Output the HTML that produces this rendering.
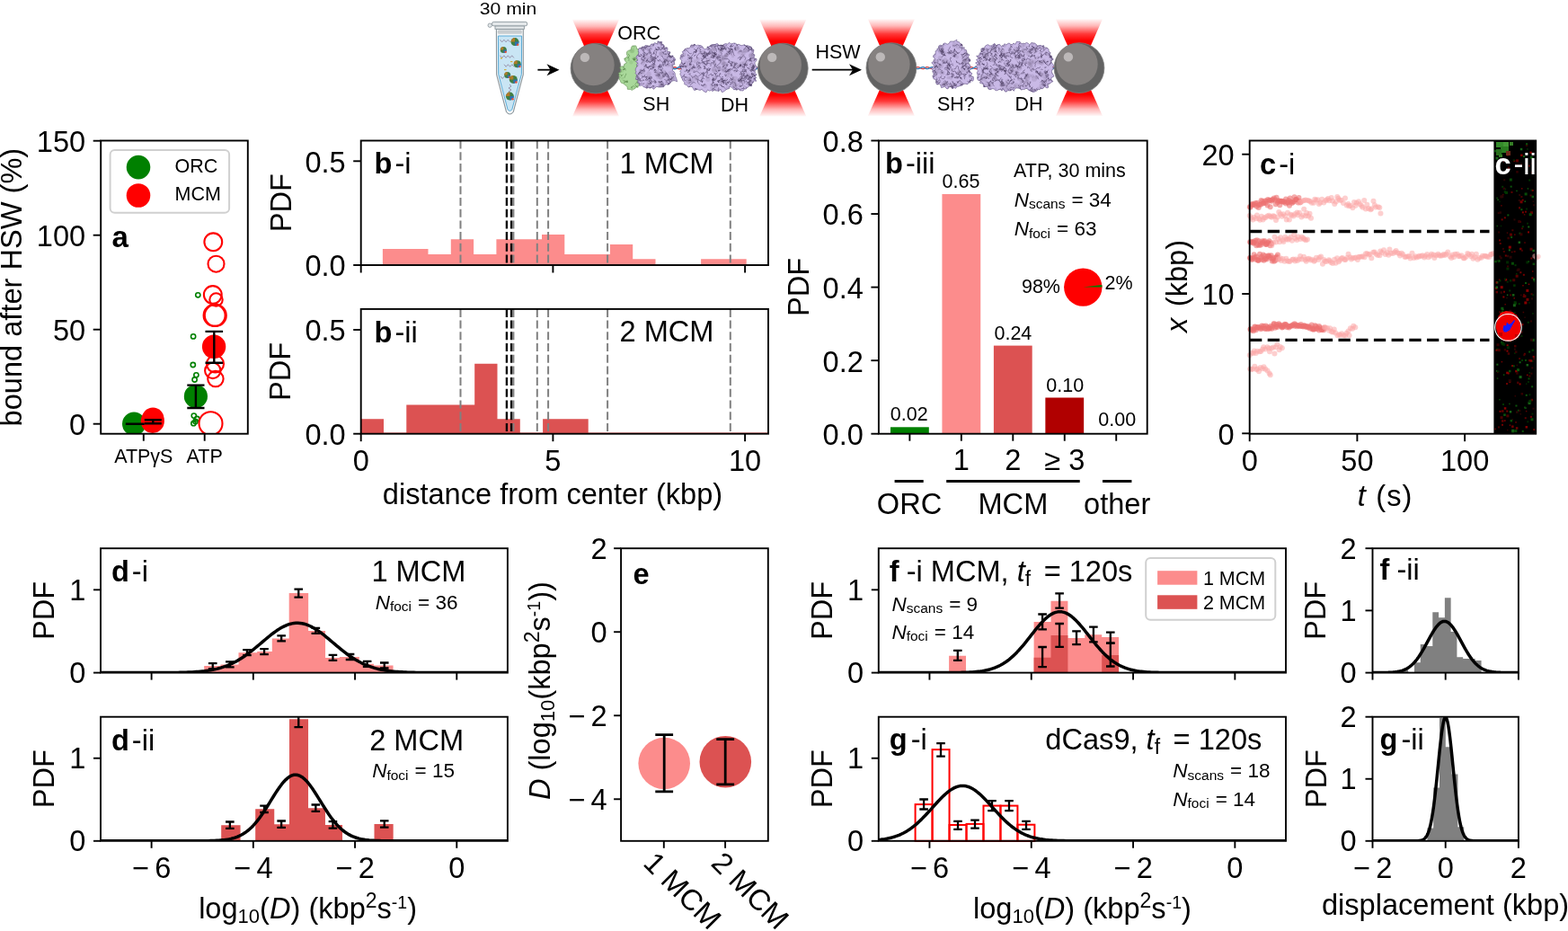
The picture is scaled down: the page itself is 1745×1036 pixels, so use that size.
<!DOCTYPE html>
<html><head><meta charset="utf-8"><style>
html,body{margin:0;padding:0;background:#fff;width:1745px;height:1036px;overflow:hidden}
svg{display:block;font-family:"Liberation Sans", Arial, Helvetica, sans-serif}
</style></head><body>
<svg width="1745" height="1036" viewBox="0 0 1745 1036">
<line x1="103.7" y1="471.7" x2="112.2" y2="471.7" stroke="#000" stroke-width="1.9" />
<text x="95.2" y="484.07" font-size="32.6" text-anchor="end" >0</text>
<line x1="103.7" y1="366.7" x2="112.2" y2="366.7" stroke="#000" stroke-width="1.9" />
<text x="95.2" y="379.07" font-size="32.6" text-anchor="end" >50</text>
<line x1="103.7" y1="261.7" x2="112.2" y2="261.7" stroke="#000" stroke-width="1.9" />
<text x="95.2" y="274.07" font-size="32.6" text-anchor="end" >100</text>
<line x1="103.7" y1="156.7" x2="112.2" y2="156.7" stroke="#000" stroke-width="1.9" />
<text x="95.2" y="169.07" font-size="32.6" text-anchor="end" >150</text>
<line x1="159.8" y1="482.7" x2="159.8" y2="490.7" stroke="#000" stroke-width="1.9" />
<text x="159.8" y="514.7" font-size="21.5" text-anchor="middle" >ATPγS</text>
<line x1="227.7" y1="482.7" x2="227.7" y2="490.7" stroke="#000" stroke-width="1.9" />
<text x="227.7" y="514.7" font-size="21.5" text-anchor="middle" >ATP</text>
<text x="24.2" y="319.6" font-size="32.6" text-anchor="middle" transform="rotate(-90 24.2 319.6)" >bound after HSW (%)</text>
<rect x="122.6" y="167.1" width="132.5" height="69.6" rx="5" fill="#fff" stroke="#d0d0d0" stroke-width="2"/>
<circle cx="154" cy="186.1" r="13.3" fill="#008000"/>
<circle cx="154" cy="217.5" r="13.3" fill="#ff0000"/>
<text x="194.6" y="192.1" font-size="21.5" >ORC</text>
<text x="194.6" y="223.3" font-size="21.5" >MCM</text>
<text x="124.5" y="275.4" font-size="33" font-weight="bold" >a</text>
<clipPath id="ca"><rect x="112.2" y="156.5" width="163.6" height="326.2"/></clipPath>
<g clip-path="url(#ca)">
<circle cx="149.1" cy="471.7" r="13.1" fill="#008000"/>
<circle cx="169.8" cy="468.8" r="13.1" fill="#ff0000"/>
<circle cx="170.2" cy="465.6" r="12.2" fill="#ff0000"/>
<line x1="139.8" y1="471.7" x2="160.7" y2="471.7" stroke="#000" stroke-width="2.4" />
<line x1="170.3" y1="467.2" x2="170.3" y2="471.2" stroke="#000" stroke-width="2.4" />
<line x1="160.8" y1="467.2" x2="179.8" y2="467.2" stroke="#000" stroke-width="2.4" />
<line x1="160.8" y1="471.2" x2="179.8" y2="471.2" stroke="#000" stroke-width="2.4" />
<circle cx="220.3" cy="328.3" r="2.6" fill="none" stroke="#008000" stroke-width="1.6"/>
<circle cx="215.1" cy="374.4" r="2.6" fill="none" stroke="#008000" stroke-width="1.6"/>
<circle cx="214.8" cy="406" r="2.6" fill="none" stroke="#008000" stroke-width="1.6"/>
<circle cx="218.4" cy="417.3" r="2.6" fill="none" stroke="#008000" stroke-width="1.6"/>
<circle cx="216.6" cy="422.5" r="2.6" fill="none" stroke="#008000" stroke-width="1.6"/>
<circle cx="215.8" cy="462.6" r="2.6" fill="none" stroke="#008000" stroke-width="1.6"/>
<circle cx="219.3" cy="466" r="2.6" fill="none" stroke="#008000" stroke-width="1.6"/>
<circle cx="215.4" cy="471.2" r="2.6" fill="none" stroke="#008000" stroke-width="1.6"/>
<circle cx="217.5" cy="469.0" r="2.6" fill="none" stroke="#008000" stroke-width="1.6"/>
<circle cx="237.3" cy="269.3" r="9.9" fill="none" stroke="#ff0000" stroke-width="2.1"/>
<circle cx="240.5" cy="293.7" r="9.0" fill="none" stroke="#ff0000" stroke-width="2.1"/>
<circle cx="236.8" cy="328" r="9.9" fill="none" stroke="#ff0000" stroke-width="2.1"/>
<circle cx="240.5" cy="333.5" r="7.2" fill="none" stroke="#ff0000" stroke-width="2.1"/>
<circle cx="238.6" cy="350.9" r="12.0" fill="none" stroke="#ff0000" stroke-width="2.1"/>
<circle cx="239.8" cy="350.9" r="12.0" fill="none" stroke="#ff0000" stroke-width="2.1"/>
<circle cx="239.5" cy="405" r="9.5" fill="none" stroke="#ff0000" stroke-width="2.1"/>
<circle cx="236.8" cy="412.4" r="8.7" fill="none" stroke="#ff0000" stroke-width="2.1"/>
<circle cx="239.9" cy="421.6" r="8.7" fill="none" stroke="#ff0000" stroke-width="2.1"/>
<circle cx="234.5" cy="471.2" r="13.0" fill="none" stroke="#ff0000" stroke-width="2.1"/>
<circle cx="217.9" cy="441" r="13.1" fill="#008000"/>
<line x1="217.9" y1="428.6" x2="217.9" y2="454" stroke="#000" stroke-width="2.4" />
<line x1="208.3" y1="428.6" x2="227.5" y2="428.6" stroke="#000" stroke-width="2.4" />
<line x1="208.3" y1="454" x2="227.5" y2="454" stroke="#000" stroke-width="2.4" />
<circle cx="238.1" cy="385.8" r="13.2" fill="#ff0000"/>
<line x1="238.3" y1="368.9" x2="238.3" y2="403.8" stroke="#000" stroke-width="2.4" />
<line x1="228.5" y1="368.9" x2="248.1" y2="368.9" stroke="#000" stroke-width="2.4" />
<line x1="228.5" y1="403.8" x2="248.1" y2="403.8" stroke="#000" stroke-width="2.4" />
</g>
<rect x="112.2" y="156.5" width="163.6" height="326.2" fill="none" stroke="#000" stroke-width="1.9"/>
<path d="M425.9,295 L425.9,276.9 L451.2,276.9 L451.2,276.9 L476.5,276.9 L476.5,282.9 L501.8,282.9 L501.8,266.3 L527.1,266.3 L527.1,282.9 L552.4,282.9 L552.4,266.3 L577.7,266.3 L577.7,266.3 L603,266.3 L603,261 L628.3,261 L628.3,282.9 L653.6,282.9 L653.6,282.9 L678.9,282.9 L678.9,272 L704.2,272 L704.2,288.2 L729.5,288.2 L729.5,295 Z M780.1,295 L780.1,288.2 L805.4,288.2 L805.4,288.2 L830.7,288.2 L830.7,295 Z " fill="#fc8c8c" />
<line x1="512.5" y1="156.5" x2="512.5" y2="295" stroke="#808080" stroke-width="2" stroke-dasharray="9 3.7"/>
<line x1="597.8" y1="156.5" x2="597.8" y2="295" stroke="#808080" stroke-width="2" stroke-dasharray="9 3.7"/>
<line x1="610.1" y1="156.5" x2="610.1" y2="295" stroke="#808080" stroke-width="2" stroke-dasharray="9 3.7"/>
<line x1="676.1" y1="156.5" x2="676.1" y2="295" stroke="#808080" stroke-width="2" stroke-dasharray="9 3.7"/>
<line x1="812.8" y1="156.5" x2="812.8" y2="295" stroke="#808080" stroke-width="2" stroke-dasharray="9 3.7"/>
<line x1="571.4" y1="156.5" x2="571.4" y2="295" stroke="#808080" stroke-width="2" stroke-dasharray="9 3.7"/>
<line x1="563.9" y1="156.5" x2="563.9" y2="295" stroke="#000" stroke-width="2.3" stroke-dasharray="9 3.7"/>
<line x1="569.1" y1="156.5" x2="569.1" y2="295" stroke="#000" stroke-width="2.3" stroke-dasharray="9 3.7"/>
<rect x="401.7" y="156.5" width="453.3" height="138.5" fill="none" stroke="#000" stroke-width="1.9"/>
<line x1="393.2" y1="295" x2="401.7" y2="295" stroke="#000" stroke-width="1.9" />
<text x="384.7" y="307.37" font-size="32.6" text-anchor="end" >0.0</text>
<line x1="393.2" y1="179.3" x2="401.7" y2="179.3" stroke="#000" stroke-width="1.9" />
<text x="384.7" y="191.67" font-size="32.6" text-anchor="end" >0.5</text>
<line x1="401.7" y1="295" x2="401.7" y2="303.5" stroke="#000" stroke-width="1.9" />
<line x1="615.4" y1="295" x2="615.4" y2="303.5" stroke="#000" stroke-width="1.9" />
<line x1="829.1" y1="295" x2="829.1" y2="303.5" stroke="#000" stroke-width="1.9" />
<text x="416.5" y="193.3" font-size="32.6"><tspan font-weight="bold">b</tspan><tspan dx="3">-i</tspan></text>
<text x="689.5" y="192.8" font-size="32.6" >1 MCM</text>
<text x="323.5" y="225.75" font-size="32.6" text-anchor="middle" transform="rotate(-90 323.5 225.75)" >PDF</text>
<line x1="401.7" y1="481.6" x2="855" y2="481.6" stroke="#dc5252" stroke-width="1" stroke-opacity="0.6"/>
<path d="M401.7,482.7 L401.7,466.2 L427,466.2 L427,482.7 Z M452.3,482.7 L452.3,450.6 L477.6,450.6 L477.6,450.6 L502.9,450.6 L502.9,450.6 L528.2,450.6 L528.2,404.8 L553.5,404.8 L553.5,466.2 L578.8,466.2 L578.8,482.7 Z M604.1,482.7 L604.1,466.2 L629.4,466.2 L629.4,466.2 L654.7,466.2 L654.7,482.7 Z " fill="#dc5252" />
<line x1="512.5" y1="343.9" x2="512.5" y2="482.7" stroke="#808080" stroke-width="2" stroke-dasharray="9 3.7"/>
<line x1="597.8" y1="343.9" x2="597.8" y2="482.7" stroke="#808080" stroke-width="2" stroke-dasharray="9 3.7"/>
<line x1="610.1" y1="343.9" x2="610.1" y2="482.7" stroke="#808080" stroke-width="2" stroke-dasharray="9 3.7"/>
<line x1="676.1" y1="343.9" x2="676.1" y2="482.7" stroke="#808080" stroke-width="2" stroke-dasharray="9 3.7"/>
<line x1="812.8" y1="343.9" x2="812.8" y2="482.7" stroke="#808080" stroke-width="2" stroke-dasharray="9 3.7"/>
<line x1="571.4" y1="343.9" x2="571.4" y2="482.7" stroke="#808080" stroke-width="2" stroke-dasharray="9 3.7"/>
<line x1="563.9" y1="343.9" x2="563.9" y2="482.7" stroke="#000" stroke-width="2.3" stroke-dasharray="9 3.7"/>
<line x1="569.1" y1="343.9" x2="569.1" y2="482.7" stroke="#000" stroke-width="2.3" stroke-dasharray="9 3.7"/>
<rect x="401.7" y="343.9" width="453.3" height="138.8" fill="none" stroke="#000" stroke-width="1.9"/>
<line x1="393.2" y1="482.7" x2="401.7" y2="482.7" stroke="#000" stroke-width="1.9" />
<text x="384.7" y="495.07" font-size="32.6" text-anchor="end" >0.0</text>
<line x1="393.2" y1="367" x2="401.7" y2="367" stroke="#000" stroke-width="1.9" />
<text x="384.7" y="379.37" font-size="32.6" text-anchor="end" >0.5</text>
<line x1="401.7" y1="482.7" x2="401.7" y2="491.2" stroke="#000" stroke-width="1.9" />
<text x="401.7" y="523.54" font-size="32.6" text-anchor="middle" >0</text>
<line x1="615.4" y1="482.7" x2="615.4" y2="491.2" stroke="#000" stroke-width="1.9" />
<text x="615.4" y="523.54" font-size="32.6" text-anchor="middle" >5</text>
<line x1="829.1" y1="482.7" x2="829.1" y2="491.2" stroke="#000" stroke-width="1.9" />
<text x="829.1" y="523.54" font-size="32.6" text-anchor="middle" >10</text>
<text x="416.5" y="380.7" font-size="32.6"><tspan font-weight="bold">b</tspan><tspan dx="3">-ii</tspan></text>
<text x="689.5" y="380.2" font-size="32.6" >2 MCM</text>
<text x="323.5" y="413.3" font-size="32.6" text-anchor="middle" transform="rotate(-90 323.5 413.3)" >PDF</text>
<text x="615" y="560.5" font-size="32.6" text-anchor="middle" >distance from center (kbp)</text>
<rect x="990.98" y="475.3" width="42.8" height="7.4" fill="#008000" />
<rect x="1048.44" y="216" width="42.8" height="266.7" fill="#fc8c8c" />
<rect x="1105.9" y="384.6" width="42.8" height="98.1" fill="#dc5252" />
<rect x="1163.36" y="442.5" width="42.8" height="40.2" fill="#b00000" />
<rect x="977.9" y="156.5" width="298.8" height="326.2" fill="none" stroke="#000" stroke-width="1.9"/>
<line x1="969.4" y1="482.7" x2="977.9" y2="482.7" stroke="#000" stroke-width="1.9" />
<text x="960.9" y="495.07" font-size="32.6" text-anchor="end" >0.0</text>
<line x1="969.4" y1="401.15" x2="977.9" y2="401.15" stroke="#000" stroke-width="1.9" />
<text x="960.9" y="413.52" font-size="32.6" text-anchor="end" >0.2</text>
<line x1="969.4" y1="319.6" x2="977.9" y2="319.6" stroke="#000" stroke-width="1.9" />
<text x="960.9" y="331.97" font-size="32.6" text-anchor="end" >0.4</text>
<line x1="969.4" y1="238.05" x2="977.9" y2="238.05" stroke="#000" stroke-width="1.9" />
<text x="960.9" y="250.42" font-size="32.6" text-anchor="end" >0.6</text>
<line x1="969.4" y1="156.5" x2="977.9" y2="156.5" stroke="#000" stroke-width="1.9" />
<text x="960.9" y="168.87" font-size="32.6" text-anchor="end" >0.8</text>
<line x1="1012.38" y1="482.7" x2="1012.38" y2="490.7" stroke="#000" stroke-width="1.9" />
<line x1="1069.84" y1="482.7" x2="1069.84" y2="490.7" stroke="#000" stroke-width="1.9" />
<text x="1069.84" y="523.4" font-size="32.6" text-anchor="middle" >1</text>
<line x1="1127.3" y1="482.7" x2="1127.3" y2="490.7" stroke="#000" stroke-width="1.9" />
<text x="1127.3" y="523.4" font-size="32.6" text-anchor="middle" >2</text>
<line x1="1184.76" y1="482.7" x2="1184.76" y2="490.7" stroke="#000" stroke-width="1.9" />
<text x="1184.76" y="523.4" font-size="32.6" text-anchor="middle" >≥ 3</text>
<line x1="1242.22" y1="482.7" x2="1242.22" y2="490.7" stroke="#000" stroke-width="1.9" />
<text x="1011.8" y="467.5" font-size="21.5" text-anchor="middle" >0.02</text>
<text x="1069.5" y="209.2" font-size="21.5" text-anchor="middle" >0.65</text>
<text x="1127.4" y="377.6" font-size="21.5" text-anchor="middle" >0.24</text>
<text x="1185.2" y="435.6" font-size="21.5" text-anchor="middle" >0.10</text>
<text x="1243.2" y="474.1" font-size="21.5" text-anchor="middle" >0.00</text>
<line x1="995.6" y1="535.6" x2="1027.7" y2="535.6" stroke="#000" stroke-width="3" />
<line x1="1053.2" y1="535.6" x2="1201.7" y2="535.6" stroke="#000" stroke-width="3" />
<line x1="1227" y1="535.6" x2="1259.4" y2="535.6" stroke="#000" stroke-width="3" />
<text x="1012" y="572.1" font-size="32.6" text-anchor="middle" >ORC</text>
<text x="1127.4" y="572.1" font-size="32.6" text-anchor="middle" >MCM</text>
<text x="1243.2" y="572.1" font-size="32.6" text-anchor="middle" >other</text>
<text x="985" y="192.7" font-size="32.6"><tspan font-weight="bold">b</tspan><tspan dx="3">-iii</tspan></text>
<text x="900" y="319.5" font-size="32.6" text-anchor="middle" transform="rotate(-90 900 319.5)" >PDF</text>
<text x="1128.1" y="197.2" font-size="21.5" >ATP, 30 mins</text>
<text x="1128.7" y="229.9" font-size="22.5"><tspan font-style="italic">N</tspan><tspan font-size="15.5" dy="2.5">scans</tspan><tspan dx="7" dy="-2.5">= 34</tspan></text>
<text x="1128.7" y="262" font-size="22.5"><tspan font-style="italic">N</tspan><tspan font-size="15.5" dy="2.5">foci</tspan><tspan dx="7" dy="-2.5">= 63</tspan></text>
<circle cx="1205.3" cy="319.6" r="21.2" fill="#ff0000"/>
<path d="M1205.3,319.6 L1226.5,319.6 A21.2,21.2 0 0 0 1226.33,316.94 Z" fill="#008000"/>
<text x="1180" y="326" font-size="21.5" text-anchor="end" >98%</text>
<text x="1229.6" y="321.8" font-size="21.5" >2%</text>
<g fill="#ec7272" fill-opacity="0.6"><circle cx="1390.82" cy="230.25" r="3.0"/><circle cx="1391.5" cy="230.84" r="3.0"/><circle cx="1392.88" cy="227.43" r="3.0"/><circle cx="1393.78" cy="228.37" r="3.0"/><circle cx="1394.23" cy="226.81" r="3.0"/><circle cx="1395.21" cy="227.79" r="3.0"/><circle cx="1396.46" cy="227.81" r="3.0"/><circle cx="1397.18" cy="226.04" r="3.0"/><circle cx="1398.51" cy="229.77" r="3.0"/><circle cx="1399.2" cy="225.77" r="3.0"/><circle cx="1400.71" cy="230.92" r="3.0"/><circle cx="1400.94" cy="227.71" r="3.0"/><circle cx="1401.72" cy="227.68" r="3.0"/><circle cx="1403.32" cy="227.38" r="3.0"/><circle cx="1403.6" cy="223.02" r="3.0"/><circle cx="1404.72" cy="224.09" r="3.0"/><circle cx="1405.82" cy="226.28" r="3.0"/><circle cx="1406.4" cy="225.67" r="3.0"/><circle cx="1407.8" cy="223.39" r="3.0"/><circle cx="1408.62" cy="225.89" r="3.0"/><circle cx="1409.41" cy="223.58" r="3.0"/><circle cx="1410.58" cy="228.56" r="3.0"/><circle cx="1411.05" cy="221.99" r="3.0"/><circle cx="1412.61" cy="223.05" r="3.0"/><circle cx="1413.38" cy="222.63" r="3.0"/><circle cx="1413.69" cy="230.23" r="3.0"/><circle cx="1414.92" cy="223.86" r="3.0"/><circle cx="1415.9" cy="222.51" r="3.0"/><circle cx="1416.37" cy="221.93" r="3.0"/><circle cx="1417.82" cy="220.47" r="3.0"/><circle cx="1419.03" cy="222.52" r="3.0"/><circle cx="1419.67" cy="227.19" r="3.0"/><circle cx="1420.57" cy="219.72" r="3.0"/><circle cx="1421.84" cy="225.18" r="3.0"/><circle cx="1422.29" cy="223.59" r="3.0"/><circle cx="1423.43" cy="223.33" r="3.0"/><circle cx="1424.29" cy="228.33" r="3.0"/><circle cx="1424.84" cy="223.9" r="3.0"/><circle cx="1425.86" cy="223.87" r="3.0"/><circle cx="1426.85" cy="223.71" r="3.0"/><circle cx="1427.47" cy="224.75" r="3.0"/><circle cx="1428.98" cy="224.72" r="3.0"/><circle cx="1429.26" cy="224.25" r="3.0"/><circle cx="1430.91" cy="226.53" r="3.0"/><circle cx="1431.04" cy="221.51" r="3.0"/><circle cx="1432.75" cy="225.2" r="3.0"/><circle cx="1433.6" cy="225.53" r="3.0"/><circle cx="1434.12" cy="222.94" r="3.0"/><circle cx="1434.97" cy="228.69" r="3.0"/><circle cx="1435.68" cy="220.54" r="3.0"/><circle cx="1436.62" cy="224.61" r="3.0"/><circle cx="1437.84" cy="226.11" r="3.0"/><circle cx="1438.86" cy="224.45" r="3.0"/><circle cx="1439.6" cy="224.7" r="3.0"/><circle cx="1440.47" cy="219.32" r="3.0"/><circle cx="1441.7" cy="222.24" r="3.0"/><circle cx="1442.44" cy="222.02" r="3.0"/><circle cx="1442.9" cy="222.27" r="3.0"/><circle cx="1444.66" cy="225.5" r="3.0"/><circle cx="1445.47" cy="220.05" r="3.0"/><circle cx="1445.98" cy="223.81" r="3.0"/><circle cx="1447.13" cy="225.34" r="3.0"/></g>
<g fill="#fca8a8" fill-opacity="0.55"><circle cx="1446.56" cy="225.44" r="3.0"/><circle cx="1448.26" cy="224.35" r="3.0"/><circle cx="1450.04" cy="223.45" r="3.0"/><circle cx="1451.45" cy="223.12" r="3.0"/><circle cx="1453" cy="222.46" r="3.0"/><circle cx="1455.37" cy="222.9" r="3.0"/><circle cx="1456.77" cy="223.57" r="3.0"/><circle cx="1458.15" cy="223.95" r="3.0"/><circle cx="1459.82" cy="225.77" r="3.0"/><circle cx="1462.1" cy="225.71" r="3.0"/><circle cx="1463.23" cy="221.64" r="3.0"/><circle cx="1464.52" cy="222.73" r="3.0"/><circle cx="1466.41" cy="222.25" r="3.0"/><circle cx="1467.88" cy="226.98" r="3.0"/><circle cx="1469.39" cy="225.38" r="3.0"/><circle cx="1471.17" cy="221.86" r="3.0"/><circle cx="1473.22" cy="225.52" r="3.0"/><circle cx="1475.3" cy="223.24" r="3.0"/><circle cx="1476.84" cy="222.19" r="3.0"/><circle cx="1478" cy="221.12" r="3.0"/><circle cx="1479.45" cy="223.22" r="3.0"/><circle cx="1481.71" cy="220.04" r="3.0"/><circle cx="1482.92" cy="223.58" r="3.0"/><circle cx="1485.22" cy="227.03" r="3.0"/><circle cx="1486.74" cy="224.38" r="3.0"/><circle cx="1488.28" cy="218.95" r="3.0"/><circle cx="1489.42" cy="220.81" r="3.0"/><circle cx="1490.88" cy="222.74" r="3.0"/><circle cx="1492.53" cy="222.67" r="3.0"/><circle cx="1494.94" cy="226" r="3.0"/><circle cx="1496.96" cy="220.39" r="3.0"/><circle cx="1498.74" cy="228.51" r="3.0"/><circle cx="1500.46" cy="226.93" r="3.0"/><circle cx="1501.39" cy="229.3" r="3.0"/><circle cx="1503.03" cy="229.08" r="3.0"/><circle cx="1505.4" cy="231.34" r="3.0"/><circle cx="1507.01" cy="225.01" r="3.0"/><circle cx="1508.63" cy="228.85" r="3.0"/><circle cx="1509.58" cy="225.81" r="3.0"/><circle cx="1511.95" cy="224.31" r="3.0"/><circle cx="1513.58" cy="227.24" r="3.0"/><circle cx="1515.29" cy="228.95" r="3.0"/><circle cx="1516.5" cy="230.76" r="3.0"/><circle cx="1518.23" cy="223.09" r="3.0"/><circle cx="1519.9" cy="232.49" r="3.0"/><circle cx="1521.34" cy="227.87" r="3.0"/><circle cx="1522.96" cy="232.07" r="3.0"/><circle cx="1525.31" cy="233.31" r="3.0"/><circle cx="1526.31" cy="232.31" r="3.0"/><circle cx="1528.49" cy="223.7" r="3.0"/><circle cx="1529.85" cy="228.34" r="3.0"/><circle cx="1531.14" cy="230.38" r="3.0"/><circle cx="1533.72" cy="230.34" r="3.0"/><circle cx="1535.31" cy="230.98" r="3.0"/><circle cx="1536.43" cy="237.48" r="3.0"/></g>
<g fill="#fca8a8" fill-opacity="0.55"><circle cx="1390.71" cy="239.9" r="3.0"/><circle cx="1392.36" cy="242.44" r="3.0"/><circle cx="1394.31" cy="244.44" r="3.0"/><circle cx="1395.59" cy="241.64" r="3.0"/><circle cx="1397.85" cy="243.19" r="3.0"/><circle cx="1398.91" cy="239.56" r="3.0"/><circle cx="1401.07" cy="243.19" r="3.0"/><circle cx="1402.2" cy="244.66" r="3.0"/><circle cx="1403.92" cy="240.86" r="3.0"/><circle cx="1405.52" cy="244.56" r="3.0"/><circle cx="1406.79" cy="242.29" r="3.0"/><circle cx="1408.23" cy="242.33" r="3.0"/><circle cx="1410.31" cy="240.45" r="3.0"/><circle cx="1412.17" cy="239.78" r="3.0"/><circle cx="1413.57" cy="240.89" r="3.0"/><circle cx="1415.22" cy="241.73" r="3.0"/><circle cx="1416.84" cy="240.34" r="3.0"/><circle cx="1418.14" cy="240.63" r="3.0"/><circle cx="1420.01" cy="245.1" r="3.0"/><circle cx="1421.71" cy="241.44" r="3.0"/><circle cx="1423.23" cy="235.97" r="3.0"/><circle cx="1425.05" cy="238.21" r="3.0"/><circle cx="1426.78" cy="240.79" r="3.0"/><circle cx="1428.18" cy="238.24" r="3.0"/><circle cx="1430.32" cy="240.18" r="3.0"/><circle cx="1431.72" cy="244.57" r="3.0"/><circle cx="1432.93" cy="236.72" r="3.0"/><circle cx="1434.87" cy="244.61" r="3.0"/><circle cx="1436.1" cy="238.87" r="3.0"/><circle cx="1437.73" cy="239.49" r="3.0"/><circle cx="1439.49" cy="240.57" r="3.0"/><circle cx="1440.97" cy="238.22" r="3.0"/><circle cx="1443.44" cy="236.57" r="3.0"/><circle cx="1444.34" cy="239.3" r="3.0"/><circle cx="1445.98" cy="236.63" r="3.0"/><circle cx="1448.36" cy="241.44" r="3.0"/><circle cx="1450.08" cy="239.45" r="3.0"/><circle cx="1451.17" cy="232.75" r="3.0"/><circle cx="1453.25" cy="240.17" r="3.0"/><circle cx="1454.22" cy="237.02" r="3.0"/><circle cx="1456.05" cy="240.61" r="3.0"/><circle cx="1457.55" cy="237.84" r="3.0"/><circle cx="1459.02" cy="242.65" r="3.0"/></g>
<g fill="#ec7272" fill-opacity="0.6"><circle cx="1391.05" cy="269.19" r="3.0"/><circle cx="1391.74" cy="269.76" r="3.0"/><circle cx="1392.94" cy="268.76" r="3.0"/><circle cx="1394.21" cy="269.54" r="3.0"/><circle cx="1394.92" cy="270.67" r="3.0"/><circle cx="1395.3" cy="269.41" r="3.0"/><circle cx="1395.98" cy="269.93" r="3.0"/><circle cx="1396.98" cy="267.8" r="3.0"/><circle cx="1398.18" cy="273.21" r="3.0"/><circle cx="1398.93" cy="267.35" r="3.0"/><circle cx="1399.72" cy="272.21" r="3.0"/><circle cx="1401.18" cy="268.15" r="3.0"/><circle cx="1401.48" cy="272.88" r="3.0"/><circle cx="1402.72" cy="270.84" r="3.0"/><circle cx="1403.28" cy="272.62" r="3.0"/><circle cx="1404.91" cy="268.37" r="3.0"/><circle cx="1405.1" cy="270.13" r="3.0"/><circle cx="1406.79" cy="268.93" r="3.0"/><circle cx="1407.29" cy="268.05" r="3.0"/><circle cx="1408.67" cy="272.07" r="3.0"/><circle cx="1408.92" cy="271.54" r="3.0"/><circle cx="1409.79" cy="271.64" r="3.0"/><circle cx="1410.57" cy="269.99" r="3.0"/><circle cx="1411.57" cy="270.23" r="3.0"/><circle cx="1412.59" cy="268.28" r="3.0"/><circle cx="1413.48" cy="273.25" r="3.0"/><circle cx="1414.59" cy="270.53" r="3.0"/><circle cx="1415.02" cy="271.51" r="3.0"/></g>
<g fill="#fca8a8" fill-opacity="0.55"><circle cx="1415.25" cy="273.32" r="3.0"/><circle cx="1417.18" cy="269.65" r="3.0"/><circle cx="1418.46" cy="263.68" r="3.0"/><circle cx="1420.01" cy="269.53" r="3.0"/><circle cx="1422.35" cy="265.93" r="3.0"/><circle cx="1424" cy="269.18" r="3.0"/><circle cx="1425.19" cy="264.25" r="3.0"/><circle cx="1427.42" cy="267.31" r="3.0"/><circle cx="1428.41" cy="268.93" r="3.0"/><circle cx="1430.34" cy="263.71" r="3.0"/><circle cx="1431.74" cy="266.09" r="3.0"/><circle cx="1433.1" cy="266.86" r="3.0"/><circle cx="1434.67" cy="265.82" r="3.0"/><circle cx="1436.4" cy="263.85" r="3.0"/><circle cx="1437.95" cy="267.83" r="3.0"/><circle cx="1440.17" cy="261.09" r="3.0"/><circle cx="1441.45" cy="265.18" r="3.0"/><circle cx="1443.29" cy="267.08" r="3.0"/><circle cx="1444.66" cy="263.56" r="3.0"/><circle cx="1447.13" cy="265.93" r="3.0"/><circle cx="1448.81" cy="263.77" r="3.0"/><circle cx="1450.47" cy="265" r="3.0"/><circle cx="1451.48" cy="266.27" r="3.0"/><circle cx="1453.21" cy="267.25" r="3.0"/><circle cx="1454.97" cy="266.46" r="3.0"/></g>
<g fill="#ec7272" fill-opacity="0.6"><circle cx="1391" cy="286.97" r="3.0"/><circle cx="1391.41" cy="286.91" r="3.0"/><circle cx="1392.72" cy="287.99" r="3.0"/><circle cx="1393.27" cy="288.94" r="3.0"/><circle cx="1394.37" cy="287.28" r="3.0"/><circle cx="1395.63" cy="283.23" r="3.0"/><circle cx="1396.61" cy="286.3" r="3.0"/><circle cx="1397.58" cy="288.66" r="3.0"/><circle cx="1398.09" cy="285.43" r="3.0"/><circle cx="1399.66" cy="289.18" r="3.0"/><circle cx="1400.23" cy="289.98" r="3.0"/><circle cx="1400.54" cy="289.48" r="3.0"/><circle cx="1402.03" cy="282.83" r="3.0"/><circle cx="1403.05" cy="287.48" r="3.0"/><circle cx="1403.74" cy="285.84" r="3.0"/><circle cx="1404.63" cy="289.11" r="3.0"/><circle cx="1405.86" cy="283.42" r="3.0"/><circle cx="1406.53" cy="289.72" r="3.0"/><circle cx="1407.55" cy="284.83" r="3.0"/><circle cx="1407.99" cy="288.21" r="3.0"/><circle cx="1409.03" cy="287.24" r="3.0"/><circle cx="1409.68" cy="288.51" r="3.0"/><circle cx="1411.12" cy="284.48" r="3.0"/><circle cx="1412.02" cy="285.87" r="3.0"/><circle cx="1412.31" cy="284.58" r="3.0"/><circle cx="1414.01" cy="286.97" r="3.0"/><circle cx="1414.66" cy="284.28" r="3.0"/><circle cx="1415.69" cy="290.44" r="3.0"/><circle cx="1416.19" cy="288.52" r="3.0"/><circle cx="1416.92" cy="286.64" r="3.0"/><circle cx="1417.96" cy="290.7" r="3.0"/><circle cx="1419.41" cy="289.65" r="3.0"/><circle cx="1419.96" cy="286.59" r="3.0"/><circle cx="1420.96" cy="285.41" r="3.0"/><circle cx="1422.01" cy="283.41" r="3.0"/><circle cx="1422.94" cy="288.15" r="3.0"/></g>
<g fill="#fca8a8" fill-opacity="0.55"><circle cx="1422.75" cy="288.42" r="3.0"/><circle cx="1424.87" cy="287.37" r="3.0"/><circle cx="1425.77" cy="290.09" r="3.0"/><circle cx="1427.45" cy="287.92" r="3.0"/><circle cx="1429.71" cy="290.65" r="3.0"/><circle cx="1431.32" cy="287.85" r="3.0"/><circle cx="1432.74" cy="290.28" r="3.0"/><circle cx="1434.37" cy="290.97" r="3.0"/><circle cx="1435.73" cy="290.84" r="3.0"/><circle cx="1438.14" cy="288.89" r="3.0"/><circle cx="1439.24" cy="288.57" r="3.0"/><circle cx="1441.23" cy="290.47" r="3.0"/><circle cx="1442.31" cy="288.47" r="3.0"/><circle cx="1443.88" cy="289.93" r="3.0"/><circle cx="1445.88" cy="288.59" r="3.0"/><circle cx="1447.07" cy="285.12" r="3.0"/><circle cx="1448.69" cy="288.5" r="3.0"/><circle cx="1451.01" cy="285.83" r="3.0"/><circle cx="1452.52" cy="289.05" r="3.0"/><circle cx="1453.67" cy="290.78" r="3.0"/><circle cx="1455.1" cy="288.26" r="3.0"/><circle cx="1456.7" cy="287.69" r="3.0"/><circle cx="1458.63" cy="289.6" r="3.0"/><circle cx="1460.1" cy="288.8" r="3.0"/><circle cx="1462.43" cy="290.8" r="3.0"/><circle cx="1463.22" cy="289.73" r="3.0"/><circle cx="1464.96" cy="286.72" r="3.0"/><circle cx="1467.4" cy="289.06" r="3.0"/><circle cx="1468.39" cy="286.57" r="3.0"/><circle cx="1470.1" cy="285.4" r="3.0"/><circle cx="1471.95" cy="293.71" r="3.0"/><circle cx="1473.35" cy="288.97" r="3.0"/><circle cx="1474.66" cy="290.75" r="3.0"/><circle cx="1476.34" cy="290.93" r="3.0"/><circle cx="1478.81" cy="289.2" r="3.0"/><circle cx="1479.75" cy="290.21" r="3.0"/><circle cx="1481.29" cy="292.05" r="3.0"/><circle cx="1483.07" cy="293.09" r="3.0"/><circle cx="1485.11" cy="288.73" r="3.0"/><circle cx="1486.53" cy="292.63" r="3.0"/><circle cx="1488.05" cy="287.15" r="3.0"/><circle cx="1489.82" cy="291.34" r="3.0"/><circle cx="1491.15" cy="289.4" r="3.0"/><circle cx="1493.05" cy="287.54" r="3.0"/><circle cx="1493.95" cy="287.06" r="3.0"/><circle cx="1496.43" cy="289.1" r="3.0"/><circle cx="1497.44" cy="288.88" r="3.0"/><circle cx="1499" cy="287.03" r="3.0"/><circle cx="1500.56" cy="282.71" r="3.0"/><circle cx="1502.56" cy="286.17" r="3.0"/><circle cx="1503.89" cy="288.5" r="3.0"/><circle cx="1505.27" cy="286.88" r="3.0"/><circle cx="1507.61" cy="286.98" r="3.0"/><circle cx="1508.8" cy="286.44" r="3.0"/><circle cx="1510.9" cy="288.96" r="3.0"/><circle cx="1511.95" cy="285.95" r="3.0"/><circle cx="1513.19" cy="285.83" r="3.0"/><circle cx="1515.04" cy="285.76" r="3.0"/><circle cx="1516.56" cy="285.15" r="3.0"/><circle cx="1518.47" cy="286.28" r="3.0"/><circle cx="1519.91" cy="282.27" r="3.0"/><circle cx="1521.58" cy="282.27" r="3.0"/><circle cx="1523.17" cy="283.38" r="3.0"/><circle cx="1524.56" cy="282.7" r="3.0"/><circle cx="1526.29" cy="287.35" r="3.0"/><circle cx="1528.34" cy="280.84" r="3.0"/><circle cx="1529.72" cy="280.51" r="3.0"/><circle cx="1531.44" cy="282.65" r="3.0"/><circle cx="1533.28" cy="284.06" r="3.0"/><circle cx="1535.45" cy="284.14" r="3.0"/><circle cx="1536.19" cy="279.41" r="3.0"/><circle cx="1537.87" cy="281" r="3.0"/><circle cx="1539.97" cy="278.37" r="3.0"/><circle cx="1541.75" cy="283.07" r="3.0"/><circle cx="1543.76" cy="281.28" r="3.0"/><circle cx="1545.33" cy="283.72" r="3.0"/><circle cx="1546.42" cy="277.51" r="3.0"/><circle cx="1547.94" cy="281.79" r="3.0"/><circle cx="1550.18" cy="282.1" r="3.0"/><circle cx="1552.11" cy="280.49" r="3.0"/><circle cx="1553.6" cy="279.03" r="3.0"/><circle cx="1554.96" cy="281.27" r="3.0"/><circle cx="1556.95" cy="281.96" r="3.0"/><circle cx="1558.07" cy="284.52" r="3.0"/><circle cx="1559.8" cy="281.79" r="3.0"/><circle cx="1561.29" cy="283.27" r="3.0"/><circle cx="1563.53" cy="285.98" r="3.0"/><circle cx="1564.61" cy="285.86" r="3.0"/><circle cx="1566.75" cy="285.33" r="3.0"/><circle cx="1568.22" cy="285.26" r="3.0"/><circle cx="1569.51" cy="287.44" r="3.0"/><circle cx="1571.47" cy="281.78" r="3.0"/><circle cx="1573.48" cy="287.09" r="3.0"/><circle cx="1575.38" cy="285.34" r="3.0"/><circle cx="1576.41" cy="286.51" r="3.0"/><circle cx="1578.79" cy="285.78" r="3.0"/><circle cx="1579.52" cy="284.68" r="3.0"/><circle cx="1581.66" cy="285.07" r="3.0"/><circle cx="1583.09" cy="284.18" r="3.0"/><circle cx="1585.17" cy="286.52" r="3.0"/><circle cx="1586.2" cy="284.81" r="3.0"/><circle cx="1588.17" cy="283.04" r="3.0"/><circle cx="1589.7" cy="286.16" r="3.0"/><circle cx="1591.96" cy="284.7" r="3.0"/><circle cx="1593.04" cy="282.77" r="3.0"/><circle cx="1595.47" cy="283.38" r="3.0"/><circle cx="1596.4" cy="287.08" r="3.0"/><circle cx="1598.05" cy="284.25" r="3.0"/><circle cx="1600.45" cy="282.67" r="3.0"/><circle cx="1601.66" cy="284.27" r="3.0"/><circle cx="1603.25" cy="284.72" r="3.0"/><circle cx="1605.17" cy="284.35" r="3.0"/><circle cx="1606.56" cy="283.05" r="3.0"/><circle cx="1608.05" cy="284.04" r="3.0"/><circle cx="1609.55" cy="282.86" r="3.0"/><circle cx="1611.23" cy="280.44" r="3.0"/><circle cx="1613.72" cy="285.36" r="3.0"/><circle cx="1615.23" cy="287.06" r="3.0"/><circle cx="1616.5" cy="283.42" r="3.0"/><circle cx="1618.02" cy="286.03" r="3.0"/><circle cx="1619.53" cy="282.68" r="3.0"/><circle cx="1621.83" cy="282.71" r="3.0"/><circle cx="1623.17" cy="285.02" r="3.0"/><circle cx="1624.67" cy="285.37" r="3.0"/><circle cx="1626.52" cy="284.21" r="3.0"/><circle cx="1628.79" cy="287.25" r="3.0"/><circle cx="1629.71" cy="287.33" r="3.0"/><circle cx="1631.52" cy="285.84" r="3.0"/><circle cx="1633.27" cy="281.99" r="3.0"/><circle cx="1634.55" cy="283.26" r="3.0"/><circle cx="1637.09" cy="285.16" r="3.0"/><circle cx="1638.03" cy="282.78" r="3.0"/><circle cx="1639.53" cy="287.71" r="3.0"/><circle cx="1641.58" cy="286.3" r="3.0"/><circle cx="1642.87" cy="282.85" r="3.0"/><circle cx="1644.53" cy="288.82" r="3.0"/><circle cx="1646.46" cy="286.93" r="3.0"/><circle cx="1648.65" cy="286.77" r="3.0"/><circle cx="1649.87" cy="284.78" r="3.0"/><circle cx="1652.26" cy="284.77" r="3.0"/><circle cx="1653.72" cy="284.91" r="3.0"/><circle cx="1655.02" cy="285.78" r="3.0"/><circle cx="1657.16" cy="285.99" r="3.0"/><circle cx="1659.02" cy="283.35" r="3.0"/><circle cx="1659.82" cy="283.09" r="3.0"/><circle cx="1661.73" cy="282.04" r="3.0"/></g>
<g fill="#ec7272" fill-opacity="0.6"><circle cx="1391.45" cy="366.58" r="3.0"/><circle cx="1391.79" cy="365.91" r="3.0"/><circle cx="1392.81" cy="367.43" r="3.0"/><circle cx="1394.15" cy="366.87" r="3.0"/><circle cx="1394.86" cy="368.15" r="3.0"/><circle cx="1395.85" cy="365.9" r="3.0"/><circle cx="1396.27" cy="363.5" r="3.0"/><circle cx="1397.16" cy="363.76" r="3.0"/><circle cx="1397.83" cy="367.37" r="3.0"/><circle cx="1398.85" cy="365.32" r="3.0"/><circle cx="1399.63" cy="364.09" r="3.0"/><circle cx="1400.5" cy="363.88" r="3.0"/><circle cx="1402.36" cy="364.63" r="3.0"/><circle cx="1403.16" cy="366.16" r="3.0"/><circle cx="1403.27" cy="364.82" r="3.0"/><circle cx="1404.19" cy="362.47" r="3.0"/><circle cx="1405.45" cy="364.77" r="3.0"/><circle cx="1406.14" cy="362.86" r="3.0"/><circle cx="1407.49" cy="365.64" r="3.0"/><circle cx="1408.47" cy="365.78" r="3.0"/><circle cx="1408.75" cy="362.62" r="3.0"/><circle cx="1410.37" cy="363.83" r="3.0"/><circle cx="1410.81" cy="366.15" r="3.0"/><circle cx="1412.08" cy="364.56" r="3.0"/><circle cx="1412.5" cy="365.2" r="3.0"/><circle cx="1413.31" cy="365.52" r="3.0"/><circle cx="1414.39" cy="362.66" r="3.0"/><circle cx="1415.36" cy="365.67" r="3.0"/><circle cx="1416.11" cy="363.73" r="3.0"/><circle cx="1417.59" cy="361.11" r="3.0"/><circle cx="1417.79" cy="359.88" r="3.0"/><circle cx="1419.07" cy="364.79" r="3.0"/><circle cx="1420.41" cy="360.89" r="3.0"/><circle cx="1420.45" cy="363.2" r="3.0"/><circle cx="1421.51" cy="364.05" r="3.0"/><circle cx="1423.2" cy="360.23" r="3.0"/><circle cx="1423.51" cy="361.41" r="3.0"/><circle cx="1424.91" cy="361.94" r="3.0"/><circle cx="1425.73" cy="363.32" r="3.0"/><circle cx="1426.81" cy="364.45" r="3.0"/><circle cx="1427.39" cy="364.02" r="3.0"/><circle cx="1427.9" cy="362.12" r="3.0"/><circle cx="1428.79" cy="363.2" r="3.0"/><circle cx="1429.75" cy="360.73" r="3.0"/><circle cx="1430.61" cy="361.14" r="3.0"/><circle cx="1431.33" cy="361.26" r="3.0"/><circle cx="1432.41" cy="364.23" r="3.0"/><circle cx="1433.45" cy="362.91" r="3.0"/><circle cx="1434.59" cy="364.6" r="3.0"/><circle cx="1435.02" cy="363.16" r="3.0"/><circle cx="1436.41" cy="362.76" r="3.0"/><circle cx="1437.41" cy="362.53" r="3.0"/><circle cx="1438.38" cy="362.17" r="3.0"/><circle cx="1439" cy="361.32" r="3.0"/><circle cx="1440.45" cy="362.76" r="3.0"/><circle cx="1440.73" cy="360.33" r="3.0"/><circle cx="1441.75" cy="361.17" r="3.0"/><circle cx="1443.12" cy="363.29" r="3.0"/><circle cx="1443.37" cy="361.96" r="3.0"/><circle cx="1444.82" cy="362.15" r="3.0"/><circle cx="1445.92" cy="362.39" r="3.0"/><circle cx="1446.36" cy="363.01" r="3.0"/><circle cx="1447.73" cy="361.09" r="3.0"/><circle cx="1448.23" cy="362.73" r="3.0"/><circle cx="1449.24" cy="362.94" r="3.0"/><circle cx="1450.25" cy="363.38" r="3.0"/><circle cx="1451.15" cy="362.61" r="3.0"/><circle cx="1451.82" cy="362.24" r="3.0"/><circle cx="1452.65" cy="363.18" r="3.0"/><circle cx="1453.8" cy="363.97" r="3.0"/><circle cx="1454.69" cy="363.12" r="3.0"/><circle cx="1455.93" cy="364.54" r="3.0"/><circle cx="1456.17" cy="363.48" r="3.0"/><circle cx="1457.9" cy="365.51" r="3.0"/><circle cx="1457.93" cy="363.67" r="3.0"/><circle cx="1459.72" cy="361.58" r="3.0"/><circle cx="1460.34" cy="366.28" r="3.0"/><circle cx="1461.46" cy="365.7" r="3.0"/><circle cx="1461.78" cy="366.64" r="3.0"/><circle cx="1462.88" cy="366.15" r="3.0"/><circle cx="1463.57" cy="362.34" r="3.0"/><circle cx="1464.53" cy="363.32" r="3.0"/><circle cx="1465.61" cy="365.97" r="3.0"/><circle cx="1466.27" cy="365.07" r="3.0"/><circle cx="1467.96" cy="367.56" r="3.0"/><circle cx="1468.03" cy="362.94" r="3.0"/><circle cx="1468.94" cy="364.43" r="3.0"/><circle cx="1470.66" cy="367.01" r="3.0"/><circle cx="1471.29" cy="367" r="3.0"/><circle cx="1472.29" cy="365.22" r="3.0"/><circle cx="1473.16" cy="367.35" r="3.0"/><circle cx="1473.93" cy="365.12" r="3.0"/></g>
<g fill="#fca8a8" fill-opacity="0.55"><circle cx="1473.94" cy="363.9" r="3.0"/><circle cx="1475.12" cy="364.49" r="3.0"/><circle cx="1476.94" cy="365.09" r="3.0"/><circle cx="1479.06" cy="367.83" r="3.0"/><circle cx="1480.08" cy="365.3" r="3.0"/><circle cx="1481.97" cy="369.19" r="3.0"/><circle cx="1483.53" cy="369.45" r="3.0"/><circle cx="1484.79" cy="366.58" r="3.0"/><circle cx="1486.34" cy="370.58" r="3.0"/><circle cx="1488.54" cy="373.3" r="3.0"/><circle cx="1490.28" cy="372.35" r="3.0"/><circle cx="1491.68" cy="372.98" r="3.0"/><circle cx="1493.21" cy="371.24" r="3.0"/><circle cx="1495.45" cy="373.22" r="3.0"/><circle cx="1497.16" cy="373.59" r="3.0"/><circle cx="1498.57" cy="370.68" r="3.0"/><circle cx="1500.48" cy="368.61" r="3.0"/><circle cx="1501.59" cy="373.23" r="3.0"/><circle cx="1502.87" cy="365.22" r="3.0"/><circle cx="1505.09" cy="365.67" r="3.0"/><circle cx="1506.25" cy="362.84" r="3.0"/><circle cx="1508.26" cy="364.16" r="3.0"/></g>
<g fill="#fca8a8" fill-opacity="0.55"><circle cx="1390.77" cy="395.32" r="3.0"/><circle cx="1393.04" cy="392.68" r="3.0"/><circle cx="1394.87" cy="392.93" r="3.0"/><circle cx="1395.89" cy="390.38" r="3.0"/><circle cx="1397.73" cy="393.12" r="3.0"/><circle cx="1399.17" cy="390.76" r="3.0"/><circle cx="1401.8" cy="391.24" r="3.0"/><circle cx="1403.27" cy="390.91" r="3.0"/><circle cx="1405.1" cy="388.75" r="3.0"/><circle cx="1406.16" cy="386.19" r="3.0"/><circle cx="1408.13" cy="388.57" r="3.0"/><circle cx="1410.37" cy="386.15" r="3.0"/><circle cx="1412.05" cy="387.49" r="3.0"/><circle cx="1412.94" cy="391.28" r="3.0"/><circle cx="1414.9" cy="387.42" r="3.0"/><circle cx="1416.98" cy="386.43" r="3.0"/><circle cx="1418.43" cy="393.59" r="3.0"/><circle cx="1419.88" cy="386.35" r="3.0"/><circle cx="1421.37" cy="383.17" r="3.0"/><circle cx="1423.6" cy="389.22" r="3.0"/><circle cx="1424.78" cy="385.95" r="3.0"/><circle cx="1426.84" cy="387.24" r="3.0"/></g>
<g fill="#fca8a8" fill-opacity="0.55"><circle cx="1391.16" cy="410.59" r="3.0"/><circle cx="1392.56" cy="411.33" r="3.0"/><circle cx="1394.15" cy="410.56" r="3.0"/><circle cx="1396.37" cy="407.86" r="3.0"/><circle cx="1398.4" cy="411.34" r="3.0"/><circle cx="1399.38" cy="410.5" r="3.0"/><circle cx="1401.02" cy="413.16" r="3.0"/><circle cx="1402.75" cy="409.01" r="3.0"/><circle cx="1404.86" cy="410.36" r="3.0"/><circle cx="1406.52" cy="408.29" r="3.0"/><circle cx="1408.3" cy="410.84" r="3.0"/><circle cx="1410.52" cy="412.6" r="3.0"/><circle cx="1412.64" cy="415.45" r="3.0"/><circle cx="1413.74" cy="417.31" r="3.0"/></g>
<line x1="1391" y1="257.5" x2="1657.5" y2="257.5" stroke="#000" stroke-width="3.4" stroke-dasharray="13.3 6.4"/>
<line x1="1391" y1="378.4" x2="1657.5" y2="378.4" stroke="#000" stroke-width="3.4" stroke-dasharray="13.3 6.4"/>
<rect x="1662.4" y="156.5" width="46.8" height="325.8" fill="#000"/>
<rect x="1670.26" y="380.1" width="2" height="2" fill="#0c540c"/><rect x="1706.55" y="310.84" width="3" height="3" fill="#003600"/><rect x="1686.21" y="411.87" width="2.5" height="2.5" fill="#860000"/><rect x="1666.05" y="413.59" width="1.5" height="1.5" fill="#480000"/><rect x="1682.22" y="478.51" width="3" height="3" fill="#0c540c"/><rect x="1682.44" y="466.08" width="1.5" height="1.5" fill="#2a0505"/><rect x="1691.55" y="460.01" width="1.5" height="1.5" fill="#2a0505"/><rect x="1668.49" y="456.8" width="2" height="2" fill="#860000"/><rect x="1680.66" y="206.65" width="2" height="2" fill="#0c540c"/><rect x="1666.28" y="221.56" width="1.5" height="1.5" fill="#166016"/><rect x="1668.39" y="311.38" width="2" height="2" fill="#003600"/><rect x="1703.62" y="443.79" width="2.5" height="2.5" fill="#5c0000"/><rect x="1685.06" y="260.38" width="1.5" height="1.5" fill="#5c0000"/><rect x="1699.7" y="209.18" width="1.5" height="1.5" fill="#0c540c"/><rect x="1684.63" y="335.24" width="3" height="3" fill="#003600"/><rect x="1689.79" y="337.19" width="2" height="2" fill="#003600"/><rect x="1690.57" y="426.44" width="2" height="2" fill="#860000"/><rect x="1673.81" y="212.32" width="2.5" height="2.5" fill="#003600"/><rect x="1679.49" y="378.04" width="2.5" height="2.5" fill="#003600"/><rect x="1703.38" y="210.51" width="2" height="2" fill="#002800"/><rect x="1684.6" y="278.93" width="2" height="2" fill="#480000"/><rect x="1687.72" y="299.43" width="2.5" height="2.5" fill="#2a0505"/><rect x="1665.53" y="250.73" width="1.5" height="1.5" fill="#084a08"/><rect x="1681.46" y="212.94" width="2" height="2" fill="#5c0000"/><rect x="1706.27" y="398.16" width="2" height="2" fill="#5c0000"/><rect x="1705.19" y="327.25" width="2" height="2" fill="#002800"/><rect x="1702.58" y="275.76" width="3" height="3" fill="#5c0000"/><rect x="1697" y="314" width="2" height="2" fill="#0c540c"/><rect x="1669.11" y="347.47" width="1.5" height="1.5" fill="#2a0505"/><rect x="1679.82" y="198.53" width="3" height="3" fill="#084a08"/><rect x="1677.35" y="238.42" width="2" height="2" fill="#0c540c"/><rect x="1693.06" y="400.03" width="2" height="2" fill="#003600"/><rect x="1669.25" y="285.82" width="2.5" height="2.5" fill="#2a0505"/><rect x="1697.59" y="181.15" width="2" height="2" fill="#5c0000"/><rect x="1676.38" y="461.35" width="3" height="3" fill="#480000"/><rect x="1670.31" y="217.23" width="3" height="3" fill="#2a0505"/><rect x="1696.31" y="352.46" width="1.5" height="1.5" fill="#2a0505"/><rect x="1697.79" y="160.52" width="2.5" height="2.5" fill="#340000"/><rect x="1696.61" y="214.45" width="3" height="3" fill="#084a08"/><rect x="1676.8" y="171.5" width="2" height="2" fill="#5c0000"/><rect x="1698.97" y="416.59" width="1.5" height="1.5" fill="#860000"/><rect x="1687" y="177.34" width="3" height="3" fill="#5c0000"/><rect x="1676.65" y="383.22" width="2" height="2" fill="#860000"/><rect x="1665.8" y="420.33" width="1.5" height="1.5" fill="#084a08"/><rect x="1677" y="477.82" width="1.5" height="1.5" fill="#340000"/><rect x="1690.57" y="418.07" width="3" height="3" fill="#166016"/><rect x="1704.67" y="376.93" width="3" height="3" fill="#0c540c"/><rect x="1685.57" y="439.96" width="1.5" height="1.5" fill="#340000"/><rect x="1692.11" y="171.54" width="2.5" height="2.5" fill="#860000"/><rect x="1694.85" y="304.83" width="2" height="2" fill="#700000"/><rect x="1684.42" y="361.45" width="1.5" height="1.5" fill="#002800"/><rect x="1684.11" y="316.39" width="2.5" height="2.5" fill="#003600"/><rect x="1690.58" y="402.25" width="2" height="2" fill="#166016"/><rect x="1673.79" y="453.17" width="2.5" height="2.5" fill="#860000"/><rect x="1699.29" y="468.31" width="2" height="2" fill="#002800"/><rect x="1676.76" y="258.38" width="1.5" height="1.5" fill="#480000"/><rect x="1687.34" y="183.6" width="2.5" height="2.5" fill="#700000"/><rect x="1706.25" y="477.05" width="2" height="2" fill="#700000"/><rect x="1692.86" y="277.78" width="2" height="2" fill="#480000"/><rect x="1666.61" y="167.21" width="3" height="3" fill="#480000"/><rect x="1671.79" y="350.55" width="2" height="2" fill="#700000"/><rect x="1704.39" y="308.36" width="2" height="2" fill="#860000"/><rect x="1692.46" y="372.99" width="2" height="2" fill="#002800"/><rect x="1705.91" y="227.29" width="2" height="2" fill="#2a0505"/><rect x="1663.84" y="319.39" width="2.5" height="2.5" fill="#860000"/><rect x="1693.82" y="235.35" width="2" height="2" fill="#860000"/><rect x="1667.16" y="257.49" width="2" height="2" fill="#340000"/><rect x="1670.31" y="341.79" width="3" height="3" fill="#0c540c"/><rect x="1700" y="257.38" width="2" height="2" fill="#860000"/><rect x="1672.91" y="416.36" width="1.5" height="1.5" fill="#0c540c"/><rect x="1691.98" y="181.51" width="2" height="2" fill="#2a0505"/><rect x="1669.69" y="318.15" width="3" height="3" fill="#860000"/><rect x="1684.62" y="376.71" width="2" height="2" fill="#003600"/><rect x="1669.75" y="250.73" width="1.5" height="1.5" fill="#002800"/><rect x="1692.4" y="218" width="2" height="2" fill="#480000"/><rect x="1674.87" y="176.92" width="2" height="2" fill="#700000"/><rect x="1692.95" y="368.32" width="2" height="2" fill="#340000"/><rect x="1703.96" y="331.42" width="2" height="2" fill="#2a0505"/><rect x="1695.02" y="326.91" width="2" height="2" fill="#480000"/><rect x="1685.12" y="392.33" width="1.5" height="1.5" fill="#003600"/><rect x="1694.22" y="317.01" width="1.5" height="1.5" fill="#700000"/><rect x="1702.88" y="376.79" width="3" height="3" fill="#2a0505"/><rect x="1686.46" y="450.53" width="2" height="2" fill="#0c540c"/><rect x="1704.44" y="459.64" width="2" height="2" fill="#002800"/><rect x="1670.63" y="243.38" width="2" height="2" fill="#700000"/><rect x="1671.02" y="471.79" width="2" height="2" fill="#700000"/><rect x="1672.96" y="323.72" width="2" height="2" fill="#700000"/><rect x="1703.05" y="235.24" width="3" height="3" fill="#5c0000"/><rect x="1692.56" y="437.04" width="2.5" height="2.5" fill="#340000"/><rect x="1705" y="401.17" width="1.5" height="1.5" fill="#003600"/><rect x="1672.36" y="329.47" width="2" height="2" fill="#860000"/><rect x="1668.41" y="235.3" width="2.5" height="2.5" fill="#2a0505"/><rect x="1696.92" y="399.94" width="2" height="2" fill="#084a08"/><rect x="1681.93" y="279.73" width="1.5" height="1.5" fill="#5c0000"/><rect x="1686.66" y="305.73" width="3" height="3" fill="#5c0000"/><rect x="1682.37" y="255.22" width="2" height="2" fill="#480000"/><rect x="1679.58" y="284.74" width="3" height="3" fill="#2a0505"/><rect x="1676.05" y="426.04" width="2" height="2" fill="#700000"/><rect x="1701.27" y="336.17" width="1.5" height="1.5" fill="#002800"/><rect x="1679.3" y="424.09" width="2" height="2" fill="#700000"/><rect x="1680.14" y="360.37" width="1.5" height="1.5" fill="#2a0505"/><rect x="1701.07" y="399.92" width="2.5" height="2.5" fill="#5c0000"/><rect x="1697.89" y="456.87" width="1.5" height="1.5" fill="#5c0000"/><rect x="1695.82" y="238.08" width="1.5" height="1.5" fill="#5c0000"/><rect x="1693.02" y="253.25" width="2" height="2" fill="#480000"/><rect x="1684.89" y="387.6" width="2" height="2" fill="#2a0505"/><rect x="1703.54" y="326.27" width="2" height="2" fill="#480000"/><rect x="1665.54" y="382.22" width="3" height="3" fill="#340000"/><rect x="1691.81" y="164.81" width="2.5" height="2.5" fill="#166016"/><rect x="1684.47" y="331.08" width="1.5" height="1.5" fill="#700000"/><rect x="1690.97" y="275.76" width="2.5" height="2.5" fill="#700000"/><rect x="1694.64" y="346.76" width="1.5" height="1.5" fill="#480000"/><rect x="1700.5" y="447.05" width="3" height="3" fill="#166016"/><rect x="1695.96" y="269.04" width="2" height="2" fill="#340000"/><rect x="1677.39" y="263.73" width="2.5" height="2.5" fill="#340000"/><rect x="1671.21" y="206.84" width="2" height="2" fill="#003600"/><rect x="1687.24" y="211.68" width="1.5" height="1.5" fill="#0c540c"/><rect x="1696.48" y="223.42" width="1.5" height="1.5" fill="#166016"/><rect x="1666.74" y="236.1" width="2" height="2" fill="#340000"/><rect x="1671.96" y="343.71" width="1.5" height="1.5" fill="#166016"/><rect x="1680.59" y="466.98" width="2.5" height="2.5" fill="#084a08"/><rect x="1664.51" y="318.49" width="2.5" height="2.5" fill="#166016"/><rect x="1671.01" y="456.24" width="2.5" height="2.5" fill="#5c0000"/><rect x="1694.67" y="328.86" width="2" height="2" fill="#5c0000"/><rect x="1692.21" y="369.23" width="1.5" height="1.5" fill="#5c0000"/><rect x="1668.08" y="346.33" width="2" height="2" fill="#480000"/><rect x="1676.72" y="283.73" width="2.5" height="2.5" fill="#2a0505"/><rect x="1702.89" y="173.8" width="3" height="3" fill="#0c540c"/><rect x="1693.4" y="360.12" width="2" height="2" fill="#860000"/><rect x="1694.93" y="173.04" width="2" height="2" fill="#166016"/><rect x="1682.13" y="406.08" width="2" height="2" fill="#860000"/><rect x="1670.16" y="228.09" width="1.5" height="1.5" fill="#5c0000"/><rect x="1692.35" y="232.22" width="2" height="2" fill="#0c540c"/><rect x="1695.4" y="328.16" width="3" height="3" fill="#5c0000"/><rect x="1702.56" y="216.48" width="2" height="2" fill="#480000"/><rect x="1679.19" y="448.66" width="1.5" height="1.5" fill="#084a08"/><rect x="1701.68" y="237.23" width="3" height="3" fill="#084a08"/><rect x="1679.71" y="472.4" width="1.5" height="1.5" fill="#700000"/><rect x="1690.54" y="245.87" width="2" height="2" fill="#860000"/><rect x="1697.76" y="438.82" width="2" height="2" fill="#0c540c"/><rect x="1684.97" y="383.91" width="2.5" height="2.5" fill="#480000"/><rect x="1679.75" y="457.01" width="2.5" height="2.5" fill="#166016"/><rect x="1665.13" y="387.62" width="2.5" height="2.5" fill="#003600"/><rect x="1667.88" y="310.43" width="1.5" height="1.5" fill="#5c0000"/><rect x="1670.77" y="345.7" width="2.5" height="2.5" fill="#084a08"/><rect x="1696.74" y="464.21" width="2" height="2" fill="#5c0000"/><rect x="1663.24" y="289.79" width="2.5" height="2.5" fill="#084a08"/><rect x="1690.51" y="258.66" width="2" height="2" fill="#084a08"/><rect x="1686.32" y="367.76" width="2" height="2" fill="#003600"/><rect x="1699.01" y="247.74" width="2" height="2" fill="#002800"/><rect x="1664.9" y="412.1" width="1.5" height="1.5" fill="#166016"/><rect x="1664.86" y="167.36" width="3" height="3" fill="#2a0505"/><rect x="1673.2" y="199.27" width="2" height="2" fill="#2a0505"/><rect x="1689.72" y="221.94" width="2" height="2" fill="#2a0505"/><rect x="1681.14" y="263.08" width="2" height="2" fill="#0c540c"/><rect x="1695.83" y="392.84" width="2" height="2" fill="#5c0000"/><rect x="1676.39" y="297.54" width="3" height="3" fill="#002800"/><rect x="1705.44" y="453.71" width="2" height="2" fill="#2a0505"/><rect x="1671.22" y="356.3" width="2.5" height="2.5" fill="#0c540c"/><rect x="1666.73" y="388.12" width="3" height="3" fill="#480000"/><rect x="1703.01" y="356.45" width="2" height="2" fill="#340000"/><rect x="1685.92" y="390.41" width="2.5" height="2.5" fill="#340000"/><rect x="1666.96" y="289.2" width="2.5" height="2.5" fill="#0c540c"/><rect x="1684.49" y="243.41" width="2" height="2" fill="#2a0505"/><rect x="1676.28" y="456.55" width="2" height="2" fill="#700000"/><rect x="1687.56" y="405.64" width="1.5" height="1.5" fill="#2a0505"/><rect x="1679.2" y="322.43" width="2" height="2" fill="#003600"/><rect x="1683.24" y="310.19" width="3" height="3" fill="#480000"/><rect x="1683.82" y="406.38" width="2" height="2" fill="#084a08"/><rect x="1690.1" y="398.03" width="2" height="2" fill="#480000"/><rect x="1671.96" y="215.85" width="1.5" height="1.5" fill="#480000"/><rect x="1704.53" y="217.74" width="2.5" height="2.5" fill="#0c540c"/><rect x="1689.26" y="245.07" width="3" height="3" fill="#340000"/><rect x="1691.31" y="360.45" width="3" height="3" fill="#5c0000"/><rect x="1705.6" y="223.44" width="1.5" height="1.5" fill="#2a0505"/><rect x="1685.46" y="336.47" width="2.5" height="2.5" fill="#003600"/><rect x="1693.74" y="478.89" width="2" height="2" fill="#0c540c"/><rect x="1690.18" y="216.01" width="2" height="2" fill="#2a0505"/><rect x="1705.61" y="292.55" width="2.5" height="2.5" fill="#084a08"/><rect x="1684.63" y="346.89" width="2" height="2" fill="#002800"/><rect x="1674.08" y="467.36" width="1.5" height="1.5" fill="#860000"/><rect x="1674.6" y="209.69" width="1.5" height="1.5" fill="#003600"/><rect x="1677.73" y="414.46" width="2" height="2" fill="#860000"/><rect x="1676.87" y="327.52" width="1.5" height="1.5" fill="#166016"/><rect x="1664.49" y="174.52" width="3" height="3" fill="#166016"/><rect x="1671.02" y="467.23" width="2.5" height="2.5" fill="#5c0000"/><rect x="1697.57" y="474.03" width="2.5" height="2.5" fill="#860000"/><rect x="1691.33" y="302.21" width="2" height="2" fill="#700000"/><rect x="1668.2" y="373.66" width="1.5" height="1.5" fill="#003600"/><rect x="1667.99" y="266.43" width="2" height="2" fill="#700000"/><rect x="1687.16" y="414.19" width="2.5" height="2.5" fill="#340000"/><rect x="1665.37" y="404.67" width="2" height="2" fill="#166016"/><rect x="1669.47" y="324.28" width="2.5" height="2.5" fill="#340000"/><rect x="1680.53" y="369.28" width="3" height="3" fill="#084a08"/><rect x="1698.26" y="290.47" width="3" height="3" fill="#002800"/><rect x="1674.67" y="310.07" width="2.5" height="2.5" fill="#860000"/><rect x="1673.23" y="460.43" width="2.5" height="2.5" fill="#0c540c"/><rect x="1702.3" y="444.72" width="2" height="2" fill="#003600"/><rect x="1678.94" y="411.78" width="2.5" height="2.5" fill="#084a08"/><rect x="1664.15" y="361.06" width="1.5" height="1.5" fill="#002800"/><rect x="1702.93" y="462.89" width="2" height="2" fill="#700000"/><rect x="1680.15" y="327.37" width="2" height="2" fill="#480000"/><rect x="1687.05" y="457.39" width="2.5" height="2.5" fill="#2a0505"/><rect x="1686.31" y="469.15" width="1.5" height="1.5" fill="#700000"/><rect x="1702.76" y="400.25" width="2.5" height="2.5" fill="#860000"/><rect x="1704.67" y="388.41" width="2.5" height="2.5" fill="#003600"/><rect x="1698.05" y="231.55" width="2" height="2" fill="#002800"/><rect x="1691.53" y="223.25" width="3" height="3" fill="#700000"/><rect x="1693.64" y="221.66" width="2" height="2" fill="#700000"/><rect x="1699.92" y="424.02" width="2" height="2" fill="#002800"/><rect x="1703.38" y="414.72" width="2" height="2" fill="#340000"/><rect x="1706.23" y="397.21" width="3" height="3" fill="#340000"/><rect x="1702.36" y="168.6" width="2.5" height="2.5" fill="#860000"/><rect x="1676.86" y="385.25" width="3" height="3" fill="#002800"/><rect x="1700.49" y="420.42" width="2" height="2" fill="#084a08"/><rect x="1676.49" y="389.64" width="2" height="2" fill="#860000"/><rect x="1688.04" y="424.61" width="2.5" height="2.5" fill="#480000"/><rect x="1690.13" y="230.5" width="2" height="2" fill="#340000"/><rect x="1682.03" y="363.5" width="2" height="2" fill="#860000"/><rect x="1679.75" y="311.02" width="2.5" height="2.5" fill="#002800"/><rect x="1705.64" y="395.9" width="2" height="2" fill="#860000"/><rect x="1672.55" y="208.52" width="2.5" height="2.5" fill="#2a0505"/><rect x="1704.72" y="210.91" width="2" height="2" fill="#700000"/><rect x="1704.35" y="181.11" width="2" height="2" fill="#340000"/><rect x="1691.32" y="369.78" width="2" height="2" fill="#2a0505"/><rect x="1671.9" y="275.89" width="2" height="2" fill="#340000"/><rect x="1668.73" y="270.02" width="2" height="2" fill="#5c0000"/><rect x="1678.83" y="277.33" width="2" height="2" fill="#166016"/><rect x="1701.42" y="438.25" width="2" height="2" fill="#002800"/><rect x="1673.81" y="241.3" width="2" height="2" fill="#700000"/><rect x="1691.42" y="259.3" width="3" height="3" fill="#340000"/><rect x="1665.13" y="169.91" width="2.5" height="2.5" fill="#700000"/><rect x="1682.95" y="327.06" width="2.5" height="2.5" fill="#166016"/><rect x="1682.17" y="365.89" width="3" height="3" fill="#860000"/><rect x="1664.87" y="313.03" width="2.5" height="2.5" fill="#166016"/><rect x="1677.04" y="295.41" width="2" height="2" fill="#340000"/><rect x="1673.87" y="309.55" width="2" height="2" fill="#002800"/><rect x="1677.71" y="392.31" width="2.5" height="2.5" fill="#480000"/><rect x="1678.74" y="422.19" width="3" height="3" fill="#2a0505"/><rect x="1671.24" y="352.24" width="2.5" height="2.5" fill="#860000"/><rect x="1700.84" y="183.57" width="2" height="2" fill="#5c0000"/><rect x="1698.53" y="404.96" width="2.5" height="2.5" fill="#166016"/><rect x="1679.92" y="259.57" width="3" height="3" fill="#5c0000"/><rect x="1689.99" y="230.2" width="2" height="2" fill="#5c0000"/><rect x="1676.17" y="330.82" width="1.5" height="1.5" fill="#2a0505"/><rect x="1670.63" y="401.88" width="1.5" height="1.5" fill="#700000"/><rect x="1697.94" y="426.41" width="1.5" height="1.5" fill="#002800"/><rect x="1672.11" y="381.81" width="3" height="3" fill="#002800"/><rect x="1692.97" y="209.11" width="1.5" height="1.5" fill="#700000"/><rect x="1688.02" y="410.16" width="3" height="3" fill="#0c540c"/><rect x="1664.54" y="313.45" width="2" height="2" fill="#860000"/><rect x="1669.06" y="367.43" width="3" height="3" fill="#340000"/><rect x="1695.3" y="394.15" width="2" height="2" fill="#480000"/><rect x="1697.19" y="453.31" width="1.5" height="1.5" fill="#166016"/><rect x="1676.08" y="290.41" width="3" height="3" fill="#002800"/><rect x="1674.43" y="337.99" width="1.5" height="1.5" fill="#5c0000"/><rect x="1682.1" y="473.43" width="2.5" height="2.5" fill="#700000"/><rect x="1700.25" y="251.47" width="2" height="2" fill="#166016"/><rect x="1679.9" y="361.09" width="1.5" height="1.5" fill="#166016"/><rect x="1676.72" y="312.66" width="2" height="2" fill="#002800"/><rect x="1663.39" y="476.68" width="1.5" height="1.5" fill="#700000"/><rect x="1701.11" y="390.57" width="2" height="2" fill="#084a08"/><rect x="1668.47" y="284.38" width="2" height="2" fill="#340000"/><rect x="1669.29" y="217.43" width="3" height="3" fill="#2a0505"/><rect x="1698.33" y="321.9" width="3" height="3" fill="#860000"/><rect x="1670.04" y="169.7" width="2.5" height="2.5" fill="#002800"/><rect x="1666.53" y="412.32" width="2" height="2" fill="#002800"/><rect x="1679.05" y="350.42" width="2" height="2" fill="#5c0000"/><rect x="1684.3" y="178.14" width="2" height="2" fill="#700000"/><rect x="1681.93" y="291.72" width="3" height="3" fill="#084a08"/><rect x="1674.82" y="283.51" width="2" height="2" fill="#700000"/><rect x="1701.49" y="414.03" width="1.5" height="1.5" fill="#003600"/><rect x="1704.97" y="301.23" width="1.5" height="1.5" fill="#700000"/><rect x="1703.54" y="465.31" width="3" height="3" fill="#084a08"/><rect x="1668.23" y="223.59" width="1.5" height="1.5" fill="#002800"/><rect x="1673.2" y="364.35" width="2.5" height="2.5" fill="#002800"/><rect x="1696.33" y="335.44" width="3" height="3" fill="#860000"/><rect x="1685.34" y="478.07" width="3" height="3" fill="#084a08"/><rect x="1698.09" y="159.22" width="2" height="2" fill="#0c540c"/><rect x="1682.22" y="477.78" width="3" height="3" fill="#166016"/><rect x="1701.31" y="417.5" width="2" height="2" fill="#480000"/><rect x="1671.98" y="449" width="2" height="2" fill="#003600"/><rect x="1705.39" y="277.72" width="2.5" height="2.5" fill="#166016"/><rect x="1700.75" y="315.61" width="1.5" height="1.5" fill="#860000"/><rect x="1700.46" y="290.27" width="1.5" height="1.5" fill="#0c540c"/><rect x="1678.8" y="273.63" width="3" height="3" fill="#860000"/><rect x="1705.21" y="348.22" width="1.5" height="1.5" fill="#003600"/><rect x="1679.26" y="344.83" width="3" height="3" fill="#340000"/><rect x="1701.2" y="199.56" width="2" height="2" fill="#003600"/><rect x="1693.83" y="251.23" width="2" height="2" fill="#003600"/><rect x="1698.41" y="331.85" width="3" height="3" fill="#700000"/><rect x="1663.02" y="166.82" width="2.5" height="2.5" fill="#0c540c"/><rect x="1679.35" y="351.56" width="2" height="2" fill="#5c0000"/><rect x="1664.55" y="323.83" width="2.5" height="2.5" fill="#5c0000"/><rect x="1672.74" y="179.31" width="1.5" height="1.5" fill="#480000"/><rect x="1664.46" y="388.68" width="2" height="2" fill="#860000"/><rect x="1703.33" y="286.5" width="2" height="2" fill="#700000"/><rect x="1669.55" y="463.17" width="3" height="3" fill="#480000"/><rect x="1704.13" y="429.28" width="2" height="2" fill="#0c540c"/><rect x="1673.74" y="387.98" width="2.5" height="2.5" fill="#340000"/><rect x="1672.82" y="278.96" width="2" height="2" fill="#480000"/><rect x="1685.54" y="294.18" width="2" height="2" fill="#003600"/><rect x="1687.02" y="304.08" width="1.5" height="1.5" fill="#003600"/><rect x="1686.88" y="475.2" width="2.5" height="2.5" fill="#700000"/><rect x="1666.96" y="351.33" width="1.5" height="1.5" fill="#700000"/><rect x="1675.02" y="212.99" width="3" height="3" fill="#003600"/><rect x="1695.98" y="452.54" width="2" height="2" fill="#084a08"/><rect x="1692" y="327.63" width="1.5" height="1.5" fill="#340000"/><rect x="1688.56" y="298.59" width="3" height="3" fill="#2a0505"/><rect x="1683.86" y="338.27" width="3" height="3" fill="#166016"/><rect x="1688.94" y="455.77" width="2" height="2" fill="#084a08"/><rect x="1689.56" y="268.5" width="2.5" height="2.5" fill="#166016"/><rect x="1701.14" y="445.2" width="3" height="3" fill="#003600"/><rect x="1677.75" y="185.51" width="2.5" height="2.5" fill="#480000"/><rect x="1676.19" y="413.66" width="2.5" height="2.5" fill="#860000"/><rect x="1696.94" y="234.69" width="2" height="2" fill="#700000"/><rect x="1690.23" y="456.12" width="2" height="2" fill="#340000"/><rect x="1699.18" y="165.24" width="1.5" height="1.5" fill="#003600"/><rect x="1705.96" y="309.64" width="2.5" height="2.5" fill="#166016"/><rect x="1670.77" y="176.8" width="2" height="2" fill="#860000"/><rect x="1666.96" y="474.41" width="2" height="2" fill="#480000"/><rect x="1704.27" y="408.36" width="2" height="2" fill="#340000"/><rect x="1665.37" y="219.65" width="1.5" height="1.5" fill="#084a08"/><rect x="1668.14" y="443.98" width="1.5" height="1.5" fill="#084a08"/><rect x="1670.65" y="380.73" width="3" height="3" fill="#003600"/><rect x="1665.78" y="289.19" width="2" height="2" fill="#002800"/><rect x="1683.72" y="177.28" width="2" height="2" fill="#002800"/><rect x="1687.24" y="190.09" width="2.5" height="2.5" fill="#340000"/><rect x="1704.23" y="191.08" width="2" height="2" fill="#480000"/><rect x="1699.78" y="357.78" width="2" height="2" fill="#003600"/>
<g opacity="0.9"><rect x="1665" y="158" width="8" height="6" fill="#3a9a30"/><rect x="1670" y="163" width="9" height="7" fill="#2f8a25"/><rect x="1673" y="158" width="6" height="5" fill="#4aa83a"/><rect x="1665" y="166" width="6" height="7" fill="#287a20"/><rect x="1676" y="168" width="5" height="5" fill="#7a3020"/><rect x="1680" y="158" width="4" height="4" fill="#3a8a2a"/><rect x="1668" y="172" width="4" height="3" fill="#3a8a2a"/></g>
<path d="M1666,356 L1670,348 L1676,346 L1683,347 L1689,352 L1692,360 L1692,370 L1688,377 L1681,380 L1673,379 L1667,373 L1664.5,364 Z" fill="#f00000"/>
<g fill="#c00000"><rect x="1668" y="370" width="4" height="4"/><rect x="1684" y="350" width="4" height="3"/><rect x="1686" y="372" width="4" height="4"/><rect x="1672" y="349" width="3" height="3"/></g>
<path d="M1672.5,367 L1673.5,362 L1676,362.5 L1677,358.5 L1679.5,361 L1682,359.5 L1685,356 L1686,357 L1682.5,363 L1680,367.5 L1676.5,369.5 L1674,369.5 Z" fill="#1a1aff"/>
<circle cx="1678.4" cy="364.3" r="14.8" fill="none" stroke="#fff" stroke-width="1.1"/>
<g fill="#fbb0b0" fill-opacity="0.5"><circle cx="1708" cy="285" r="2.7"/><circle cx="1710" cy="287" r="2.7"/><circle cx="1712" cy="285.5" r="2.7"/></g>
<rect x="1390.7" y="156.5" width="318.5" height="326.2" fill="none" stroke="#000" stroke-width="1.9"/>
<line x1="1382.2" y1="482.3" x2="1390.7" y2="482.3" stroke="#000" stroke-width="1.9" />
<text x="1373.7" y="494.67" font-size="32.6" text-anchor="end" >0</text>
<line x1="1382.2" y1="327" x2="1390.7" y2="327" stroke="#000" stroke-width="1.9" />
<text x="1373.7" y="339.37" font-size="32.6" text-anchor="end" >10</text>
<line x1="1382.2" y1="171.7" x2="1390.7" y2="171.7" stroke="#000" stroke-width="1.9" />
<text x="1373.7" y="184.07" font-size="32.6" text-anchor="end" >20</text>
<line x1="1390.7" y1="482.7" x2="1390.7" y2="491.2" stroke="#000" stroke-width="1.9" />
<text x="1390.7" y="523.54" font-size="32.6" text-anchor="middle" >0</text>
<line x1="1510.4" y1="482.7" x2="1510.4" y2="491.2" stroke="#000" stroke-width="1.9" />
<text x="1510.4" y="523.54" font-size="32.6" text-anchor="middle" >50</text>
<line x1="1630.1" y1="482.7" x2="1630.1" y2="491.2" stroke="#000" stroke-width="1.9" />
<text x="1630.1" y="523.54" font-size="32.6" text-anchor="middle" >100</text>
<text x="1402" y="194.3" font-size="32.6"><tspan font-weight="bold">c</tspan><tspan dx="3">-i</tspan></text>
<text x="1663.4" y="194.3" font-size="32.6" fill="#fff"><tspan font-weight="bold">c</tspan><tspan dx="3">-ii</tspan></text>
<text x="1541.5" y="563.3" font-size="32.6" text-anchor="middle"><tspan font-style="italic">t</tspan><tspan dx="1.5" letter-spacing="1"> (s)</tspan></text>
<text x="1321.1" y="318.5" font-size="32.6" text-anchor="middle" transform="rotate(-90 1321.1 318.5)"><tspan font-style="italic">x</tspan><tspan dx="3.5"> (kbp)</tspan></text>
<clipPath id="cdi"><rect x="112" y="610.2" width="452.9" height="138.4"/></clipPath>
<path d="M227.2,748.6 V741.1 H245.75 V748.6 Z M245.5,748.6 V739.4 H265.75 V748.6 Z M265.5,748.6 V726.2 H286.45 V748.6 Z M286.2,748.6 V725.1 H303.05 V748.6 Z M302.8,748.6 V710.4 H321.95 V748.6 Z M321.7,748.6 V660.1 H343.15 V748.6 Z M342.9,748.6 V701.9 H362.05 V748.6 Z M361.8,748.6 V731.9 H378.15 V748.6 Z M377.9,748.6 V731 H399.85 V748.6 Z M399.6,748.6 V738.8 H415.95 V748.6 Z M415.7,748.6 V740.5 H437.55 V748.6 Z " fill="#fc8c8c" />
<g stroke="#000" stroke-width="2.3" fill="none" clip-path="url(#cdi)"><path d="M236.75,738.1 V744.1 M231.95,738.1 H241.55 M231.95,744.1 H241.55"/><path d="M255.85,736.4 V742.4 M251.05,736.4 H260.65 M251.05,742.4 H260.65"/><path d="M274.95,723.2 V729.2 M270.15,723.2 H279.75 M270.15,729.2 H279.75"/><path d="M294.05,722.1 V728.1 M289.25,722.1 H298.85 M289.25,728.1 H298.85"/><path d="M313.15,707.4 V713.4 M308.35,707.4 H317.95 M308.35,713.4 H317.95"/><path d="M332.25,655.6 V664.6 M327.45,655.6 H337.05 M327.45,664.6 H337.05"/><path d="M351.35,698.9 V704.9 M346.55,698.9 H356.15 M346.55,704.9 H356.15"/><path d="M370.45,728.9 V734.9 M365.65,728.9 H375.25 M365.65,734.9 H375.25"/><path d="M389.55,728 V734 M384.75,728 H394.35 M384.75,734 H394.35"/><path d="M408.65,735.8 V741.8 M403.85,735.8 H413.45 M403.85,741.8 H413.45"/><path d="M427.75,737.5 V743.5 M422.95,737.5 H432.55 M422.95,743.5 H432.55"/></g>
<g clip-path="url(#cdi)">
<polyline points="112,748.6 114.26,748.6 116.53,748.6 118.79,748.6 121.06,748.6 123.32,748.6 125.59,748.6 127.85,748.6 130.12,748.6 132.38,748.6 134.65,748.6 136.91,748.6 139.17,748.6 141.44,748.6 143.7,748.6 145.97,748.6 148.23,748.6 150.5,748.6 152.76,748.6 155.03,748.6 157.29,748.6 159.55,748.6 161.82,748.59 164.08,748.59 166.35,748.59 168.61,748.59 170.88,748.58 173.14,748.58 175.41,748.57 177.67,748.57 179.94,748.56 182.2,748.55 184.46,748.54 186.73,748.53 188.99,748.51 191.26,748.49 193.52,748.46 195.79,748.43 198.05,748.4 200.32,748.36 202.58,748.31 204.84,748.25 207.11,748.18 209.37,748.1 211.64,748 213.9,747.89 216.17,747.76 218.43,747.61 220.7,747.44 222.96,747.24 225.22,747.01 227.49,746.76 229.75,746.46 232.02,746.13 234.28,745.76 236.55,745.34 238.81,744.87 241.08,744.35 243.34,743.77 245.61,743.13 247.87,742.42 250.13,741.65 252.4,740.8 254.66,739.88 256.93,738.89 259.19,737.81 261.46,736.66 263.72,735.42 265.99,734.11 268.25,732.71 270.51,731.24 272.78,729.69 275.04,728.07 277.31,726.39 279.57,724.64 281.84,722.85 284.1,721 286.37,719.13 288.63,717.23 290.9,715.31 293.16,713.39 295.42,711.49 297.69,709.6 299.95,707.76 302.22,705.97 304.48,704.24 306.75,702.6 309.01,701.05 311.28,699.61 313.54,698.28 315.81,697.1 318.07,696.05 320.33,695.16 322.6,694.43 324.86,693.87 327.13,693.49 329.39,693.28 331.66,693.25 333.92,693.4 336.19,693.74 338.45,694.25 340.71,694.92 342.98,695.77 345.24,696.77 347.51,697.91 349.77,699.2 352.04,700.6 354.3,702.12 356.57,703.74 358.83,705.44 361.1,707.22 363.36,709.05 365.62,710.92 367.89,712.82 370.15,714.73 372.42,716.65 374.68,718.56 376.95,720.44 379.21,722.3 381.48,724.11 383.74,725.87 386,727.57 388.27,729.21 390.53,730.78 392.8,732.28 395.06,733.7 397.33,735.04 399.59,736.3 401.86,737.47 404.12,738.57 406.38,739.59 408.65,740.54 410.91,741.4 413.18,742.2 415.44,742.92 417.71,743.58 419.97,744.18 422.24,744.72 424.5,745.2 426.77,745.64 429.03,746.03 431.29,746.37 433.56,746.67 435.82,746.94 438.09,747.18 440.35,747.38 442.62,747.56 444.88,747.72 447.15,747.85 449.41,747.97 451.67,748.07 453.94,748.15 456.2,748.23 458.47,748.29 460.73,748.34 463,748.39 465.26,748.42 467.53,748.46 469.79,748.48 472.06,748.5 474.32,748.52 476.58,748.54 478.85,748.55 481.11,748.56 483.38,748.57 485.64,748.57 487.91,748.58 490.17,748.58 492.44,748.59 494.7,748.59 496.96,748.59 499.23,748.59 501.49,748.59 503.76,748.6 506.02,748.6 508.29,748.6 510.55,748.6 512.82,748.6 515.08,748.6 517.35,748.6 519.61,748.6 521.87,748.6 524.14,748.6 526.4,748.6 528.67,748.6 530.93,748.6 533.2,748.6 535.46,748.6 537.73,748.6 539.99,748.6 542.25,748.6 544.52,748.6 546.78,748.6 549.05,748.6 551.31,748.6 553.58,748.6 555.84,748.6 558.11,748.6 560.37,748.6 562.64,748.6 564.9,748.6" fill="none" stroke="#000" stroke-width="3.5" stroke-linejoin="round"/>
</g>
<rect x="112" y="610.2" width="452.9" height="138.4" fill="none" stroke="#000" stroke-width="1.9"/>
<line x1="104" y1="748.6" x2="112" y2="748.6" stroke="#000" stroke-width="1.9" />
<text x="95.3" y="760.17" font-size="32.6" text-anchor="end" >0</text>
<line x1="104" y1="656.33" x2="112" y2="656.33" stroke="#000" stroke-width="1.9" />
<text x="95.3" y="667.91" font-size="32.6" text-anchor="end" >1</text>
<line x1="168.61" y1="748.6" x2="168.61" y2="756.6" stroke="#000" stroke-width="1.9" />
<line x1="281.84" y1="748.6" x2="281.84" y2="756.6" stroke="#000" stroke-width="1.9" />
<line x1="395.06" y1="748.6" x2="395.06" y2="756.6" stroke="#000" stroke-width="1.9" />
<line x1="508.29" y1="748.6" x2="508.29" y2="756.6" stroke="#000" stroke-width="1.9" />
<text x="123.9" y="647.2" font-size="32.6"><tspan font-weight="bold">d</tspan><tspan dx="3">-i</tspan></text>
<text x="413.4" y="647.2" font-size="32.6" >1 MCM</text>
<text x="417.7" y="677.8" font-size="22.5"><tspan font-style="italic">N</tspan><tspan font-size="15.5" dy="2.5">foci</tspan><tspan dx="7" dy="-2.5">= 36</tspan></text>
<text x="60.3" y="679.4" font-size="32.6" text-anchor="middle" transform="rotate(-90 60.3 679.4)" >PDF</text>
<clipPath id="cdii"><rect x="112" y="797.7" width="452.9" height="138.1"/></clipPath>
<path d="M246.2,935.8 V918.2 H267.55 V935.8 Z M284.2,935.8 V900.3 H305.25 V935.8 Z M305,935.8 V917.2 H322.25 V935.8 Z M322,935.8 V800.2 H343.05 V935.8 Z M342.8,935.8 V899.2 H361.95 V935.8 Z M361.7,935.8 V917.9 H381.05 V935.8 Z M416.5,935.8 V917 H437.65 V935.8 Z " fill="#dc5252" />
<g stroke="#000" stroke-width="2.3" fill="none" clip-path="url(#cdii)"><path d="M255.85,914.5 V921.9 M251.05,914.5 H260.65 M251.05,921.9 H260.65"/><path d="M294.05,896.6 V904 M289.25,896.6 H298.85 M289.25,904 H298.85"/><path d="M313.15,913.5 V920.9 M308.35,913.5 H317.95 M308.35,920.9 H317.95"/><path d="M332.25,791.2 V809.2 M327.45,791.2 H337.05 M327.45,809.2 H337.05"/><path d="M351.35,895.5 V902.9 M346.55,895.5 H356.15 M346.55,902.9 H356.15"/><path d="M370.45,914.2 V921.6 M365.65,914.2 H375.25 M365.65,921.6 H375.25"/><path d="M427.75,913.3 V920.7 M422.95,913.3 H432.55 M422.95,920.7 H432.55"/></g>
<g clip-path="url(#cdii)">
<polyline points="112,935.8 114.26,935.8 116.53,935.8 118.79,935.8 121.06,935.8 123.32,935.8 125.59,935.8 127.85,935.8 130.12,935.8 132.38,935.8 134.65,935.8 136.91,935.8 139.17,935.8 141.44,935.8 143.7,935.8 145.97,935.8 148.23,935.8 150.5,935.8 152.76,935.8 155.03,935.8 157.29,935.8 159.55,935.8 161.82,935.8 164.08,935.8 166.35,935.8 168.61,935.8 170.88,935.8 173.14,935.8 175.41,935.8 177.67,935.8 179.94,935.8 182.2,935.8 184.46,935.8 186.73,935.8 188.99,935.8 191.26,935.8 193.52,935.8 195.79,935.8 198.05,935.8 200.32,935.8 202.58,935.8 204.84,935.8 207.11,935.8 209.37,935.79 211.64,935.79 213.9,935.79 216.17,935.78 218.43,935.78 220.7,935.77 222.96,935.76 225.22,935.74 227.49,935.72 229.75,935.69 232.02,935.65 234.28,935.6 236.55,935.53 238.81,935.45 241.08,935.34 243.34,935.21 245.61,935.04 247.87,934.83 250.13,934.57 252.4,934.25 254.66,933.85 256.93,933.38 259.19,932.81 261.46,932.12 263.72,931.32 265.99,930.37 268.25,929.27 270.51,928 272.78,926.55 275.04,924.9 277.31,923.04 279.57,920.96 281.84,918.67 284.1,916.15 286.37,913.41 288.63,910.46 290.9,907.32 293.16,904.01 295.42,900.55 297.69,896.98 299.95,893.33 302.22,889.66 304.48,886 306.75,882.42 309.01,878.97 311.28,875.7 313.54,872.68 315.81,869.95 318.07,867.57 320.33,865.57 322.6,864.01 324.86,862.91 327.13,862.29 329.39,862.16 331.66,862.54 333.92,863.4 336.19,864.74 338.45,866.52 340.71,868.71 342.98,871.27 345.24,874.16 347.51,877.31 349.77,880.68 352.04,884.2 354.3,887.82 356.57,891.49 358.83,895.16 361.1,898.78 363.36,902.3 365.62,905.69 367.89,908.92 370.15,911.96 372.42,914.81 374.68,917.43 376.95,919.84 379.21,922.03 381.48,924 383.74,925.75 386,927.3 388.27,928.66 390.53,929.84 392.8,930.87 395.06,931.74 397.33,932.48 399.59,933.1 401.86,933.63 404.12,934.06 406.38,934.41 408.65,934.7 410.91,934.94 413.18,935.13 415.44,935.28 417.71,935.4 419.97,935.5 422.24,935.57 424.5,935.63 426.77,935.67 429.03,935.7 431.29,935.73 433.56,935.75 435.82,935.76 438.09,935.77 440.35,935.78 442.62,935.79 444.88,935.79 447.15,935.79 449.41,935.8 451.67,935.8 453.94,935.8 456.2,935.8 458.47,935.8 460.73,935.8 463,935.8 465.26,935.8 467.53,935.8 469.79,935.8 472.06,935.8 474.32,935.8 476.58,935.8 478.85,935.8 481.11,935.8 483.38,935.8 485.64,935.8 487.91,935.8 490.17,935.8 492.44,935.8 494.7,935.8 496.96,935.8 499.23,935.8 501.49,935.8 503.76,935.8 506.02,935.8 508.29,935.8 510.55,935.8 512.82,935.8 515.08,935.8 517.35,935.8 519.61,935.8 521.87,935.8 524.14,935.8 526.4,935.8 528.67,935.8 530.93,935.8 533.2,935.8 535.46,935.8 537.73,935.8 539.99,935.8 542.25,935.8 544.52,935.8 546.78,935.8 549.05,935.8 551.31,935.8 553.58,935.8 555.84,935.8 558.11,935.8 560.37,935.8 562.64,935.8 564.9,935.8" fill="none" stroke="#000" stroke-width="3.5" stroke-linejoin="round"/>
</g>
<rect x="112" y="797.7" width="452.9" height="138.1" fill="none" stroke="#000" stroke-width="1.9"/>
<line x1="104" y1="935.8" x2="112" y2="935.8" stroke="#000" stroke-width="1.9" />
<text x="95.3" y="947.37" font-size="32.6" text-anchor="end" >0</text>
<line x1="104" y1="843.73" x2="112" y2="843.73" stroke="#000" stroke-width="1.9" />
<text x="95.3" y="855.31" font-size="32.6" text-anchor="end" >1</text>
<line x1="168.61" y1="935.8" x2="168.61" y2="943.8" stroke="#000" stroke-width="1.9" />
<text x="168.61" y="976.6" font-size="32.6" text-anchor="middle">−<tspan dx="6.4">6</tspan></text>
<line x1="281.84" y1="935.8" x2="281.84" y2="943.8" stroke="#000" stroke-width="1.9" />
<text x="281.84" y="976.6" font-size="32.6" text-anchor="middle">−<tspan dx="6.4">4</tspan></text>
<line x1="395.06" y1="935.8" x2="395.06" y2="943.8" stroke="#000" stroke-width="1.9" />
<text x="395.06" y="976.6" font-size="32.6" text-anchor="middle">−<tspan dx="6.4">2</tspan></text>
<line x1="508.29" y1="935.8" x2="508.29" y2="943.8" stroke="#000" stroke-width="1.9" />
<text x="508.29" y="976.6" font-size="32.6" text-anchor="middle" >0</text>
<text x="123.9" y="834.7" font-size="32.6"><tspan font-weight="bold">d</tspan><tspan dx="3">-ii</tspan></text>
<text x="411.2" y="834.7" font-size="32.6" >2 MCM</text>
<text x="414.2" y="865.3" font-size="22.5"><tspan font-style="italic">N</tspan><tspan font-size="15.5" dy="2.5">foci</tspan><tspan dx="7" dy="-2.5">= 15</tspan></text>
<text x="60.3" y="866.75" font-size="32.6" text-anchor="middle" transform="rotate(-90 60.3 866.75)" >PDF</text>
<text x="342.6" y="1021.9" font-size="32.6" text-anchor="middle">log<tspan font-size="22" dy="5">10</tspan><tspan dy="-5">(</tspan><tspan font-style="italic">D</tspan>) (kbp<tspan font-size="23" dy="-12">2</tspan><tspan dy="12">s</tspan><tspan font-size="19.5" dy="-11">-1</tspan><tspan dy="11">)</tspan></text>
<circle cx="739.2" cy="849.5" r="28.8" fill="#fc8c8c"/>
<circle cx="807.3" cy="847.7" r="28.8" fill="#dc5252"/>
<g stroke="#000" stroke-width="2.8" fill="none"><path d="M739.2,817.7 V880.9 M729.3,817.7 H749.1 M729.3,880.9 H749.1"/><path d="M807.2,822.7 V872.9 M797.3,822.7 H817.1 M797.3,872.9 H817.1"/></g>
<rect x="691.1" y="610.2" width="163.7" height="325.6" fill="none" stroke="#000" stroke-width="1.9"/>
<line x1="683.1" y1="610.2" x2="691.1" y2="610.2" stroke="#000" stroke-width="1.9" />
<text x="675.7" y="621.77" font-size="32.6" text-anchor="end" >2</text>
<line x1="683.1" y1="703.23" x2="691.1" y2="703.23" stroke="#000" stroke-width="1.9" />
<text x="675.7" y="714.8" font-size="32.6" text-anchor="end" >0</text>
<line x1="683.1" y1="796.26" x2="691.1" y2="796.26" stroke="#000" stroke-width="1.9" />
<text x="675.7" y="807.83" font-size="32.6" text-anchor="end">−<tspan dx="6.4">2</tspan></text>
<line x1="683.1" y1="889.29" x2="691.1" y2="889.29" stroke="#000" stroke-width="1.9" />
<text x="675.7" y="900.86" font-size="32.6" text-anchor="end">−<tspan dx="6.4">4</tspan></text>
<line x1="738.8" y1="935.8" x2="738.8" y2="943.8" stroke="#000" stroke-width="1.9" />
<text x="0" y="0" font-size="32.6" transform="translate(714.6 962) rotate(45)">1 MCM</text>
<line x1="807.1" y1="935.8" x2="807.1" y2="943.8" stroke="#000" stroke-width="1.9" />
<text x="0" y="0" font-size="32.6" transform="translate(790 962) rotate(45)">2 MCM</text>
<text x="704.5" y="650.3" font-size="32.6" font-weight="bold" >e</text>
<text x="611.7" y="768.6" font-size="32.6" text-anchor="middle" transform="rotate(-90 611.7 768.6)"><tspan font-style="italic">D</tspan> (log<tspan font-size="22" dy="5">10</tspan><tspan dy="-5">(kbp</tspan><tspan font-size="23" dy="-12">2</tspan><tspan dy="12">s</tspan><tspan font-size="19.5" dy="-11">-1</tspan><tspan dy="11">))</tspan></text>
<clipPath id="cf1"><rect x="977.8" y="610.2" width="453.2" height="138.4"/></clipPath>
<path d="M1056.1,748.6 L1056.1,729.8 L1075,729.8 L1075,748.6 Z M1150.6,748.6 L1150.6,691.9 L1169.5,691.9 L1169.5,668.7 L1188.4,668.7 L1188.4,710 L1207.3,710 L1207.3,706.2 L1226.2,706.2 L1226.2,709.1 L1245.1,709.1 L1245.1,748.6 Z " fill="#fc8c8c" />
<path d="M1150.6,748.6 L1150.6,731.8 L1169.5,731.8 L1169.5,707.1 L1188.4,707.1 L1188.4,748.6 Z M1226.2,748.6 L1226.2,728.9 L1245.1,728.9 L1245.1,748.6 Z " fill="#dc5252" />
<g stroke="#000" stroke-width="2.3" fill="none" clip-path="url(#cf1)"><path d="M1065.8,723.8 V734.8 M1061,723.8 H1070.6 M1061,734.8 H1070.6"/><path d="M1160.1,683.5 V700.3 M1155.3,683.5 H1164.9 M1155.3,700.3 H1164.9"/><path d="M1160.1,720 V742.1 M1155.3,720 H1164.9 M1155.3,742.1 H1164.9"/><path d="M1179.1,660.4 V676.6 M1174.3,660.4 H1183.9 M1174.3,676.6 H1183.9"/><path d="M1179.1,694 V719.8 M1174.3,694 H1183.9 M1174.3,719.8 H1183.9"/><path d="M1198,702.4 V717.2 M1193.2,702.4 H1202.8 M1193.2,717.2 H1202.8"/><path d="M1216.9,697.7 V714.4 M1212.1,697.7 H1221.7 M1212.1,714.4 H1221.7"/><path d="M1235.8,703.7 V715.6 M1231,703.7 H1240.6 M1231,715.6 H1240.6"/><path d="M1235.8,715.6 V741.5 M1231,715.6 H1240.6 M1231,741.5 H1240.6"/></g>
<g clip-path="url(#cf1)">
<polyline points="977.8,748.6 980.07,748.6 982.33,748.6 984.6,748.6 986.86,748.6 989.13,748.6 991.4,748.6 993.66,748.6 995.93,748.6 998.19,748.6 1000.46,748.6 1002.73,748.6 1004.99,748.6 1007.26,748.6 1009.52,748.6 1011.79,748.6 1014.06,748.6 1016.32,748.6 1018.59,748.6 1020.85,748.6 1023.12,748.6 1025.39,748.6 1027.65,748.6 1029.92,748.6 1032.18,748.6 1034.45,748.6 1036.72,748.6 1038.98,748.59 1041.25,748.59 1043.51,748.59 1045.78,748.59 1048.05,748.58 1050.31,748.58 1052.58,748.57 1054.84,748.56 1057.11,748.55 1059.38,748.53 1061.64,748.51 1063.91,748.49 1066.17,748.46 1068.44,748.42 1070.71,748.37 1072.97,748.31 1075.24,748.23 1077.5,748.14 1079.77,748.02 1082.04,747.88 1084.3,747.72 1086.57,747.52 1088.83,747.28 1091.1,747 1093.37,746.66 1095.63,746.27 1097.9,745.81 1100.16,745.27 1102.43,744.66 1104.7,743.95 1106.96,743.14 1109.23,742.23 1111.49,741.2 1113.76,740.04 1116.03,738.75 1118.29,737.32 1120.56,735.75 1122.82,734.03 1125.09,732.16 1127.36,730.14 1129.62,727.98 1131.89,725.67 1134.15,723.24 1136.42,720.68 1138.69,718.02 1140.95,715.27 1143.22,712.45 1145.48,709.58 1147.75,706.69 1150.02,703.81 1152.28,700.96 1154.55,698.19 1156.81,695.51 1159.08,692.97 1161.35,690.59 1163.61,688.41 1165.88,686.45 1168.14,684.75 1170.41,683.32 1172.68,682.18 1174.94,681.36 1177.21,680.86 1179.47,680.69 1181.74,680.86 1184.01,681.36 1186.27,682.18 1188.54,683.32 1190.8,684.75 1193.07,686.45 1195.34,688.41 1197.6,690.59 1199.87,692.97 1202.13,695.51 1204.4,698.19 1206.67,700.96 1208.93,703.81 1211.2,706.69 1213.46,709.58 1215.73,712.45 1218,715.27 1220.26,718.02 1222.53,720.68 1224.79,723.24 1227.06,725.67 1229.33,727.98 1231.59,730.14 1233.86,732.16 1236.12,734.03 1238.39,735.75 1240.66,737.32 1242.92,738.75 1245.19,740.04 1247.45,741.2 1249.72,742.23 1251.99,743.14 1254.25,743.95 1256.52,744.66 1258.78,745.27 1261.05,745.81 1263.32,746.27 1265.58,746.66 1267.85,747 1270.11,747.28 1272.38,747.52 1274.65,747.72 1276.91,747.88 1279.18,748.02 1281.44,748.14 1283.71,748.23 1285.98,748.31 1288.24,748.37 1290.51,748.42 1292.77,748.46 1295.04,748.49 1297.31,748.51 1299.57,748.53 1301.84,748.55 1304.1,748.56 1306.37,748.57 1308.64,748.58 1310.9,748.58 1313.17,748.59 1315.43,748.59 1317.7,748.59 1319.97,748.59 1322.23,748.6 1324.5,748.6 1326.76,748.6 1329.03,748.6 1331.3,748.6 1333.56,748.6 1335.83,748.6 1338.09,748.6 1340.36,748.6 1342.63,748.6 1344.89,748.6 1347.16,748.6 1349.42,748.6 1351.69,748.6 1353.96,748.6 1356.22,748.6 1358.49,748.6 1360.75,748.6 1363.02,748.6 1365.29,748.6 1367.55,748.6 1369.82,748.6 1372.08,748.6 1374.35,748.6 1376.62,748.6 1378.88,748.6 1381.15,748.6 1383.41,748.6 1385.68,748.6 1387.95,748.6 1390.21,748.6 1392.48,748.6 1394.74,748.6 1397.01,748.6 1399.28,748.6 1401.54,748.6 1403.81,748.6 1406.07,748.6 1408.34,748.6 1410.61,748.6 1412.87,748.6 1415.14,748.6 1417.4,748.6 1419.67,748.6 1421.94,748.6 1424.2,748.6 1426.47,748.6 1428.73,748.6 1431,748.6" fill="none" stroke="#000" stroke-width="3.5" stroke-linejoin="round"/>
</g>
<rect x="1275.2" y="621" width="144.1" height="68.8" rx="5" fill="#fff" fill-opacity="0.8" stroke="#d0d0d0" stroke-width="2"/>
<rect x="1288.1" y="635.2" width="44.3" height="15.5" fill="#fc8c8c" />
<rect x="1288.1" y="662.3" width="44.3" height="15.5" fill="#dc5252" />
<text x="1338.9" y="651" font-size="21.5" >1 MCM</text>
<text x="1338.9" y="678.1" font-size="21.5" >2 MCM</text>
<rect x="977.8" y="610.2" width="453.2" height="138.4" fill="none" stroke="#000" stroke-width="1.9"/>
<line x1="969.8" y1="748.6" x2="977.8" y2="748.6" stroke="#000" stroke-width="1.9" />
<text x="961" y="760.17" font-size="32.6" text-anchor="end" >0</text>
<line x1="969.8" y1="656.33" x2="977.8" y2="656.33" stroke="#000" stroke-width="1.9" />
<text x="961" y="667.91" font-size="32.6" text-anchor="end" >1</text>
<line x1="1034.45" y1="748.6" x2="1034.45" y2="756.6" stroke="#000" stroke-width="1.9" />
<line x1="1147.75" y1="748.6" x2="1147.75" y2="756.6" stroke="#000" stroke-width="1.9" />
<line x1="1261.05" y1="748.6" x2="1261.05" y2="756.6" stroke="#000" stroke-width="1.9" />
<line x1="1374.35" y1="748.6" x2="1374.35" y2="756.6" stroke="#000" stroke-width="1.9" />
<text x="989.8" y="646.8" font-size="32.6"><tspan font-weight="bold">f</tspan><tspan dx="8">-i MCM, </tspan><tspan font-style="italic">t</tspan><tspan font-size="23" dy="5">f</tspan><tspan dx="14.5" dy="-5">= 120s</tspan></text>
<text x="992.4" y="679.5" font-size="22.5"><tspan font-style="italic">N</tspan><tspan font-size="15.5" dy="2.5">scans</tspan><tspan dx="7" dy="-2.5">= 9</tspan></text>
<text x="992.4" y="710.9" font-size="22.5"><tspan font-style="italic">N</tspan><tspan font-size="15.5" dy="2.5">foci</tspan><tspan dx="7" dy="-2.5">= 14</tspan></text>
<text x="926.2" y="679.4" font-size="32.6" text-anchor="middle" transform="rotate(-90 926.2 679.4)" >PDF</text>
<clipPath id="cg1"><rect x="977.8" y="797.7" width="453.2" height="138.1"/></clipPath>
<g fill="none" stroke="#ff0000" stroke-width="2"><rect x="1018.6" y="895.1" width="18.97" height="40.7"/><rect x="1037.57" y="834.1" width="18.97" height="101.7"/><rect x="1056.54" y="918" width="18.97" height="17.8"/><rect x="1075.51" y="916.9" width="18.97" height="18.9"/><rect x="1094.48" y="896.6" width="18.97" height="39.2"/><rect x="1113.45" y="896.6" width="18.97" height="39.2"/><rect x="1132.42" y="917.7" width="18.97" height="18.1"/></g>
<g stroke="#000" stroke-width="2.3" fill="none" clip-path="url(#cg1)"><path d="M1028.1,889.5 V900.5 M1023.3,889.5 H1032.9 M1023.3,900.5 H1032.9"/><path d="M1047,827.1 V841.7 M1042.2,827.1 H1051.8 M1042.2,841.7 H1051.8"/><path d="M1066,913.9 V922.9 M1061.2,913.9 H1070.8 M1061.2,922.9 H1070.8"/><path d="M1085,912.7 V921.7 M1080.2,912.7 H1089.8 M1080.2,921.7 H1089.8"/><path d="M1104,891.1 V902.1 M1099.2,891.1 H1108.8 M1099.2,902.1 H1108.8"/><path d="M1123,891.1 V902.1 M1118.2,891.1 H1127.8 M1118.2,902.1 H1127.8"/><path d="M1142,913.9 V922.9 M1137.2,913.9 H1146.8 M1137.2,922.9 H1146.8"/></g>
<g clip-path="url(#cg1)">
<polyline points="977.8,934.57 980.07,934.32 982.33,934.02 984.6,933.67 986.86,933.27 989.13,932.8 991.4,932.27 993.66,931.66 995.93,930.96 998.19,930.17 1000.46,929.29 1002.73,928.3 1004.99,927.2 1007.26,925.99 1009.52,924.65 1011.79,923.2 1014.06,921.61 1016.32,919.9 1018.59,918.07 1020.85,916.12 1023.12,914.05 1025.39,911.87 1027.65,909.6 1029.92,907.24 1032.18,904.81 1034.45,902.33 1036.72,899.82 1038.98,897.29 1041.25,894.78 1043.51,892.3 1045.78,889.89 1048.05,887.56 1050.31,885.35 1052.58,883.28 1054.84,881.38 1057.11,879.66 1059.38,878.16 1061.64,876.89 1063.91,875.86 1066.17,875.1 1068.44,874.61 1070.71,874.4 1072.97,874.47 1075.24,874.82 1077.5,875.45 1079.77,876.34 1082.04,877.49 1084.3,878.88 1086.57,880.5 1088.83,882.31 1091.1,884.3 1093.37,886.44 1095.63,888.71 1097.9,891.09 1100.16,893.54 1102.43,896.03 1104.7,898.55 1106.96,901.08 1109.23,903.57 1111.49,906.03 1113.76,908.43 1116.03,910.74 1118.29,912.97 1120.56,915.1 1122.82,917.11 1125.09,919 1127.36,920.77 1129.62,922.42 1131.89,923.94 1134.15,925.34 1136.42,926.61 1138.69,927.77 1140.95,928.81 1143.22,929.75 1145.48,930.58 1147.75,931.32 1150.02,931.97 1152.28,932.54 1154.55,933.04 1156.81,933.48 1159.08,933.85 1161.35,934.17 1163.61,934.45 1165.88,934.68 1168.14,934.88 1170.41,935.05 1172.68,935.18 1174.94,935.3 1177.21,935.4 1179.47,935.47 1181.74,935.54 1184.01,935.59 1186.27,935.63 1188.54,935.67 1190.8,935.7 1193.07,935.72 1195.34,935.74 1197.6,935.75 1199.87,935.76 1202.13,935.77 1204.4,935.78 1206.67,935.78 1208.93,935.79 1211.2,935.79 1213.46,935.79 1215.73,935.79 1218,935.8 1220.26,935.8 1222.53,935.8 1224.79,935.8 1227.06,935.8 1229.33,935.8 1231.59,935.8 1233.86,935.8 1236.12,935.8 1238.39,935.8 1240.66,935.8 1242.92,935.8 1245.19,935.8 1247.45,935.8 1249.72,935.8 1251.99,935.8 1254.25,935.8 1256.52,935.8 1258.78,935.8 1261.05,935.8 1263.32,935.8 1265.58,935.8 1267.85,935.8 1270.11,935.8 1272.38,935.8 1274.65,935.8 1276.91,935.8 1279.18,935.8 1281.44,935.8 1283.71,935.8 1285.98,935.8 1288.24,935.8 1290.51,935.8 1292.77,935.8 1295.04,935.8 1297.31,935.8 1299.57,935.8 1301.84,935.8 1304.1,935.8 1306.37,935.8 1308.64,935.8 1310.9,935.8 1313.17,935.8 1315.43,935.8 1317.7,935.8 1319.97,935.8 1322.23,935.8 1324.5,935.8 1326.76,935.8 1329.03,935.8 1331.3,935.8 1333.56,935.8 1335.83,935.8 1338.09,935.8 1340.36,935.8 1342.63,935.8 1344.89,935.8 1347.16,935.8 1349.42,935.8 1351.69,935.8 1353.96,935.8 1356.22,935.8 1358.49,935.8 1360.75,935.8 1363.02,935.8 1365.29,935.8 1367.55,935.8 1369.82,935.8 1372.08,935.8 1374.35,935.8 1376.62,935.8 1378.88,935.8 1381.15,935.8 1383.41,935.8 1385.68,935.8 1387.95,935.8 1390.21,935.8 1392.48,935.8 1394.74,935.8 1397.01,935.8 1399.28,935.8 1401.54,935.8 1403.81,935.8 1406.07,935.8 1408.34,935.8 1410.61,935.8 1412.87,935.8 1415.14,935.8 1417.4,935.8 1419.67,935.8 1421.94,935.8 1424.2,935.8 1426.47,935.8 1428.73,935.8 1431,935.8" fill="none" stroke="#000" stroke-width="3.5" stroke-linejoin="round"/>
</g>
<rect x="977.8" y="797.7" width="453.2" height="138.1" fill="none" stroke="#000" stroke-width="1.9"/>
<line x1="969.8" y1="935.8" x2="977.8" y2="935.8" stroke="#000" stroke-width="1.9" />
<text x="961" y="947.37" font-size="32.6" text-anchor="end" >0</text>
<line x1="969.8" y1="843.73" x2="977.8" y2="843.73" stroke="#000" stroke-width="1.9" />
<text x="961" y="855.31" font-size="32.6" text-anchor="end" >1</text>
<line x1="1034.45" y1="935.8" x2="1034.45" y2="943.8" stroke="#000" stroke-width="1.9" />
<text x="1034.45" y="976.6" font-size="32.6" text-anchor="middle">−<tspan dx="6.4">6</tspan></text>
<line x1="1147.75" y1="935.8" x2="1147.75" y2="943.8" stroke="#000" stroke-width="1.9" />
<text x="1147.75" y="976.6" font-size="32.6" text-anchor="middle">−<tspan dx="6.4">4</tspan></text>
<line x1="1261.05" y1="935.8" x2="1261.05" y2="943.8" stroke="#000" stroke-width="1.9" />
<text x="1261.05" y="976.6" font-size="32.6" text-anchor="middle">−<tspan dx="6.4">2</tspan></text>
<line x1="1374.35" y1="935.8" x2="1374.35" y2="943.8" stroke="#000" stroke-width="1.9" />
<text x="1374.35" y="976.6" font-size="32.6" text-anchor="middle" >0</text>
<text x="989.8" y="834" font-size="32.6"><tspan font-weight="bold">g</tspan><tspan dx="4">-i</tspan></text>
<text x="1404.3" y="834" font-size="32.6" text-anchor="end">dCas9, <tspan font-style="italic">t</tspan><tspan font-size="23" dy="5">f</tspan><tspan dx="14.5" dy="-5">= 120s</tspan></text>
<text x="1305.3" y="865.4" font-size="22.5"><tspan font-style="italic">N</tspan><tspan font-size="15.5" dy="2.5">scans</tspan><tspan dx="7" dy="-2.5">= 18</tspan></text>
<text x="1305.3" y="896.9" font-size="22.5"><tspan font-style="italic">N</tspan><tspan font-size="15.5" dy="2.5">foci</tspan><tspan dx="7" dy="-2.5">= 14</tspan></text>
<text x="926.2" y="866.75" font-size="32.6" text-anchor="middle" transform="rotate(-90 926.2 866.75)" >PDF</text>
<text x="1204.4" y="1021.9" font-size="32.6" text-anchor="middle">log<tspan font-size="22" dy="5">10</tspan><tspan dy="-5">(</tspan><tspan font-style="italic">D</tspan>) (kbp<tspan font-size="23" dy="-12">2</tspan><tspan dy="12">s</tspan><tspan font-size="19.5" dy="-11">-1</tspan><tspan dy="11">)</tspan></text>
<clipPath id="cf2"><rect x="1527.5" y="610.2" width="162.4" height="138.4"/></clipPath>
<path d="M1560.4,748.6 L1560.4,745.4 L1567.18,745.4 L1567.18,748.6 Z M1573.96,748.6 L1573.96,737.2 L1580.74,737.2 L1580.74,717.1 L1587.52,717.1 L1587.52,718.9 L1594.3,718.9 L1594.3,681.2 L1601.08,681.2 L1601.08,687.2 L1607.86,687.2 L1607.86,665.3 L1614.64,665.3 L1614.64,702.9 L1621.42,702.9 L1621.42,731.2 L1628.2,731.2 L1628.2,732.9 L1634.98,732.9 L1634.98,732.9 L1641.76,732.9 L1641.76,735.1 L1648.54,735.1 L1648.54,748.6 Z " fill="#808080" />
<g clip-path="url(#cf2)">
<polyline points="1527.5,748.59 1528.31,748.59 1529.12,748.59 1529.94,748.59 1530.75,748.59 1531.56,748.59 1532.37,748.58 1533.18,748.58 1534,748.58 1534.81,748.57 1535.62,748.57 1536.43,748.56 1537.24,748.55 1538.06,748.54 1538.87,748.53 1539.68,748.52 1540.49,748.51 1541.3,748.49 1542.12,748.47 1542.93,748.45 1543.74,748.43 1544.55,748.4 1545.36,748.37 1546.18,748.34 1546.99,748.3 1547.8,748.25 1548.61,748.2 1549.42,748.14 1550.24,748.08 1551.05,748 1551.86,747.92 1552.67,747.83 1553.48,747.72 1554.3,747.61 1555.11,747.48 1555.92,747.33 1556.73,747.17 1557.54,747 1558.36,746.8 1559.17,746.58 1559.98,746.35 1560.79,746.09 1561.6,745.8 1562.42,745.49 1563.23,745.15 1564.04,744.77 1564.85,744.37 1565.66,743.93 1566.48,743.46 1567.29,742.95 1568.1,742.4 1568.91,741.82 1569.72,741.19 1570.54,740.51 1571.35,739.79 1572.16,739.03 1572.97,738.22 1573.78,737.36 1574.6,736.46 1575.41,735.5 1576.22,734.5 1577.03,733.45 1577.84,732.35 1578.66,731.21 1579.47,730.02 1580.28,728.79 1581.09,727.51 1581.9,726.2 1582.72,724.84 1583.53,723.46 1584.34,722.04 1585.15,720.6 1585.96,719.13 1586.78,717.65 1587.59,716.15 1588.4,714.64 1589.21,713.13 1590.02,711.63 1590.84,710.13 1591.65,708.65 1592.46,707.19 1593.27,705.75 1594.08,704.36 1594.9,703 1595.71,701.69 1596.52,700.43 1597.33,699.23 1598.14,698.1 1598.96,697.03 1599.77,696.05 1600.58,695.15 1601.39,694.33 1602.2,693.61 1603.02,692.98 1603.83,692.46 1604.64,692.03 1605.45,691.71 1606.26,691.49 1607.08,691.39 1607.89,691.39 1608.7,691.49 1609.51,691.71 1610.32,692.03 1611.14,692.46 1611.95,692.98 1612.76,693.61 1613.57,694.33 1614.38,695.15 1615.2,696.05 1616.01,697.03 1616.82,698.1 1617.63,699.23 1618.44,700.43 1619.26,701.69 1620.07,703 1620.88,704.36 1621.69,705.75 1622.5,707.19 1623.32,708.65 1624.13,710.13 1624.94,711.63 1625.75,713.13 1626.56,714.64 1627.38,716.15 1628.19,717.65 1629,719.13 1629.81,720.6 1630.62,722.04 1631.44,723.46 1632.25,724.84 1633.06,726.2 1633.87,727.51 1634.68,728.79 1635.5,730.02 1636.31,731.21 1637.12,732.35 1637.93,733.45 1638.74,734.5 1639.56,735.5 1640.37,736.46 1641.18,737.36 1641.99,738.22 1642.8,739.03 1643.62,739.79 1644.43,740.51 1645.24,741.19 1646.05,741.82 1646.86,742.4 1647.68,742.95 1648.49,743.46 1649.3,743.93 1650.11,744.37 1650.92,744.77 1651.74,745.15 1652.55,745.49 1653.36,745.8 1654.17,746.09 1654.98,746.35 1655.8,746.58 1656.61,746.8 1657.42,747 1658.23,747.17 1659.04,747.33 1659.86,747.48 1660.67,747.61 1661.48,747.72 1662.29,747.83 1663.1,747.92 1663.92,748 1664.73,748.08 1665.54,748.14 1666.35,748.2 1667.16,748.25 1667.98,748.3 1668.79,748.34 1669.6,748.37 1670.41,748.4 1671.22,748.43 1672.04,748.45 1672.85,748.47 1673.66,748.49 1674.47,748.51 1675.28,748.52 1676.1,748.53 1676.91,748.54 1677.72,748.55 1678.53,748.56 1679.34,748.57 1680.16,748.57 1680.97,748.58 1681.78,748.58 1682.59,748.58 1683.4,748.59 1684.22,748.59 1685.03,748.59 1685.84,748.59 1686.65,748.59 1687.46,748.59 1688.28,748.6 1689.09,748.6 1689.9,748.6" fill="none" stroke="#000" stroke-width="3.5" stroke-linejoin="round"/>
</g>
<rect x="1527.5" y="610.2" width="162.4" height="138.4" fill="none" stroke="#000" stroke-width="1.9"/>
<line x1="1519.5" y1="748.6" x2="1527.5" y2="748.6" stroke="#000" stroke-width="1.9" />
<text x="1509.6" y="760.17" font-size="32.6" text-anchor="end" >0</text>
<line x1="1519.5" y1="679.4" x2="1527.5" y2="679.4" stroke="#000" stroke-width="1.9" />
<text x="1509.6" y="690.97" font-size="32.6" text-anchor="end" >1</text>
<line x1="1519.5" y1="610.2" x2="1527.5" y2="610.2" stroke="#000" stroke-width="1.9" />
<text x="1509.6" y="621.77" font-size="32.6" text-anchor="end" >2</text>
<line x1="1527.5" y1="748.6" x2="1527.5" y2="756.6" stroke="#000" stroke-width="1.9" />
<line x1="1608.7" y1="748.6" x2="1608.7" y2="756.6" stroke="#000" stroke-width="1.9" />
<line x1="1689.9" y1="748.6" x2="1689.9" y2="756.6" stroke="#000" stroke-width="1.9" />
<text x="1535.6" y="645.1" font-size="32.6"><tspan font-weight="bold">f</tspan><tspan dx="8">-ii</tspan></text>
<text x="1475.5" y="679.4" font-size="32.6" text-anchor="middle" transform="rotate(-90 1475.5 679.4)" >PDF</text>
<clipPath id="cg2"><rect x="1527.5" y="797.7" width="162.4" height="138.1"/></clipPath>
<path d="M1588.4,935.8 L1588.4,921.4 L1595.2,921.4 L1595.2,876.5 L1602,876.5 L1602,799 L1608.8,799 L1608.8,831.2 L1615.6,831.2 L1615.6,861.6 L1622.4,861.6 L1622.4,920.2 L1629.2,920.2 L1629.2,935.8 Z " fill="#808080" clip-path="url(#cg2)"/>
<g clip-path="url(#cg2)">
<polyline points="1527.5,935.8 1527.91,935.8 1528.31,935.8 1528.72,935.8 1529.12,935.8 1529.53,935.8 1529.94,935.8 1530.34,935.8 1530.75,935.8 1531.15,935.8 1531.56,935.8 1531.97,935.8 1532.37,935.8 1532.78,935.8 1533.18,935.8 1533.59,935.8 1534,935.8 1534.4,935.8 1534.81,935.8 1535.21,935.8 1535.62,935.8 1536.03,935.8 1536.43,935.8 1536.84,935.8 1537.24,935.8 1537.65,935.8 1538.06,935.8 1538.46,935.8 1538.87,935.8 1539.27,935.8 1539.68,935.8 1540.09,935.8 1540.49,935.8 1540.9,935.8 1541.3,935.8 1541.71,935.8 1542.12,935.8 1542.52,935.8 1542.93,935.8 1543.33,935.8 1543.74,935.8 1544.15,935.8 1544.55,935.8 1544.96,935.8 1545.36,935.8 1545.77,935.8 1546.18,935.8 1546.58,935.8 1546.99,935.8 1547.39,935.8 1547.8,935.8 1548.21,935.8 1548.61,935.8 1549.02,935.8 1549.42,935.8 1549.83,935.8 1550.24,935.8 1550.64,935.8 1551.05,935.8 1551.45,935.8 1551.86,935.8 1552.27,935.8 1552.67,935.8 1553.08,935.8 1553.48,935.8 1553.89,935.8 1554.3,935.8 1554.7,935.8 1555.11,935.8 1555.51,935.8 1555.92,935.8 1556.33,935.8 1556.73,935.8 1557.14,935.8 1557.54,935.8 1557.95,935.8 1558.36,935.8 1558.76,935.8 1559.17,935.8 1559.57,935.8 1559.98,935.8 1560.39,935.8 1560.79,935.8 1561.2,935.8 1561.6,935.8 1562.01,935.8 1562.42,935.8 1562.82,935.8 1563.23,935.8 1563.63,935.8 1564.04,935.8 1564.45,935.8 1564.85,935.8 1565.26,935.8 1565.66,935.8 1566.07,935.8 1566.48,935.8 1566.88,935.8 1567.29,935.8 1567.69,935.8 1568.1,935.8 1568.51,935.8 1568.91,935.8 1569.32,935.8 1569.72,935.8 1570.13,935.8 1570.54,935.8 1570.94,935.8 1571.35,935.79 1571.75,935.79 1572.16,935.79 1572.57,935.79 1572.97,935.79 1573.38,935.78 1573.78,935.78 1574.19,935.78 1574.6,935.77 1575,935.77 1575.41,935.76 1575.81,935.75 1576.22,935.74 1576.63,935.72 1577.03,935.71 1577.44,935.69 1577.84,935.67 1578.25,935.64 1578.66,935.61 1579.06,935.57 1579.47,935.53 1579.87,935.48 1580.28,935.42 1580.69,935.35 1581.09,935.27 1581.5,935.18 1581.9,935.07 1582.31,934.94 1582.72,934.8 1583.12,934.63 1583.53,934.44 1583.93,934.23 1584.34,933.98 1584.75,933.7 1585.15,933.39 1585.56,933.03 1585.96,932.63 1586.37,932.17 1586.78,931.66 1587.18,931.1 1587.59,930.47 1587.99,929.76 1588.4,928.98 1588.81,928.12 1589.21,927.17 1589.62,926.13 1590.02,924.99 1590.43,923.74 1590.84,922.38 1591.24,920.9 1591.65,919.3 1592.05,917.57 1592.46,915.7 1592.87,913.7 1593.27,911.56 1593.68,909.27 1594.08,906.84 1594.49,904.26 1594.9,901.54 1595.3,898.66 1595.71,895.65 1596.11,892.49 1596.52,889.2 1596.93,885.77 1597.33,882.23 1597.74,878.57 1598.14,874.81 1598.55,870.95 1598.96,867.02 1599.36,863.02 1599.77,858.98 1600.17,854.91 1600.58,850.82 1600.99,846.75 1601.39,842.7 1601.8,838.7 1602.2,834.77 1602.61,830.94 1603.02,827.22 1603.42,823.64 1603.83,820.22 1604.23,816.98 1604.64,813.95 1605.05,811.13 1605.45,808.56 1605.86,806.25 1606.26,804.21 1606.67,802.46 1607.08,801.01 1607.48,799.87 1607.89,799.05 1608.29,798.56 1608.7,798.39 1609.11,798.56 1609.51,799.05 1609.92,799.87 1610.32,801.01 1610.73,802.46 1611.14,804.21 1611.54,806.25 1611.95,808.56 1612.35,811.13 1612.76,813.95 1613.17,816.98 1613.57,820.22 1613.98,823.64 1614.38,827.22 1614.79,830.94 1615.2,834.77 1615.6,838.7 1616.01,842.7 1616.41,846.75 1616.82,850.82 1617.23,854.91 1617.63,858.98 1618.04,863.02 1618.44,867.02 1618.85,870.95 1619.26,874.81 1619.66,878.57 1620.07,882.23 1620.47,885.77 1620.88,889.2 1621.29,892.49 1621.69,895.65 1622.1,898.66 1622.5,901.54 1622.91,904.26 1623.32,906.84 1623.72,909.27 1624.13,911.56 1624.53,913.7 1624.94,915.7 1625.35,917.57 1625.75,919.3 1626.16,920.9 1626.56,922.38 1626.97,923.74 1627.38,924.99 1627.78,926.13 1628.19,927.17 1628.59,928.12 1629,928.98 1629.41,929.76 1629.81,930.47 1630.22,931.1 1630.62,931.66 1631.03,932.17 1631.44,932.63 1631.84,933.03 1632.25,933.39 1632.65,933.7 1633.06,933.98 1633.47,934.23 1633.87,934.44 1634.28,934.63 1634.68,934.8 1635.09,934.94 1635.5,935.07 1635.9,935.18 1636.31,935.27 1636.71,935.35 1637.12,935.42 1637.53,935.48 1637.93,935.53 1638.34,935.57 1638.74,935.61 1639.15,935.64 1639.56,935.67 1639.96,935.69 1640.37,935.71 1640.77,935.72 1641.18,935.74 1641.59,935.75 1641.99,935.76 1642.4,935.77 1642.8,935.77 1643.21,935.78 1643.62,935.78 1644.02,935.78 1644.43,935.79 1644.83,935.79 1645.24,935.79 1645.65,935.79 1646.05,935.79 1646.46,935.8 1646.86,935.8 1647.27,935.8 1647.68,935.8 1648.08,935.8 1648.49,935.8 1648.89,935.8 1649.3,935.8 1649.71,935.8 1650.11,935.8 1650.52,935.8 1650.92,935.8 1651.33,935.8 1651.74,935.8 1652.14,935.8 1652.55,935.8 1652.95,935.8 1653.36,935.8 1653.77,935.8 1654.17,935.8 1654.58,935.8 1654.98,935.8 1655.39,935.8 1655.8,935.8 1656.2,935.8 1656.61,935.8 1657.01,935.8 1657.42,935.8 1657.83,935.8 1658.23,935.8 1658.64,935.8 1659.04,935.8 1659.45,935.8 1659.86,935.8 1660.26,935.8 1660.67,935.8 1661.07,935.8 1661.48,935.8 1661.89,935.8 1662.29,935.8 1662.7,935.8 1663.1,935.8 1663.51,935.8 1663.92,935.8 1664.32,935.8 1664.73,935.8 1665.13,935.8 1665.54,935.8 1665.95,935.8 1666.35,935.8 1666.76,935.8 1667.16,935.8 1667.57,935.8 1667.98,935.8 1668.38,935.8 1668.79,935.8 1669.19,935.8 1669.6,935.8 1670.01,935.8 1670.41,935.8 1670.82,935.8 1671.22,935.8 1671.63,935.8 1672.04,935.8 1672.44,935.8 1672.85,935.8 1673.25,935.8 1673.66,935.8 1674.07,935.8 1674.47,935.8 1674.88,935.8 1675.28,935.8 1675.69,935.8 1676.1,935.8 1676.5,935.8 1676.91,935.8 1677.31,935.8 1677.72,935.8 1678.13,935.8 1678.53,935.8 1678.94,935.8 1679.34,935.8 1679.75,935.8 1680.16,935.8 1680.56,935.8 1680.97,935.8 1681.37,935.8 1681.78,935.8 1682.19,935.8 1682.59,935.8 1683,935.8 1683.4,935.8 1683.81,935.8 1684.22,935.8 1684.62,935.8 1685.03,935.8 1685.43,935.8 1685.84,935.8 1686.25,935.8 1686.65,935.8 1687.06,935.8 1687.46,935.8 1687.87,935.8 1688.28,935.8 1688.68,935.8 1689.09,935.8 1689.49,935.8 1689.9,935.8" fill="none" stroke="#000" stroke-width="3.5" stroke-linejoin="round"/>
</g>
<rect x="1527.5" y="797.7" width="162.4" height="138.1" fill="none" stroke="#000" stroke-width="1.9"/>
<line x1="1519.5" y1="935.8" x2="1527.5" y2="935.8" stroke="#000" stroke-width="1.9" />
<text x="1509.6" y="947.37" font-size="32.6" text-anchor="end" >0</text>
<line x1="1519.5" y1="866.75" x2="1527.5" y2="866.75" stroke="#000" stroke-width="1.9" />
<text x="1509.6" y="878.32" font-size="32.6" text-anchor="end" >1</text>
<line x1="1519.5" y1="797.7" x2="1527.5" y2="797.7" stroke="#000" stroke-width="1.9" />
<text x="1509.6" y="809.27" font-size="32.6" text-anchor="end" >2</text>
<line x1="1527.5" y1="935.8" x2="1527.5" y2="943.8" stroke="#000" stroke-width="1.9" />
<text x="1527.5" y="976.6" font-size="32.6" text-anchor="middle">−<tspan dx="6.4">2</tspan></text>
<line x1="1608.7" y1="935.8" x2="1608.7" y2="943.8" stroke="#000" stroke-width="1.9" />
<text x="1608.7" y="976.6" font-size="32.6" text-anchor="middle" >0</text>
<line x1="1689.9" y1="935.8" x2="1689.9" y2="943.8" stroke="#000" stroke-width="1.9" />
<text x="1689.9" y="976.6" font-size="32.6" text-anchor="middle" >2</text>
<text x="1535.6" y="834.3" font-size="32.6"><tspan font-weight="bold">g</tspan><tspan dx="4">-ii</tspan></text>
<text x="1475.5" y="866.75" font-size="32.6" text-anchor="middle" transform="rotate(-90 1475.5 866.75)" >PDF</text>
<text x="1608.5" y="1017.8" font-size="32.6" text-anchor="middle" >displacement (kbp)</text>
<defs>
<linearGradient id="lzT" x1="0" y1="0" x2="0" y2="1"><stop offset="0" stop-color="#ff0000" stop-opacity="0.03"/><stop offset="0.25" stop-color="#ff0000" stop-opacity="0.28"/><stop offset="0.55" stop-color="#ff0000" stop-opacity="0.78"/><stop offset="0.8" stop-color="#ff0000" stop-opacity="1"/><stop offset="1" stop-color="#ff0000" stop-opacity="1"/></linearGradient>
<linearGradient id="lzB" x1="0" y1="1" x2="0" y2="0"><stop offset="0" stop-color="#ff0000" stop-opacity="0.03"/><stop offset="0.25" stop-color="#ff0000" stop-opacity="0.28"/><stop offset="0.55" stop-color="#ff0000" stop-opacity="0.78"/><stop offset="0.8" stop-color="#ff0000" stop-opacity="1"/><stop offset="1" stop-color="#ff0000" stop-opacity="1"/></linearGradient>
</defs>
<path d="M552.4,32.3 L552.6,82.9 L563.5,124.5 Q567.4,129.5 571.3,124.5 L582.3,82.9 L582.3,32.3 Z" fill="#f4f6f7" stroke="#8b969c" stroke-width="1.1"/>
<path d="M554.4,40 L554.7,82.6 L565,121.8 Q567.4,125 569.8,121.8 L580.4,82.6 L580.6,40 Z" fill="#c9e5f4" stroke="#4aa3d3" stroke-width="0.9"/>
<rect x="553.8" y="33.3" width="27" height="4.5" rx="1.5" fill="#c8cdd0"/>
<rect x="551" y="28.8" width="32.4" height="3.5" fill="#e4e8ea" stroke="#8b969c" stroke-width="0.9"/>
<rect x="547.6" y="24.4" width="39.1" height="4.4" rx="1.8" fill="#e4e8ea" stroke="#8b969c" stroke-width="0.9"/>
<circle cx="545.2" cy="28.2" r="2.2" fill="#e4e8ea" stroke="#8b969c" stroke-width="0.8"/>
<polyline points="556.5,44.2 558.7,46.8 560.9,44.2 563.1,46.8 565.3,44.2 567.5,46.8" fill="none" stroke="#8c7f9a" stroke-width="0.8"/>
<polyline points="556.5,61.8 558.7,64.4 560.9,61.8 563.1,64.4 565.3,61.8 567.5,64.4 569.7,61.8 571.9,64.4" fill="none" stroke="#8c7f9a" stroke-width="0.8"/>
<polyline points="561,71.7 563.2,74.3 565.4,71.7 567.6,74.3 569.8,71.7 572,74.3" fill="none" stroke="#8c7f9a" stroke-width="0.8"/>
<polyline points="557,84.9 559.2,87.5 561.4,84.9" fill="none" stroke="#8c7f9a" stroke-width="0.8"/>
<polyline points="567,94 569,96 566,98 569,100 566,102 568,104" fill="none" stroke="#8c7f9a" stroke-width="0.8"/>
<circle cx="573" cy="46.6" r="4.5" fill="#3f7f45"/>
<path d="M573,46.6 L577.5,46.6 A4.5,4.5 0 0 1 573,51.1 Z" fill="#2f6fb0"/>
<path d="M573,46.6 L568.5,46.6 A4.5,4.5 0 0 1 573,42.1 Z" fill="#b07a2a"/>
<circle cx="576.15" cy="49.75" r="1.2" fill="#e8503a"/>
<circle cx="560.3" cy="55.4" r="3.5" fill="#3f7f45"/>
<path d="M560.3,55.4 L563.8,55.4 A3.5,3.5 0 0 1 560.3,58.9 Z" fill="#2f6fb0"/>
<path d="M560.3,55.4 L556.8,55.4 A3.5,3.5 0 0 1 560.3,51.9 Z" fill="#b07a2a"/>
<circle cx="562.75" cy="57.85" r="1.2" fill="#e8503a"/>
<circle cx="575.7" cy="71.3" r="4" fill="#3f7f45"/>
<path d="M575.7,71.3 L579.7,71.3 A4,4 0 0 1 575.7,75.3 Z" fill="#2f6fb0"/>
<path d="M575.7,71.3 L571.7,71.3 A4,4 0 0 1 575.7,67.3 Z" fill="#b07a2a"/>
<circle cx="578.5" cy="74.1" r="1.2" fill="#e8503a"/>
<circle cx="564.7" cy="83.4" r="3.5" fill="#3f7f45"/>
<path d="M564.7,83.4 L568.2,83.4 A3.5,3.5 0 0 1 564.7,86.9 Z" fill="#2f6fb0"/>
<path d="M564.7,83.4 L561.2,83.4 A3.5,3.5 0 0 1 564.7,79.9 Z" fill="#b07a2a"/>
<circle cx="567.15" cy="85.85" r="1.2" fill="#e8503a"/>
<circle cx="571.3" cy="88.4" r="4.5" fill="#3f7f45"/>
<path d="M571.3,88.4 L575.8,88.4 A4.5,4.5 0 0 1 571.3,92.9 Z" fill="#2f6fb0"/>
<path d="M571.3,88.4 L566.8,88.4 A4.5,4.5 0 0 1 571.3,83.9 Z" fill="#b07a2a"/>
<circle cx="574.45" cy="91.55" r="1.2" fill="#e8503a"/>
<circle cx="567.4" cy="107.1" r="4.5" fill="#3f7f45"/>
<path d="M567.4,107.1 L571.9,107.1 A4.5,4.5 0 0 1 567.4,111.6 Z" fill="#2f6fb0"/>
<path d="M567.4,107.1 L562.9,107.1 A4.5,4.5 0 0 1 567.4,102.6 Z" fill="#b07a2a"/>
<circle cx="570.55" cy="110.25" r="1.2" fill="#e8503a"/>
<rect x="557" y="64" width="2" height="1.5" fill="#d0b040"/><rect x="568" y="68" width="2.5" height="1.2" fill="#d0b040"/><rect x="561" y="77" width="2.5" height="1.2" fill="#d0b040"/>
<text x="533.8" y="15.8" font-size="19" textLength="63.5" lengthAdjust="spacingAndGlyphs">30 min</text>
<line x1="598.4" y1="77.7" x2="614.5" y2="77.7" stroke="#000" stroke-width="1.8" />
<path d="M622.5,77.7 L608.5,71.2 L612.5,77.7 L608.5,84.2 Z" fill="#000"/>
<path d="M637,21.8 L689,21.8 L675.7,51.8 L650.3,51.8 Z" fill="url(#lzT)"/>
<path d="M650.3,99.7 L675.7,99.7 L689,129.4 L637,129.4 Z" fill="url(#lzB)"/>
<path d="M845.3,21.8 L897.3,21.8 L884,51.8 L858.6,51.8 Z" fill="url(#lzT)"/>
<path d="M858.6,99.7 L884,99.7 L897.3,129.4 L845.3,129.4 Z" fill="url(#lzB)"/>
<path d="M965.9,21.3 L1017.9,21.3 L1004.6,51.3 L979.2,51.3 Z" fill="url(#lzT)"/>
<path d="M979.2,99.2 L1004.6,99.2 L1017.9,128.9 L965.9,128.9 Z" fill="url(#lzB)"/>
<path d="M1175,21.3 L1227,21.3 L1213.7,51.3 L1188.3,51.3 Z" fill="url(#lzT)"/>
<path d="M1188.3,99.2 L1213.7,99.2 L1227,128.9 L1175,128.9 Z" fill="url(#lzB)"/>
<path d="M688,76.5 C692.2,72.5 695.8,80.5 700,76.5 " fill="none" stroke="#d23a3a" stroke-width="1.4"/>
<path d="M688,76.5 C692.2,80.5 695.8,72.5 700,76.5 " fill="none" stroke="#2a7ab8" stroke-width="1.4"/>
<path d="M749,75.8 C752.15,71.8 754.85,79.8 758,75.8 " fill="none" stroke="#d23a3a" stroke-width="1.4"/>
<path d="M749,75.8 C752.15,79.8 754.85,71.8 758,75.8 " fill="none" stroke="#2a7ab8" stroke-width="1.4"/>
<path d="M840,75.8 C842.1,71.8 843.9,79.8 846,75.8 " fill="none" stroke="#d23a3a" stroke-width="1.4"/>
<path d="M840,75.8 C842.1,79.8 843.9,71.8 846,75.8 " fill="none" stroke="#2a7ab8" stroke-width="1.4"/>
<path d="M1019,75.6 C1022.67,71.6 1025.83,79.6 1029.5,75.6 M1029.5,75.6 C1033.17,71.6 1036.33,79.6 1040,75.6 " fill="none" stroke="#d23a3a" stroke-width="1.4"/>
<path d="M1019,75.6 C1022.67,79.6 1025.83,71.6 1029.5,75.6 M1029.5,75.6 C1033.17,79.6 1036.33,71.6 1040,75.6 " fill="none" stroke="#2a7ab8" stroke-width="1.4"/>
<path d="M1078,75.6 C1081.85,71.6 1085.15,79.6 1089,75.6 " fill="none" stroke="#d23a3a" stroke-width="1.4"/>
<path d="M1078,75.6 C1081.85,79.6 1085.15,71.6 1089,75.6 " fill="none" stroke="#2a7ab8" stroke-width="1.4"/>
<path d="M1170,75.6 C1172.1,71.6 1173.9,79.6 1176,75.6 " fill="none" stroke="#d23a3a" stroke-width="1.4"/>
<path d="M1170,75.6 C1172.1,79.6 1173.9,71.6 1176,75.6 " fill="none" stroke="#2a7ab8" stroke-width="1.4"/>
<circle cx="663" cy="76.1" r="27.9" fill="#626262" stroke="#7c7c7c" stroke-width="0.8"/>
<circle cx="660.5" cy="72" r="23.2" fill="#858180"/>
<circle cx="650.9" cy="63.9" r="5.2" fill="#bcb8b8"/>
<circle cx="871.3" cy="76.1" r="27.9" fill="#626262" stroke="#7c7c7c" stroke-width="0.8"/>
<circle cx="868.8" cy="72" r="23.2" fill="#858180"/>
<circle cx="859.2" cy="63.9" r="5.2" fill="#bcb8b8"/>
<circle cx="991.9" cy="75.6" r="27.9" fill="#626262" stroke="#7c7c7c" stroke-width="0.8"/>
<circle cx="989.4" cy="71.5" r="23.2" fill="#858180"/>
<circle cx="979.8" cy="63.4" r="5.2" fill="#bcb8b8"/>
<circle cx="1201" cy="75.6" r="27.9" fill="#626262" stroke="#7c7c7c" stroke-width="0.8"/>
<circle cx="1198.5" cy="71.5" r="23.2" fill="#858180"/>
<circle cx="1188.9" cy="63.4" r="5.2" fill="#bcb8b8"/>
<path d="M707.62,50.9 L708.38,52.37 L708.5,54.36 L710.66,54.68 L711.57,56 L711.35,57.75 L712.66,59.49 L711.64,61.25 L711.28,63.01 L710.79,64.76 L713.05,66.48 L712.4,68.24 L713.11,70.07 L710.72,71.61 L711,73.3 L713,75.08 L709.9,76.58 L709.87,78.25 L710.77,79.97 L710.81,81.65 L712.18,83.39 L712.55,85.13 L710.77,86.71 L712.12,88.55 L711.56,90.23 L711.25,91.93 L711.78,93.7 L710.26,95.3 L710.09,97.17 L707.82,96.9 L706.62,98.7 L704.77,99.23 L703.3,100.5 L701.92,99.39 L700.1,99.38 L698.31,99.28 L698.22,96.98 L696.97,95.48 L695.34,94.3 L693.76,93.07 L691.46,92.23 L690.57,90.86 L690.11,89.3 L688.84,88.09 L690.25,85.73 L688.54,84.71 L689.23,83.51 L688.56,81.19 L690.96,80.09 L691.33,78.18 L689.77,74.98 L691.54,73.91 L694.51,73.84 L694.68,71.44 L697.54,70 L695.67,67.85 L694.72,65.22 L697.09,64 L698.23,62.32 L697.41,59.89 L697.67,57.62 L699.41,56.26 L702.2,55.53 L702.28,53.78 L703.42,51.18 L705.39,50.9Z" fill="#a9d89a" stroke="#6e9a5e" stroke-width="0.7" stroke-linejoin="round"/>
<clipPath id="bl11"><path d="M707.62,50.9 L708.38,52.37 L708.5,54.36 L710.66,54.68 L711.57,56 L711.35,57.75 L712.66,59.49 L711.64,61.25 L711.28,63.01 L710.79,64.76 L713.05,66.48 L712.4,68.24 L713.11,70.07 L710.72,71.61 L711,73.3 L713,75.08 L709.9,76.58 L709.87,78.25 L710.77,79.97 L710.81,81.65 L712.18,83.39 L712.55,85.13 L710.77,86.71 L712.12,88.55 L711.56,90.23 L711.25,91.93 L711.78,93.7 L710.26,95.3 L710.09,97.17 L707.82,96.9 L706.62,98.7 L704.77,99.23 L703.3,100.5 L701.92,99.39 L700.1,99.38 L698.31,99.28 L698.22,96.98 L696.97,95.48 L695.34,94.3 L693.76,93.07 L691.46,92.23 L690.57,90.86 L690.11,89.3 L688.84,88.09 L690.25,85.73 L688.54,84.71 L689.23,83.51 L688.56,81.19 L690.96,80.09 L691.33,78.18 L689.77,74.98 L691.54,73.91 L694.51,73.84 L694.68,71.44 L697.54,70 L695.67,67.85 L694.72,65.22 L697.09,64 L698.23,62.32 L697.41,59.89 L697.67,57.62 L699.41,56.26 L702.2,55.53 L702.28,53.78 L703.42,51.18 L705.39,50.9Z"/></clipPath>
<g fill="#4e7a40" fill-opacity="0.13" clip-path="url(#bl11)"><circle cx="690.58" cy="53.96" r="2.79"/><circle cx="692.39" cy="78.69" r="2.09"/><circle cx="692.7" cy="87.23" r="1.46"/><circle cx="703.39" cy="56.77" r="2.04"/><circle cx="693.22" cy="64.35" r="3.14"/><circle cx="707.16" cy="66.06" r="2.97"/><circle cx="693.17" cy="70.52" r="2.91"/><circle cx="703.35" cy="55.97" r="3.18"/><circle cx="693.23" cy="63.78" r="2.75"/><circle cx="695.96" cy="65.67" r="1.35"/><circle cx="690.33" cy="79.85" r="1.69"/><circle cx="702.39" cy="69.4" r="2.11"/></g>
<path d="M710.84,74.94 L709.01,74.37 L709.65,73.43 L708.29,73.98 L709.42,72.27 L710.06,72.54 L711,71.98 M699.59,54.89 L697.61,52.58 L699.92,51.27 M704.83,63.72 L704.78,63.82 L706.93,66.21 L705.06,66.1 L705.83,66.68 L703.7,65.24 L705.77,66.49 M689.83,71.37 L687.63,69.75 L686.98,70.11 L685.14,69.42 M709.23,99.53 L709.65,97.74 L707.32,95.33 L709.37,96.33 L711.69,93.94 L712.37,93.85 L713.52,92.94 M711.78,54.73 L711.12,52.45 L713.3,53.63 L711.45,55.95 L710.66,53.88 L710.53,51.76 L712.31,53.98 M688.91,75.75 L689.54,75.16 L689.95,75.7 M690.09,82.65 L691.99,83.79 L691.43,84.97 L691.84,84.67 L693.53,82.59 M705.9,52.47 L703.84,50.09 L706.13,48.15 L707.53,48.95 L707.46,50.93 L706.8,49.15 L707.36,49.24 M705.99,67.95 L705.98,66.66 L705.5,65.42 L706.18,66.93 L707.45,65.44 L706.02,64.03 M709.93,61.39 L709.91,63.08 L711.66,64.13 L713.91,63.02 M692.19,73.31 L694.32,74.96 L693.73,75.06 L694.59,76.14 L696.3,76.77 M695.76,92.02 L697.62,89.73 L698.67,90.08 L697.71,91.54 L695.31,89.72 M698.93,52.22 L697.62,50.43 L695.36,51.07 L695.09,51.72 L695.86,53.26 M710.82,84.88 L712.44,83.66 L713.51,84.94 L713.68,82.62 M693.54,89.54 L694.53,89.64 L695.1,90.92 L694.57,92.38 L696.6,90.32 L698.76,91.43 L696.91,91.2 M702.96,96.04 L703.21,96.81 L703.23,98.4 L702.44,97.54 L704.85,95.53 L706.68,97.02 M710.01,57.11 L712.01,59.51 L714.4,59.7 L715.85,58.8 M709.68,93.36 L709.7,91.05 L708.91,90.65 L707.79,92.75 L706.38,94.59 M698.32,52.74 L697.5,54.18 L695.7,52.42 L695.78,53.54 L697.48,54.49 L699.71,54.45 L701.96,52.38 M693.43,77.07 L695.08,77.38 L693.4,77.45 L695.44,76.23 L696.3,78.51 M708.73,81.17 L710.49,83.51 L710.61,83.87 L709.11,84.05 L709.13,84.58 M688.86,98.99 L690.94,99.21 L693.39,97.32 L691.35,95.65 L693.51,95.44 L695.61,96.95 L695.13,95.68 M699.84,67.81 L699.96,65.86 L699.56,63.5 L698.36,64.51 L700.75,62.19 L699.02,59.75 M694.9,86.82 L695.5,84.84 L696.66,82.96 L696.71,81.71 " fill="none" stroke="#4e7a40" stroke-width="0.7" stroke-opacity="0.7" stroke-linejoin="round" clip-path="url(#bl11)"/>
<path d="M708.93,61.97 L710.21,60.45 L710.99,58.71 L710.2,56.3 L711.01,53.79 L713.25,53.46 L714.54,51.99 L717.13,52.09 L717.89,50.7 L719.61,50.72 L721.3,50.88 L723.2,51.47 L724.65,49.06 L727.14,49.02 L728.77,47.57 L731.64,49.13 L732.05,45.77 L733.73,46.67 L736.69,46.44 L736.38,49.06 L738.41,49.67 L739.24,51.06 L739.14,53.18 L742.2,52.79 L743.1,54.12 L741.96,57.08 L743.98,57.52 L746.02,57.93 L744.76,60.94 L745.86,62.18 L748.99,61.89 L749.2,63.81 L750.93,64.57 L751.58,66.73 L750.12,68.71 L750.88,71.63 L748.24,72.38 L748.82,73.93 L749.22,75.84 L748.1,78.45 L750.28,79.86 L751.25,81.94 L751.18,83.95 L752.02,85.73 L752.78,87.53 L753.58,90.84 L750.94,89.69 L748.95,89.83 L747.46,90.57 L746.22,92.11 L744.96,93.63 L743.35,94.21 L741.39,93.83 L739.85,94.47 L738.59,96.69 L736.73,96.82 L734.87,96.92 L732.99,96.96 L730.92,96.32 L729.15,97.6 L727.46,99.39 L725.47,97.18 L723.44,98.12 L721.66,97.54 L719.68,98.18 L717.92,97.22 L716.04,96.67 L714.63,94.85 L711.38,95.59 L711.72,93.18 L709.74,91.98 L710.28,89.46 L707.32,88.1 L707.97,86.44 L708.07,84.81 L708.89,83.13 L706.91,81.64 L708.1,79.94 L707.18,78.38 L707.3,76.65 L708.04,75.06 L709.69,73.53 L708.27,71.8 L709.9,70.27 L707.49,68.46 L710.02,66.99 L708.34,65.24 L707.9,63.57Z" fill="#c9b9e6" stroke="#6f5f8f" stroke-width="0.7" stroke-linejoin="round"/>
<clipPath id="bl12"><path d="M708.93,61.97 L710.21,60.45 L710.99,58.71 L710.2,56.3 L711.01,53.79 L713.25,53.46 L714.54,51.99 L717.13,52.09 L717.89,50.7 L719.61,50.72 L721.3,50.88 L723.2,51.47 L724.65,49.06 L727.14,49.02 L728.77,47.57 L731.64,49.13 L732.05,45.77 L733.73,46.67 L736.69,46.44 L736.38,49.06 L738.41,49.67 L739.24,51.06 L739.14,53.18 L742.2,52.79 L743.1,54.12 L741.96,57.08 L743.98,57.52 L746.02,57.93 L744.76,60.94 L745.86,62.18 L748.99,61.89 L749.2,63.81 L750.93,64.57 L751.58,66.73 L750.12,68.71 L750.88,71.63 L748.24,72.38 L748.82,73.93 L749.22,75.84 L748.1,78.45 L750.28,79.86 L751.25,81.94 L751.18,83.95 L752.02,85.73 L752.78,87.53 L753.58,90.84 L750.94,89.69 L748.95,89.83 L747.46,90.57 L746.22,92.11 L744.96,93.63 L743.35,94.21 L741.39,93.83 L739.85,94.47 L738.59,96.69 L736.73,96.82 L734.87,96.92 L732.99,96.96 L730.92,96.32 L729.15,97.6 L727.46,99.39 L725.47,97.18 L723.44,98.12 L721.66,97.54 L719.68,98.18 L717.92,97.22 L716.04,96.67 L714.63,94.85 L711.38,95.59 L711.72,93.18 L709.74,91.98 L710.28,89.46 L707.32,88.1 L707.97,86.44 L708.07,84.81 L708.89,83.13 L706.91,81.64 L708.1,79.94 L707.18,78.38 L707.3,76.65 L708.04,75.06 L709.69,73.53 L708.27,71.8 L709.9,70.27 L707.49,68.46 L710.02,66.99 L708.34,65.24 L707.9,63.57Z"/></clipPath>
<g fill="#4a3c60" fill-opacity="0.13" clip-path="url(#bl12)"><circle cx="741.61" cy="93.61" r="1.21"/><circle cx="720.04" cy="86.23" r="1.88"/><circle cx="718.85" cy="46.45" r="1.28"/><circle cx="735.8" cy="97.36" r="3.2"/><circle cx="730.61" cy="47.25" r="1.84"/><circle cx="743.35" cy="89.43" r="2.48"/><circle cx="718.31" cy="73.52" r="2.15"/><circle cx="736.15" cy="59.71" r="3.09"/><circle cx="748.15" cy="54.46" r="1.78"/><circle cx="747.21" cy="60.53" r="3.09"/><circle cx="731.13" cy="82.33" r="2.61"/><circle cx="717.61" cy="60.88" r="1.71"/><circle cx="738.68" cy="82.23" r="1.46"/><circle cx="747.8" cy="67.94" r="1.68"/><circle cx="727.54" cy="97.13" r="2.32"/><circle cx="736.05" cy="94.02" r="3.12"/><circle cx="742.14" cy="67.8" r="2.38"/><circle cx="748.45" cy="87.2" r="2.36"/><circle cx="723.6" cy="65.23" r="2.67"/><circle cx="733.29" cy="46.89" r="2.62"/><circle cx="748.58" cy="87.64" r="2.99"/><circle cx="748.88" cy="73.92" r="2.78"/><circle cx="725.04" cy="51.13" r="1.91"/><circle cx="722.01" cy="94.76" r="2.58"/><circle cx="732.32" cy="78.47" r="1.45"/><circle cx="731.99" cy="82.57" r="1.99"/><circle cx="719.03" cy="67.24" r="1.85"/><circle cx="738.77" cy="53.4" r="1.38"/><circle cx="722.03" cy="82.32" r="2.72"/><circle cx="737.61" cy="94.79" r="1.93"/><circle cx="709.34" cy="71.46" r="2.09"/><circle cx="716.05" cy="80.84" r="1.88"/><circle cx="718.7" cy="63.09" r="3.09"/><circle cx="708.35" cy="64.81" r="1.76"/><circle cx="717.04" cy="68.57" r="1.64"/><circle cx="749.26" cy="72.15" r="2.6"/><circle cx="715.29" cy="70.25" r="2.41"/><circle cx="745.85" cy="59.04" r="2.12"/><circle cx="746.38" cy="89.41" r="1.66"/><circle cx="732.16" cy="85.74" r="1.99"/><circle cx="738.24" cy="80.62" r="3.14"/><circle cx="732.87" cy="81.54" r="1.9"/><circle cx="740.88" cy="62.82" r="2.2"/><circle cx="724.2" cy="62.04" r="1.47"/><circle cx="718.13" cy="74.41" r="1.7"/><circle cx="710.06" cy="87.95" r="1.77"/><circle cx="750.03" cy="77.26" r="1.98"/><circle cx="747.2" cy="92.84" r="1.84"/><circle cx="713.65" cy="79.46" r="2.89"/><circle cx="735.32" cy="86.94" r="2.02"/><circle cx="735.74" cy="59.74" r="2.01"/><circle cx="725.05" cy="66.08" r="2"/><circle cx="744.24" cy="54.86" r="1.61"/><circle cx="719.43" cy="96.69" r="2.25"/><circle cx="710.38" cy="89.61" r="2.95"/><circle cx="744.87" cy="64.73" r="2.67"/><circle cx="721.72" cy="53.17" r="2.93"/><circle cx="745.4" cy="57.03" r="2.96"/><circle cx="709.1" cy="62.1" r="1.23"/><circle cx="715.68" cy="54.52" r="2.63"/><circle cx="721.32" cy="55.92" r="1.57"/><circle cx="722.01" cy="91.01" r="2.41"/><circle cx="712.59" cy="81.76" r="2.27"/><circle cx="728.14" cy="73.54" r="2.5"/><circle cx="743.95" cy="72.38" r="2.47"/><circle cx="728.98" cy="79.1" r="1.98"/><circle cx="726.63" cy="72.97" r="2.63"/><circle cx="720.51" cy="94.28" r="2.18"/><circle cx="746.41" cy="82.04" r="3.11"/><circle cx="738.64" cy="68.28" r="2.01"/><circle cx="735.28" cy="85.35" r="2.88"/><circle cx="713.81" cy="49.26" r="1.42"/><circle cx="711.78" cy="48.95" r="1.22"/><circle cx="719.2" cy="51.91" r="2.57"/><circle cx="735.65" cy="96.41" r="3.12"/></g>
<path d="M741.53,95.57 L741.99,96.01 L743.51,96.65 M728.7,63.58 L730.35,65.08 L729.8,65.86 L728.99,63.65 L730.47,64.58 L732.91,62.79 L731.02,62.72 M714.14,60.5 L712.78,60.41 L713.94,62.04 L715.22,61.24 M725.14,91.01 L724.35,92.96 L725.03,93.56 L722.85,92.77 L721.68,93.09 L723.37,93.92 M727.77,60.57 L727.36,58.58 L728.55,59.24 L726.91,59.48 L727.39,59.86 M724.99,62.17 L727.02,64.25 L729.24,64.75 L727.1,65.37 L729.04,67.57 M735.86,78.15 L734.85,77.32 L735.63,76.8 L735.71,77.54 M711.31,81.06 L713.14,79.37 L713.06,77.33 M721.96,87.4 L720.87,89.11 L719.54,87.59 L720.23,88.27 M734.48,71 L734.27,73.18 L733.73,73.01 L733.03,74.08 L734.29,72.78 M731.62,83.92 L732.41,85 L734.16,84.2 L733.65,82.38 L731.53,83.23 L730.49,84.09 L729.44,84 M738.98,73.16 L738.05,71.96 L737.62,69.72 L735.37,67.8 L734.41,66.09 L732.52,67.75 L731.92,67.7 M735,94.7 L736.69,94.1 L736.83,92.88 L739.12,94.49 M743.26,52.57 L744.59,52.83 L746.05,51.63 L746.21,53.66 M712.88,78.23 L715.2,78.57 L716.93,76.36 L715.94,78.81 M725.24,89.93 L723.13,92.03 L723.24,92.34 M745.82,92.79 L745.32,90.33 L745.34,89.9 L743.55,89.08 L741.41,89.97 L740.29,89.03 L739.29,87.93 M731.13,66.55 L732.52,67.44 L734.36,68.19 M724.31,60.97 L725.08,62.6 L723.16,64.13 M710.87,53.85 L711.04,52.23 L712.67,54.03 L715.06,52.65 L714.57,53.45 L713.49,53.8 L714.49,55.06 M745,85.2 L744.66,86.52 L743.19,88.79 L745.35,88.06 L744.31,88.63 M724.7,64.56 L725.03,64.76 L725.18,67.19 M748.62,61.59 L747.7,63.78 L745.49,62.87 L747.65,63.67 L748.68,62.2 L746.79,64.49 L744.62,62.87 M727.34,88.76 L729.84,90.16 L729.52,92.22 L728.61,89.97 L730.9,91.88 M737.65,71.06 L739.45,71.66 L741.08,72.51 L741.05,74.05 M715.36,56.57 L715.53,56.02 L714.71,54.47 L716.81,52.64 L717.72,52.79 L718.81,55.22 M713.15,79.93 L711.53,80.55 L710.67,82.99 L711.59,83.07 M727.48,66.44 L725.83,68.17 L726.18,66.57 L726.57,64.49 M739.49,83.75 L740.3,81.47 L740.16,83.23 L741.37,81.43 L743.44,83.22 L743.24,85.69 L743.55,84.34 M749.69,96.63 L751.66,96.71 L752.13,96.83 L752.79,95.59 M725.64,74.63 L727.53,75.47 L727.16,73.18 L728.82,71.31 L727.32,70.99 L729.13,69.4 L726.95,71.44 M708.37,84.33 L707.89,84.62 L705.83,85.37 L706.88,87.07 M744.63,72.65 L742.48,70.97 L742,72.68 L744.39,70.23 L742.43,67.78 M742.11,65.37 L743.22,63.46 L744.01,61.81 L744.48,63.02 L746.38,62.7 M752.22,67.21 L754.29,69.7 L752.32,68.57 L753.3,70.5 L752.08,71.84 M729.42,46.21 L728.92,44.5 L728.61,44.5 M732.12,90.8 L734.05,92.13 L733.48,89.97 L735.43,92.3 L735.97,90.64 L738.42,92.37 M728.16,74.76 L725.9,76.63 L724.97,76.09 L724.04,77.16 M715.81,53.07 L715.38,50.96 L714.52,50.37 M722.3,60.4 L721.35,59.62 L719.39,59.24 M719.96,49.11 L718.49,50.52 L720.9,51.11 L718.45,52.9 M721.02,48.68 L718.62,48.03 L720.41,47.36 L718.77,47.04 M713.27,90.13 L712.53,90.02 L710.71,88.41 L710.7,88.05 L709.13,86.3 L708.85,84.37 L706.66,84.24 M710.3,84.33 L711.33,86.58 L709.65,86.19 L709.23,84.05 L711.03,81.76 M752.14,81.27 L752,81.98 L751.61,83.58 M721.91,73.6 L723.67,73.99 L723.91,73.51 L724.55,73.95 L726.75,75.31 L725.9,76.41 M718.49,71.14 L718.97,72.53 L717.5,74.16 L719.14,71.77 L719.11,73.33 L719.83,75.19 L722.26,76.17 M737.77,54.55 L739.79,54.8 L738.88,53.16 L738.57,51.54 L740.79,51.73 M747.28,58.89 L746.06,59.96 L746.37,59.72 L747.01,59.51 L747.8,60.48 L745.32,61.18 L746.35,63.01 M732.07,74.26 L733.39,74.42 L735.47,72.05 L737.19,71.72 M727.65,95.25 L727.38,96.74 L726.8,95.12 L724.6,97.36 L722.62,98.21 L723.31,97.11 L723.6,98.04 M717.34,58.77 L715.88,58.71 L715.65,60.1 L717.44,61.42 M736.12,74.22 L737.5,72.46 L738.95,73.81 M724.65,72.35 L726.31,72.33 L727.15,70.12 L725.76,68.95 L725.68,67.04 L727.91,66.2 L725.41,64.9 M730.52,78.15 L728.46,80.5 L730.23,80.57 L730.97,79.6 M714.68,46.53 L715.96,47.09 L713.68,46.32 L714.35,43.87 L713.24,45.37 L715.3,47.74 M730.01,53.03 L729.38,53.35 L730.88,55.73 L728.91,55.51 L727.98,57.24 L727.47,59.29 M743.63,67.88 L741.72,66.87 L739.9,68.53 L739.38,67.53 L740.46,69.96 M714.34,82.09 L712.17,80.54 L710.39,82.35 L709.98,81.41 M749.9,82.29 L748.75,82.2 L749.63,82.93 M722.53,67.73 L720.9,68.63 L722.66,69.14 L724.63,67.97 L723.58,69.79 L722.36,67.93 M714.66,92.05 L713.15,93.26 L711.63,93.87 L709.19,94.25 L710.44,94.28 L711.08,92.36 L710.87,93.78 M724.75,84.83 L725.52,87.25 L723.62,87.47 L721.81,87.49 L722.92,87.01 L722.86,86.35 L722.2,87.4 M737.4,84.96 L737.97,85.08 L737.79,83.45 L738.53,83.18 L737.75,83.24 M713.86,79.84 L715.38,78.06 L716.26,79.25 L717.68,79.29 L717.34,77.49 M721.59,76.79 L721.12,74.72 L719.75,75.02 L721.66,74.65 L723.97,73.43 L721.99,75.13 L721.38,74.03 M727.95,77.94 L728.04,78.38 L729.69,77.5 L727.62,77.24 M713.39,70.93 L715.32,69.1 L715.3,68.71 M736.67,57.77 L738.8,58.91 L738.62,60.06 L740.77,60.6 M738.38,84.12 L738.75,85.54 L741.03,83.64 L742.33,85.66 L741.86,84.87 M709.42,92.77 L707.32,91.56 L705.64,93.59 L704.28,93.65 M744.17,48.05 L746.03,49.59 L748.03,51.26 L748.95,52.6 L746.57,55.05 L744.09,54.68 M733.57,72.64 L734.54,74.63 L732.27,76.14 L734.54,77.54 L734.12,77.5 M734.86,98.12 L734.97,99.27 L734.38,101.68 L734.51,103.23 L735.14,104.8 L734.6,106.94 M752.37,92.88 L752.6,93.5 L753.35,93.56 L751.5,94.09 L750.86,92.67 M719.72,61.64 L720.25,59.93 L719.39,61.28 M734.02,52.95 L731.63,52.51 L732.7,52.92 L733.46,54.93 L731.44,54.97 L730.2,55.47 M728.86,78.84 L728.87,78.46 L729.15,76.8 M748.99,66.36 L750.37,67.68 L752.31,68.56 L750,69.4 L750.17,68.38 L748.23,67.67 M712.44,89 L714.09,90.21 L716.01,89.17 L716.82,89.47 L716.03,88.46 M711.96,89.64 L712.7,87.65 L710.6,87.77 L708.64,88.8 L706.18,88.64 M738.04,47.96 L737.77,50.42 L740.17,49.51 L741.39,48.67 L739.21,50.65 L737.34,53.12 L737.1,54.88 M729.39,93.01 L727.75,90.63 L726.11,91.16 L724.16,89.03 L723.57,86.8 M721.79,78.91 L723.95,76.97 L723.72,75.77 L725.61,77.56 M716.12,61.28 L716.39,62.53 L716.47,63.38 L717.4,61.61 M716.7,93.46 L717.03,92.76 L716.61,92.9 L714.62,93.75 M752.02,54.01 L751.9,54.33 L754,54.34 L755.5,56.09 L755.59,57.75 L754.28,59.16 L752.14,59.97 M749.5,55.76 L748.6,54.96 L746.13,53.11 L746.66,53.09 L748.47,52.82 L747.33,52.28 L745.53,52.19 M739.07,55.63 L740.04,54.02 L742.28,53.06 L740.31,55.4 L740.54,57.71 L739.51,57.6 L737.56,58.53 M712.65,46.91 L713.82,46.08 L715.39,45.33 L715.98,47.04 M750.78,78.45 L753.23,80.65 L752.91,78.7 L754.15,80.64 M743.38,95.11 L743.77,96.99 L743.81,96.77 L745.58,96.66 L743.16,94.3 L745.31,92.06 L747.57,90.57 M742.86,66.97 L741.19,65.98 L739.08,66.32 L738.03,64.37 L737.04,62.36 L736.05,62.74 M742.7,86.48 L744.33,85.53 L743.19,83.39 L742.22,83.46 L741.95,81 L739.94,79.68 M745.3,96.35 L743.47,94.6 L744.33,92.35 L744.22,94.16 L745.7,94.71 L746.2,92.82 M752.48,96.39 L753.98,94.15 L755.51,92.86 L753.65,90.61 M728.72,69.66 L728.11,67.71 L729.05,65.93 L728.3,64.46 M737.04,89.77 L736.31,91.17 L735.86,89.95 L734.16,92.41 M742.31,81.53 L740.96,83.11 L739.23,85.39 L737.17,86 M736.58,74.47 L737.55,76.58 L735.11,78.64 L736.62,78.66 L736.59,78.84 L738.17,81.34 L736.13,80.14 M723.45,52 L721.51,50.96 L722.07,51.65 L723.31,49.91 M720.3,89.37 L718.13,89.01 L719.67,87.4 L720.21,84.91 L718.76,86.07 L717.56,85.59 L719.59,85.73 M746.88,95.85 L747.16,94.23 L747.57,94.46 L748.32,96.94 L750.22,94.86 L752.44,96.85 L753.76,96.9 M724.54,63.32 L726.29,63.9 L728.18,63.35 L730.16,61.91 L729.8,60.87 L730.25,59.55 L729.61,60.53 M729.42,66.43 L727.27,68.04 L728.68,69.04 L729.79,67.24 M734.04,46.48 L735.4,48.01 L737.67,49.93 M751.84,49.55 L750.37,50.45 L748.64,52.85 L750.75,55.31 M735.77,55.45 L734.12,53.11 L733.54,52.96 L733.05,52.84 M735.84,46.53 L734.06,47.35 L731.77,46.07 L729.63,44.56 L729.78,46.12 M744.52,93.69 L743.39,92.3 L742.17,91.29 L740.63,91.35 M740.31,59.16 L741.45,60.99 L742.25,58.74 L743.74,60.08 L746.16,58.52 M749.9,66.69 L752.24,67.06 L749.99,66.36 L749.6,66.49 L748.04,68.86 L747.44,68.91 L747.36,69.12 M739.69,51.64 L737.53,53.59 L735.42,55.82 L733.07,54.86 L732.24,55.73 L730.19,54.26 L731.81,56.36 M710.52,51.14 L710.55,49.99 L712.19,49.73 L710.44,47.87 L709.95,48.86 M735.02,75.88 L734.37,74.48 L736.18,73.13 L735.71,75.07 L733.33,74.34 L731.83,74.08 M749.98,96.03 L751.72,95.41 L752.92,96.56 L754.94,95.88 L756.68,94.33 L757.1,96.57 L758.32,97.86 M716.1,65.44 L717.16,66.07 L718.39,64.14 L716.61,64.1 L716.46,61.89 L714.54,64.05 L716.65,62.96 M734.69,84.38 L733.16,83.24 L735.45,80.9 L733.75,80.23 M745.87,49 L743.69,50.23 L743.57,51.81 L743.81,50.62 L745.23,50.86 L747.16,51.34 L744.76,51.9 M740.04,67.6 L737.89,69.22 L738.19,68.89 L740.03,70.54 L739.5,68.2 L739.94,66.87 M735.22,51.19 L736.99,49.6 L738.58,47.57 L736.8,47.88 L735.49,47.35 L734.84,48.65 L736.22,50.57 M718.71,59.58 L716.67,57.36 L715.9,57.29 L716.44,54.86 L717.64,52.79 L719.91,52.44 M714.89,67.58 L717.2,67.26 L715.07,65.76 L713.66,64.52 L714.2,66.41 L713.68,66.66 L715.97,66.63 M725.05,91.49 L724.63,93.07 L723.37,91.07 L722.04,90.23 L723.82,89 L721.68,87.04 L723.19,87.05 M750.7,63.44 L750.7,62.95 L749.81,65.26 L748.72,65.35 M722.74,85.12 L724.66,85.5 L724.81,86.91 M724.07,47.07 L722.2,45.81 L724.28,46.97 L725.77,45.57 L727.43,46.15 L728.74,43.96 M720.65,96.69 L720.9,96.61 L719.92,99.04 L719.31,97.05 L720.56,95.38 M726.76,49.77 L728.16,48.87 L727.1,51.2 L726.25,49.56 M718.33,82.96 L717.17,83.85 L717.67,84.69 L715.98,86.09 L714,84.11 M735.03,93.12 L736.8,93.96 L738.92,96.32 L740.61,94.55 M720.92,69.44 L718.88,68.89 L719.55,67.47 L719.61,67.83 L720.92,65.51 L719.58,67.62 L721.65,67.56 M708.63,60.96 L710.55,60.02 L711.25,62.49 L710.86,62.17 L713.31,62.52 L710.87,62.82 L709.02,60.51 M747.43,85.41 L747.8,87.41 L745.83,88.35 L746.64,88.23 L749.03,86.25 L749.66,84.27 M737.56,80.47 L736.11,82.25 L736.33,81.55 L735.78,80.2 M740.5,71.36 L740.06,69.54 L741.83,67.38 L739.56,65.35 M752.74,71.97 L751.24,71.97 L752.78,70.93 M745.74,50.66 L748.02,52.37 L746.9,54.03 L744.81,54.29 L742.36,52.27 M751.79,50.76 L753.61,52.91 L752.81,50.94 L754.29,49.4 L752.04,51.86 M717.02,58.47 L718.12,59.2 L716.45,61.2 M724.48,56.72 L723.12,56.34 L721.94,56.21 L723.23,54.34 L725.73,54.36 M746.14,69.58 L747.96,69.53 L745.92,67.63 L743.88,68.14 L744.23,68.83 M745.5,60.26 L743.33,60.72 L745.25,60.97 L744.7,62.38 L745.18,63.46 L746.31,62.26 L744.16,61.26 M717.37,84.77 L715.19,85.16 L715.38,84.89 L714.08,87.36 M743.91,86.15 L746.03,88.1 L747.44,88.94 L745.09,88.05 M722.95,86.6 L722.13,85.38 L723.65,87.3 M730.99,58.97 L729.78,57.7 L731.34,57.18 M742.65,53.12 L742.09,52.3 L743.11,51.28 L744.87,51.47 L744.45,52.75 L743.61,52.24 M736.71,54.07 L736.88,54.14 L735.54,51.96 M724.01,57.08 L721.56,58.28 L723.47,58.02 L723.17,60.02 L724.18,58.22 L725.84,60.42 L723.68,61.64 " fill="none" stroke="#4a3c60" stroke-width="0.7" stroke-opacity="0.7" stroke-linejoin="round" clip-path="url(#bl12)"/>
<path d="M756.63,71.94 L758.11,70.44 L758.23,68.84 L758.87,67.28 L756.88,65.52 L757.2,63.68 L757.55,62.08 L758.38,60.67 L760.5,59.78 L759.3,57.56 L761.05,56.58 L761.9,54.83 L763.44,54.15 L765.08,53.62 L767.18,53.81 L768.11,52.33 L769.26,49.96 L771.26,50.2 L772.87,49.24 L775.32,50.89 L776.52,50.17 L778.67,50.56 L780.26,50.74 L781.95,52.05 L782.82,53.82 L783.93,54.54 L784.71,54.63 L787.19,54.03 L786.98,51.96 L788.97,52.09 L790.41,50.86 L791.99,49.78 L793.57,49.47 L795.19,49.58 L796.76,49.11 L798.32,48.38 L800.17,50.51 L802.16,50.11 L804.26,50.37 L806.02,49.11 L807.85,48.62 L809.72,49.19 L811.52,47.18 L813.29,48.86 L815.16,48.46 L817.04,47.96 L818.74,48.39 L820.27,49.73 L822.1,49.22 L823.62,50.07 L825.16,50.73 L826.84,50.27 L828.55,49.63 L830.01,50.97 L832.07,50.8 L833.87,51.4 L836.2,52.24 L836.95,54.29 L838.92,55.49 L838.53,58.09 L837.89,59.87 L839.98,61.1 L839.26,62.89 L838.91,64.61 L842.02,65.63 L842.04,67.43 L840.02,69.31 L840.02,71.06 L840.76,72.78 L842.39,74.44 L841.68,76.23 L840.32,77.94 L840.18,79.58 L840.36,81.24 L842.19,82.98 L840.03,84.51 L841.47,86.24 L840.29,87.82 L841.77,90.27 L838.55,89.87 L838.2,92.03 L836.69,93.15 L836.48,95.78 L834.32,95.6 L832.9,96.61 L831.4,97.5 L830.3,99.05 L828.2,98.96 L827,101 L825.24,100.78 L823.43,100.84 L822.03,98.85 L819.93,100.29 L818.28,99.57 L816.45,99.71 L815.25,97.62 L813.6,96.85 L811.9,95.9 L811.54,98.54 L809.09,99.17 L807.22,100.45 L804.87,102.3 L803.18,102.42 L801.83,99.08 L799.88,101.71 L798.27,100.97 L796.59,100.9 L794.96,99.69 L793.34,101.57 L791.35,100.56 L789.55,101.12 L787.53,99.87 L786.03,102.74 L783.89,101.92 L782.43,101.07 L781.18,99.25 L779.3,100.32 L777.7,100.11 L776.26,99.16 L774.43,99.98 L772.44,100.39 L771.33,98.33 L770.15,96.45 L768.28,96.29 L766.05,97.05 L764.89,95.12 L764.03,94.57 L761.63,93.73 L761.95,91.75 L760.6,90.46 L759.62,89.03 L759.09,87.41 L758.18,85.94 L757.92,84.04 L756.78,82.41 L757.79,80.6 L756.65,78.97 L758.65,77.07 L758,75.4 L755.96,73.85Z" fill="#c9b9e6" stroke="#6f5f8f" stroke-width="0.7" stroke-linejoin="round"/>
<clipPath id="bl13"><path d="M756.63,71.94 L758.11,70.44 L758.23,68.84 L758.87,67.28 L756.88,65.52 L757.2,63.68 L757.55,62.08 L758.38,60.67 L760.5,59.78 L759.3,57.56 L761.05,56.58 L761.9,54.83 L763.44,54.15 L765.08,53.62 L767.18,53.81 L768.11,52.33 L769.26,49.96 L771.26,50.2 L772.87,49.24 L775.32,50.89 L776.52,50.17 L778.67,50.56 L780.26,50.74 L781.95,52.05 L782.82,53.82 L783.93,54.54 L784.71,54.63 L787.19,54.03 L786.98,51.96 L788.97,52.09 L790.41,50.86 L791.99,49.78 L793.57,49.47 L795.19,49.58 L796.76,49.11 L798.32,48.38 L800.17,50.51 L802.16,50.11 L804.26,50.37 L806.02,49.11 L807.85,48.62 L809.72,49.19 L811.52,47.18 L813.29,48.86 L815.16,48.46 L817.04,47.96 L818.74,48.39 L820.27,49.73 L822.1,49.22 L823.62,50.07 L825.16,50.73 L826.84,50.27 L828.55,49.63 L830.01,50.97 L832.07,50.8 L833.87,51.4 L836.2,52.24 L836.95,54.29 L838.92,55.49 L838.53,58.09 L837.89,59.87 L839.98,61.1 L839.26,62.89 L838.91,64.61 L842.02,65.63 L842.04,67.43 L840.02,69.31 L840.02,71.06 L840.76,72.78 L842.39,74.44 L841.68,76.23 L840.32,77.94 L840.18,79.58 L840.36,81.24 L842.19,82.98 L840.03,84.51 L841.47,86.24 L840.29,87.82 L841.77,90.27 L838.55,89.87 L838.2,92.03 L836.69,93.15 L836.48,95.78 L834.32,95.6 L832.9,96.61 L831.4,97.5 L830.3,99.05 L828.2,98.96 L827,101 L825.24,100.78 L823.43,100.84 L822.03,98.85 L819.93,100.29 L818.28,99.57 L816.45,99.71 L815.25,97.62 L813.6,96.85 L811.9,95.9 L811.54,98.54 L809.09,99.17 L807.22,100.45 L804.87,102.3 L803.18,102.42 L801.83,99.08 L799.88,101.71 L798.27,100.97 L796.59,100.9 L794.96,99.69 L793.34,101.57 L791.35,100.56 L789.55,101.12 L787.53,99.87 L786.03,102.74 L783.89,101.92 L782.43,101.07 L781.18,99.25 L779.3,100.32 L777.7,100.11 L776.26,99.16 L774.43,99.98 L772.44,100.39 L771.33,98.33 L770.15,96.45 L768.28,96.29 L766.05,97.05 L764.89,95.12 L764.03,94.57 L761.63,93.73 L761.95,91.75 L760.6,90.46 L759.62,89.03 L759.09,87.41 L758.18,85.94 L757.92,84.04 L756.78,82.41 L757.79,80.6 L756.65,78.97 L758.65,77.07 L758,75.4 L755.96,73.85Z"/></clipPath>
<g fill="#4a3c60" fill-opacity="0.13" clip-path="url(#bl13)"><circle cx="822.48" cy="58.41" r="2.16"/><circle cx="804.04" cy="65.98" r="1.78"/><circle cx="793.98" cy="55.57" r="2.93"/><circle cx="766.81" cy="92.03" r="1.64"/><circle cx="782.91" cy="68.92" r="1.27"/><circle cx="768.19" cy="67.47" r="2.08"/><circle cx="831.11" cy="100.86" r="1.29"/><circle cx="802.4" cy="55.17" r="2.81"/><circle cx="784.54" cy="95.71" r="2.29"/><circle cx="767.97" cy="48.56" r="1.7"/><circle cx="830.4" cy="56.25" r="2.16"/><circle cx="788.66" cy="66.62" r="2.8"/><circle cx="775.38" cy="86.45" r="2.53"/><circle cx="836.06" cy="75.91" r="3.04"/><circle cx="794.45" cy="78.74" r="2.44"/><circle cx="828.02" cy="95.96" r="1.43"/><circle cx="768.94" cy="76.65" r="2.82"/><circle cx="802.28" cy="64.2" r="3.12"/><circle cx="782.45" cy="52.91" r="1.3"/><circle cx="759.96" cy="86.9" r="1.41"/><circle cx="817.63" cy="94.3" r="3.2"/><circle cx="825.44" cy="70.83" r="2.44"/><circle cx="827.47" cy="86.32" r="1.78"/><circle cx="821.48" cy="54.11" r="1.82"/><circle cx="841.18" cy="73.32" r="1.74"/><circle cx="823.4" cy="72.2" r="1.21"/><circle cx="759.86" cy="62.05" r="1.86"/><circle cx="836.22" cy="61.43" r="2.9"/><circle cx="829.18" cy="70.4" r="3.19"/><circle cx="821.47" cy="74" r="1.72"/><circle cx="796.18" cy="96.2" r="2.27"/><circle cx="773.71" cy="68.24" r="2.15"/><circle cx="773.44" cy="78.72" r="1.27"/><circle cx="826.47" cy="57.79" r="1.41"/><circle cx="806.92" cy="64.62" r="2.97"/><circle cx="799.19" cy="75.99" r="2.87"/><circle cx="775.42" cy="87.88" r="2.5"/><circle cx="793.43" cy="99.24" r="1.24"/><circle cx="829.92" cy="55.92" r="2.88"/><circle cx="770.33" cy="51.15" r="2.2"/><circle cx="835.26" cy="61.97" r="2.17"/><circle cx="808.54" cy="61.24" r="2.26"/><circle cx="758.21" cy="72.16" r="2.72"/><circle cx="785.99" cy="60.01" r="1.3"/><circle cx="816.32" cy="70.98" r="3.03"/><circle cx="819.68" cy="53.63" r="3.03"/><circle cx="835.77" cy="91.68" r="2.86"/><circle cx="814.7" cy="86.58" r="2.53"/><circle cx="807.08" cy="61.96" r="1.47"/><circle cx="818.47" cy="79.98" r="1.31"/><circle cx="811.37" cy="80.69" r="2.22"/><circle cx="822.58" cy="94.83" r="1.96"/><circle cx="825.92" cy="74.81" r="2.34"/><circle cx="792.21" cy="97.84" r="2.09"/><circle cx="837.5" cy="66.26" r="2.54"/><circle cx="834.15" cy="84.6" r="1.95"/><circle cx="763.94" cy="73.7" r="2.03"/><circle cx="825.86" cy="89.95" r="3.17"/><circle cx="795.05" cy="70.1" r="2.33"/><circle cx="820.45" cy="52.54" r="1.63"/><circle cx="769.66" cy="65.54" r="1.8"/><circle cx="838.83" cy="59.33" r="3.07"/><circle cx="782.18" cy="59.12" r="3.15"/><circle cx="764.89" cy="54.29" r="1.46"/><circle cx="763.03" cy="68.83" r="1.62"/><circle cx="770.78" cy="49.13" r="2.6"/><circle cx="761.54" cy="60.59" r="2.33"/><circle cx="831.7" cy="83.32" r="2.62"/><circle cx="816.32" cy="90.63" r="2.91"/><circle cx="770.44" cy="51.17" r="2.44"/><circle cx="801.03" cy="75.96" r="2.76"/><circle cx="772.05" cy="85.79" r="2.05"/><circle cx="792.86" cy="61.29" r="1.76"/><circle cx="806.09" cy="77.72" r="3.01"/><circle cx="780.96" cy="86.3" r="1.39"/><circle cx="812.23" cy="56.83" r="2.92"/><circle cx="838.58" cy="61.81" r="2.82"/><circle cx="775.87" cy="64.52" r="1.41"/><circle cx="794.53" cy="53.84" r="2.61"/><circle cx="805.8" cy="70.61" r="2.62"/><circle cx="777.02" cy="65.91" r="1.93"/><circle cx="757.57" cy="95.39" r="1.38"/><circle cx="765.9" cy="90.67" r="2.84"/><circle cx="795.04" cy="70.68" r="1.48"/><circle cx="757.5" cy="75.94" r="1.69"/><circle cx="770.1" cy="96.39" r="1.24"/><circle cx="787.87" cy="88.21" r="2.69"/><circle cx="766.39" cy="87.71" r="2.33"/><circle cx="810.38" cy="98.39" r="2.8"/><circle cx="807.8" cy="89.18" r="2.18"/><circle cx="803.79" cy="91.71" r="2.44"/><circle cx="789.06" cy="49.38" r="2.78"/><circle cx="786.01" cy="71.08" r="1.78"/><circle cx="804.1" cy="69.59" r="2.87"/><circle cx="807.36" cy="77.95" r="2.77"/><circle cx="794.44" cy="76.78" r="2.7"/><circle cx="818.16" cy="87.79" r="2.98"/><circle cx="804.33" cy="77.78" r="1.58"/><circle cx="777.68" cy="71.37" r="2.2"/><circle cx="833.03" cy="50.56" r="1.9"/><circle cx="819.65" cy="72.67" r="2.9"/><circle cx="770.84" cy="89.24" r="2.06"/><circle cx="805.13" cy="51.32" r="2.01"/><circle cx="824.92" cy="87.34" r="2.33"/><circle cx="792.97" cy="50.37" r="2.6"/><circle cx="794.94" cy="86.75" r="2.42"/><circle cx="791.22" cy="94.74" r="1.46"/><circle cx="838.06" cy="52.87" r="3.14"/><circle cx="806.75" cy="72.08" r="3.07"/><circle cx="800.48" cy="75.3" r="1.32"/><circle cx="824.48" cy="82.24" r="1.68"/><circle cx="766.96" cy="70.61" r="3.07"/><circle cx="830.61" cy="73.02" r="1.27"/><circle cx="827.11" cy="59.03" r="2.66"/><circle cx="799.4" cy="99.47" r="1.5"/><circle cx="824.15" cy="86.55" r="1.23"/><circle cx="804.95" cy="63.96" r="2.59"/><circle cx="838.25" cy="83.67" r="2.19"/><circle cx="808.18" cy="61.5" r="2.14"/><circle cx="767.19" cy="86.56" r="1.33"/><circle cx="801.72" cy="57.83" r="2.33"/><circle cx="762.16" cy="49.76" r="2.45"/><circle cx="817.91" cy="95.47" r="2.55"/><circle cx="841.14" cy="55.88" r="2.46"/><circle cx="810.91" cy="57.61" r="1.48"/><circle cx="777.62" cy="76.09" r="2.77"/><circle cx="817.19" cy="78.67" r="1.36"/><circle cx="818.11" cy="75.51" r="1.54"/><circle cx="809.39" cy="61.34" r="1.82"/><circle cx="795.35" cy="88.19" r="1.41"/><circle cx="794.61" cy="60.79" r="2.54"/><circle cx="826.01" cy="62.33" r="2.64"/><circle cx="796.42" cy="59.86" r="1.75"/><circle cx="802.64" cy="91.14" r="2.4"/><circle cx="757.44" cy="89.79" r="2.36"/><circle cx="792.94" cy="61.1" r="2.08"/><circle cx="815.6" cy="62.7" r="1.48"/><circle cx="831.3" cy="71.77" r="1.34"/><circle cx="832.31" cy="54.11" r="1.93"/><circle cx="809.47" cy="83.57" r="3"/></g>
<path d="M772.2,78.54 L772.04,79.61 L771.87,80.69 L774.16,79.89 L775.34,79.12 L777.28,80.44 L779.07,82.3 M807.47,98.77 L805.56,97.04 L805,96 L804.98,97.23 M813.62,91.62 L812.09,92.01 L811.51,89.75 L810.54,92.12 L810.4,93.03 L810.03,90.89 M808.88,59.46 L809.39,60.41 L808.51,59.41 M797.02,82.76 L796.16,84.24 L797.37,85.46 L797.02,87.52 L795.19,89.83 L792.94,88.09 L794.19,89.44 M814.01,61.5 L813.91,59.11 L812.98,57.46 L811.71,56.36 L813.18,56.83 L812.67,56.93 L811.61,54.5 M834.45,88.43 L836.8,86.26 L837.95,84.97 L835.98,86.84 L835.69,85.82 M804.51,51.72 L803.42,50.36 L803.1,50.27 L801.82,48.1 L799.91,46.7 L800.8,49.04 M786.52,61.46 L786.59,59.58 L787.5,61.9 L787.34,61.51 L786.83,60.84 L786.4,59.24 L785.38,60.19 M797.73,51.91 L799.78,49.74 L800.56,50.81 L798.13,49.98 M792.52,95.2 L791.96,93.49 L792.73,95.76 L793.83,95.25 L794.49,95.27 L795.02,93.8 L795.86,94.46 M791.87,84.02 L791.39,81.88 L790.24,82.86 L787.78,84.49 M826.69,74.73 L829.01,74.11 L827.95,73.29 L829.77,72.11 L828.18,71.18 M764.67,56.1 L765.95,57.93 L767.93,59.97 L769.75,59.3 M797.59,57.71 L797.41,56.96 L796.99,54.56 L795.79,52.95 L794.48,50.8 L796.06,48.38 M792.26,57.43 L792.02,58.64 L790.46,59.65 L788.49,61.11 M801.57,54.67 L802.13,54.16 L803.55,53.89 L802.52,55.87 L802.87,54.65 L804.89,54.54 L805.41,54.39 M829.63,87.15 L827.98,87.14 L829.68,85.63 L828.48,85.47 L830.57,86.63 L832.35,86 M784.51,81.86 L782.42,80.4 L782.04,81.93 M829.39,88.63 L828.62,89.2 L827.14,89.54 L829.08,90.85 L828.61,92.79 M805.08,48.83 L803.98,50.98 L803,51.57 L800.9,49.34 L802.08,50.18 M814.66,52.23 L812.26,52.04 L814.59,49.56 L812.62,51.56 L814.7,51.59 L813.67,50.58 M819.1,79.12 L821.38,78.84 L820.36,77.51 L818.04,75.07 L816.92,75.74 L816.8,74.16 M772.88,49.92 L773.1,47.56 L771.95,45.88 L771.05,46.56 L770.47,45.2 M781.21,60.26 L779.09,58.64 L776.79,60.63 L775.3,62.72 L775.89,65.01 M796.89,61.85 L794.68,62.74 L792.54,61.57 M797.22,73.37 L799.43,72.12 L801.59,69.75 L802.03,68.89 L802.13,67.26 L801.55,66.51 L801.37,66.04 M775.76,57.26 L774.46,57.34 L774.09,59.05 L774.65,56.78 L772.86,57.5 L774.36,58.47 M832.39,86.03 L834.63,86.09 L833.95,84.64 L834.36,85.86 L834.37,85.31 L833.13,87.04 M840.8,79.37 L839.92,77.66 L837.71,78.25 L839.79,79.2 M814,93.93 L812.28,94.32 L813.33,92.88 L814.56,92.95 L815.34,90.48 L814.9,91.41 M841.47,86.78 L840.37,86.92 L838.89,86.88 L840.48,89.22 L841.56,88.08 L839.62,87.36 M784.44,72.23 L783.53,70.37 L785.46,71.74 L786.22,73.01 M783.84,57.68 L783.05,59.57 L780.74,59.39 L782.25,61.53 L784.02,60.98 L782.12,63.22 L784.13,63.17 M767.44,100.79 L767.7,100.79 L770.1,99.46 L767.82,101.75 L767.6,101.54 L767.24,100.43 L764.88,100.71 M775.57,74.82 L777.99,73.86 L777.16,71.97 M808.48,57.82 L810.16,58.05 L811.73,57.55 L809.88,59.5 M818.82,95.75 L818.83,96.06 L818.83,95.13 L818.56,93.18 L816.56,90.97 M827.51,61.55 L825.59,63.47 L823.23,64.99 L823.39,67.03 L825.34,64.59 L823.09,63.34 L820.81,65.17 M769.52,84.2 L770.53,86.68 L771.27,86.12 L773.63,84.7 L773.9,84.28 L774.13,83.27 L776.43,85.72 M816.16,74.69 L818.4,72.44 L820.32,70.48 M765.25,61.73 L766.13,61.6 L765.15,60.8 L767.02,62.3 L768.35,63.12 M811.28,76.74 L811.03,77.6 L813.17,78.3 M787.77,51.09 L790.08,51.01 L791.32,51.81 L790.04,49.57 L791.18,49.38 L790.17,50.81 M800.4,50.61 L798.65,51.23 L797.9,51.67 L800.24,54.03 L801.7,56.39 L803.17,55.69 M835.86,54.99 L836.87,53.06 L835.77,55.17 L837.2,57.46 M838.01,77.18 L838.46,76.17 L838.03,76.66 L837.42,78.31 L835.62,77.47 M779.36,56.66 L779.87,54.77 L778.41,54.83 L777.86,54.16 L778.96,52.52 L781.3,52.41 M789.68,67.41 L788.56,67.57 L786.3,67.62 L784.66,68.53 L782.94,68.85 L782.08,68.76 M837.3,76.09 L835.94,74.85 L837.52,76.24 L835.74,77.79 L834.73,78.12 L836.69,80.21 L835.07,78.43 M779.83,80.46 L781.14,82.07 L781.02,81.45 L782.51,82.05 L784.43,84.54 M796.55,66.59 L795.5,67.85 L794.87,67.9 L794.28,70.38 M765.39,63.58 L767.46,64.5 L769.21,63.2 L770.96,60.73 L772.53,58.3 L773.08,57.18 L771.39,58.39 M768.93,84.43 L766.69,82.17 L768.93,81.93 M785.56,68.62 L787.84,68.1 L789.47,66.44 M830.44,68.77 L831.39,67.07 L830.73,66.78 M807.86,76.39 L806.48,76.04 L808.32,74.1 L810.06,73.09 M760.61,74.9 L758.27,73.46 L757.05,73.95 L757.46,74.16 L755.76,74.17 L757,76.03 L756.34,75.78 M830.63,50.7 L830.33,52.2 L830.76,50.31 L831.64,52.13 L833.48,54.56 L834.74,56.01 L836.5,53.77 M812.09,69.36 L813.59,71.55 L812.53,70.71 L813.9,70.46 L815.87,69.83 L813.64,68.76 L815.63,69.15 M839.36,91.93 L837.76,91.51 L835.36,90.68 L833.95,92.87 L832.23,92.1 L829.84,90.37 L830.83,89.88 M799.89,91.86 L798.72,89.83 L800.83,89.54 L801.46,89.68 M826.73,98.7 L827.52,97.53 L828.89,99.69 L830.05,99.58 L831.69,97.48 L829.45,97 M801,82.43 L801.09,81.79 L802.26,82.08 L800.79,82.47 L800.59,83.94 L801.6,86.36 M821.67,75.49 L820.63,75.75 L823.09,73.86 L822.71,73.51 L823.78,71.96 M814.88,54.27 L812.79,54.99 L814.03,55.26 L812.88,54.57 L814.84,54.36 L815.15,56.64 L815.07,58.2 M807.82,92.35 L808.06,94.62 L809.53,94.14 L807.18,93.39 L808.95,92.29 L810.35,91.85 L808.82,91.2 M828.56,79.47 L830.78,80.31 L830.07,78.47 L831.2,77.18 M784.94,63.18 L785.63,60.68 L785.85,61.9 L785.01,64.04 M832.44,57.36 L834.44,54.98 L832.47,53.51 L833.47,51.58 M804.71,90.43 L805.86,89.32 L807.86,91.45 L805.51,92.16 L805.37,91.47 L805.83,92.91 M817.66,62.19 L816.09,59.99 L816.4,59.67 L815.48,58.63 L816.34,58.21 L814.24,57.2 M795.11,97.72 L796.21,95.24 L795.17,94.72 M810.12,87.82 L808.59,89.59 L806.36,89.28 L804.11,90.63 L803.97,90.33 L806.15,89.04 L806.92,90.03 M763.37,89.2 L761.76,89.39 L761.06,88.02 L762.77,86.28 L762.54,85.24 M791.94,57.15 L792.18,57.85 L793.5,58.67 L795.78,60.38 M838.53,71.79 L837.7,74.09 L838.62,71.99 L837.31,70.93 L836.23,69.93 L834.28,71.99 L836.24,72.17 M777.34,84.73 L777.7,84.48 L779.5,83.34 L779.65,82.89 L781.64,82.89 L783.87,84.49 M766.8,79.44 L767.53,77.33 L765.99,78.82 L767.38,79.68 L765.4,80.69 L766.02,79.82 M774.7,87.68 L777.12,88.68 L779.47,90.05 L781.11,88.61 L782.34,86.61 L783.68,87.55 L783.18,87.96 M838.36,84.61 L836.63,85.22 L838.99,83.03 L839.79,85.07 L841.62,82.84 M793.43,90.05 L792.7,89.03 L794.14,87.07 M770.65,91.31 L768.91,90.93 L766.71,92.65 M831.17,50.4 L829.91,52.82 L828.17,55.05 L827.15,55.32 M803.57,90.56 L805.24,91.97 L805.41,90.37 L803.15,91.08 L802.1,90.22 M771.23,77.23 L770.02,75.68 L771.11,73.68 L770.98,73.83 L773.25,75.5 L771.1,74.79 M793.45,89.49 L795.39,88.24 L793.22,86.93 M823.05,74.11 L824.74,73.4 L824.1,71.96 L823.35,71.53 M767.59,97.07 L766.88,96.2 L769.14,97.52 L768.79,96.8 L769.74,98.23 L770.71,100.69 M820.98,97.99 L818.9,98.21 L818.06,99.43 L817.38,101.16 L816.09,100.55 L817.45,102.4 M825.33,84.41 L825.79,81.93 L828.29,81.62 L826.47,79.6 L825.33,79.69 L827.08,78.97 M805.79,65.19 L807.94,65.31 L809.84,65.49 L811.84,67 L810.32,68.92 M771.09,75.33 L771.75,73.69 L772.43,74.84 L770.7,75.97 L768.51,76.67 M820.87,48.57 L820.37,50.98 L819.48,49.96 L821.07,48.35 L820.24,49.35 L818.14,47.31 L817.15,49.16 M764.84,66.47 L767,64.78 L767.56,63.86 L767.68,65.76 L767.37,63.86 M800.43,79.44 L799.03,78.37 L801.45,78.3 L800.24,78.47 L798.96,79.78 M841.45,98.06 L839.71,100.27 L838.3,98.44 L838.48,100.5 L838.83,100.39 L839.33,98.05 L838.57,97.71 M828.63,81.81 L827.01,84.16 L827.59,83.85 L828.47,83.56 L827.48,84.21 L829.81,84.66 L831.75,84.11 M838,97.56 L835.93,99.6 L836.25,99.4 M826.07,79.14 L826.4,77.51 L828.59,76.11 L828.67,74.74 L826.52,74.72 L826.05,72.75 M827.55,78.16 L827.72,77.74 L830.01,77.2 L829.82,79.25 L827.84,79.94 L829.32,78.45 L826.86,79.54 M803.25,50.85 L802.49,48.56 L802.38,49.28 L802.38,51.3 L801.39,52.25 L802.98,53.39 L801.28,55.74 M772.87,50.1 L773.63,49.08 L771.87,50.44 L772.13,49.61 L772.71,49.58 L773.04,50.6 L772.02,48.98 M759.04,95.4 L760.77,96.36 L758.45,95.5 L756.75,97.88 L754.33,99.22 M836.94,97.59 L835.58,97.87 L835.8,98.55 L836.11,100.55 M758.81,86.34 L760.42,84.25 L762.03,82.82 L760.6,85.26 L762.82,85.63 L764.76,86.1 L763.52,86.16 M812.98,54.15 L812.98,53.52 L811.55,54.36 L809.69,52.71 L811.19,54.42 M835.92,65.97 L835.35,64.11 L833.8,66.56 L833.78,68.25 L835.26,66.8 L836.49,68.36 L834.41,67.64 M790.12,77.89 L788.68,75.56 L786.85,77.39 L786.54,79.77 L788.93,78 L790.95,76.09 L788.58,77.86 M799.31,64.37 L797.94,64.04 L798.76,66.49 L800.63,67.47 M796.89,85.26 L798.53,83.74 L798.48,85.3 L800.72,83.99 M816.55,78.71 L818.15,78.43 L818.22,77.8 L819.46,78.95 L820.23,79.19 L819.08,79.47 M794.71,75.3 L795.82,73.19 L794.72,72.83 L796.81,71.16 L795.76,72.9 L797.85,74.96 L798.82,75.87 M801.27,65 L801.59,63.66 L799.37,64.41 L801.31,62.28 L803.48,59.97 L802,58.14 M796.54,64.3 L794.71,61.96 L793.4,61.73 L794.68,62.76 L796.38,60.26 L797.14,60.49 M796.59,66.03 L797.68,64.36 L797.01,63.07 L799.08,63.1 L798.83,63.6 L799.21,65.44 M835.28,94.94 L833.45,94.31 L833.42,92.29 M830.42,93.63 L831.96,93.08 L832.69,90.85 L832.92,91.04 L834.32,91.96 M814.4,81.9 L813.5,83.65 L815.1,83.99 M779.12,72.5 L778.2,73.26 L780.22,75.45 L778.56,75.35 L776.97,76.73 M822.24,97.98 L821.66,100.46 L819.72,99.46 L820.97,101.27 L820.28,103.21 L822.04,104.25 M827.84,98.17 L825.41,98.66 L822.92,99.88 M789.08,77.25 L789.85,78.6 L788.4,78.21 M789.92,60.01 L790.35,57.82 L788.45,59.23 L789.15,57.79 L790.1,56.16 L789.83,58.33 M833.59,77.16 L831.49,75.03 L833.57,76.15 L833.82,76.82 M839.24,75.62 L838.18,73.2 L836.75,74.65 M766.64,79.34 L767.94,77.49 L766.28,78.78 L763.85,76.81 L764.34,78.58 M757.54,55.7 L759.8,54.74 L757.99,55.29 L758.1,53.63 L760.48,51.68 L759.89,50.92 L761.71,49.27 M789.48,85.68 L787.91,86.74 L785.46,85.09 L786.41,85.69 M828.99,88.92 L829.13,88.46 L830.93,86.69 M761.01,62.77 L760.41,61.73 L758.8,63.03 L757.54,61.48 L758.58,62.53 M781.59,89.8 L781.36,91.94 L782.17,89.81 L779.82,90.86 L780.37,88.9 L782.2,87.02 M769.91,63.36 L770.38,64.46 L768.95,64.57 L767.86,64.73 L769.61,64.65 L769.44,67.15 L770.05,69.27 M835.39,52.2 L837.57,52.55 L835.22,50.47 L833.46,48.76 M774.27,99.46 L775.17,101.96 L777.24,102.51 L779.46,102.13 M797.35,93.64 L798.93,94.12 L796.7,94.23 L798.03,94.1 L798.52,95.68 L797.32,95.81 M830.84,99.79 L828.41,100.39 L829.39,102.05 L831.29,101.96 L830.87,99.93 M827.51,88.04 L826.8,86.83 L825.97,87.69 L824.66,85.2 L824.34,84.44 M805.09,74.98 L803.94,74.31 L806.33,72.6 L804.79,75.03 M818,56.59 L818.63,54.68 L818.57,53.99 L818.08,52.08 M795.06,64.07 L792.71,64.24 L794.5,62.02 L794.61,64.43 L793.12,64.09 M840.01,83.95 L841.56,85.87 L843.24,84.68 L841.17,86.98 L842.49,85.68 L843.55,84.01 L843.41,85.12 M806.73,82.41 L807.45,84.77 L808.75,83.02 M835.06,84.71 L835.91,86.31 L836.73,87.24 L834.93,85.8 L833.59,88.27 L832.41,86.71 M782.28,61.82 L782.56,61.58 L781.69,63.25 L784.11,63.77 L783.31,61.61 L784.72,63.74 L787.08,61.54 M819.76,56.05 L817.3,54.16 L817.9,54.94 L818.1,54.69 L817.91,52.71 M792.15,70.1 L792.66,69.25 L793.09,70.57 L793.11,71.35 M835.81,88.1 L836.08,89.8 L834.16,89.05 L835.11,89.07 L834.34,91.05 L833.78,90.06 M799.85,60.12 L800.18,62.5 L798.16,62.68 M826.55,85.7 L826.1,84.61 L825.82,83.28 M785.98,59.01 L783.91,59.07 L784.74,61.45 L783.66,63.33 M804.71,96.71 L802.35,94.46 L803.78,96.76 L801.78,94.4 L800.35,94.06 M804.75,86.77 L802.58,89.07 L804.7,89.33 L803.79,90.55 L805.3,92.3 L805.68,93.75 M838.29,85.61 L840.36,83.51 L840.02,84.47 L838.5,82.06 L838.99,81.49 L836.67,83.88 M826.87,49.86 L826.01,47.62 L828.2,47.24 L830.07,45.44 L829.37,46.4 L827.51,46.01 M793.28,49.33 L795.34,48.94 L797.22,50.42 L795.94,52.16 L796.21,50.31 M802.05,53.39 L803.9,53.6 L804.27,51.22 L805.47,51.11 L806.52,53.12 L805.27,55.31 L807.27,53.05 M811.96,69.83 L810.54,69.37 L812.45,68.11 L813.17,68.17 M758.41,50.06 L760.89,51.27 L761.77,52.65 L762.93,55.07 L764.08,56.88 M800.47,89.57 L802.79,87.58 L804.65,87.39 L804.47,88.81 L802.05,87.86 L803.6,85.47 L805.01,85.71 M758.08,52.15 L756.18,51.1 L756.72,53.49 L758.1,54.4 L757.29,56.18 M832.4,92.72 L834.72,91.15 L834.01,89.38 L832.65,87.68 L833.43,86.81 L834.95,87.52 M770.4,67.85 L768.05,70.12 L767.71,72.35 L768.22,73.38 M784.47,57 L783.98,56.78 L784.59,58.78 L782.73,60.17 M833.5,54.28 L832.94,56.33 L833.14,57.51 M761.76,73.81 L761.69,74.54 L763.81,74.76 L762.17,72.48 M759.62,72.2 L759.67,71.37 L758.81,69.35 L756.4,71.8 L756.99,70.08 M839.8,63.2 L840.97,64.07 L840.55,63.95 L841.99,65.02 L839.85,65.35 L839.04,67.58 L841.16,65.94 M769.3,71.8 L767.12,71.61 L769.54,72.06 L767.23,70.47 M838.17,74.02 L837.15,76.26 L836.53,77.1 L836.84,78.37 L838.95,75.98 L839.7,73.49 L837.58,72.77 M831.9,66.97 L833.38,66.31 L832.53,67.32 M816.15,86.26 L815.05,87.17 L815.08,89.04 L812.75,86.82 L814.47,88.6 L814.21,89.38 L811.82,88.7 M774.23,58.46 L775.85,56.86 L774.6,55.04 L774.98,56.95 L773.54,54.91 L772.57,54.71 L772.43,54.13 M808.89,55.82 L806.78,54.82 L807.71,55.08 L808.21,53.33 L807.48,54.35 L808.26,53.67 M782.45,50.26 L783.59,50.29 L783.25,50.34 L783.15,50.82 M795.42,58.98 L795.49,59.03 L795.56,60.64 L793.43,58.28 L791.93,59.86 M775.73,73.41 L775.65,71.98 L775.13,70.08 L777.04,68.32 M790.69,51.11 L793.16,50.29 L792.93,51.24 L791.41,52.52 M831.54,73.18 L831.33,72.33 L829.03,70.51 L828.75,71.52 M787.07,50.35 L786.54,51.63 L786.84,53.2 M762.11,73.26 L760.04,73.19 L760.43,74.05 L758.24,73.93 L756.27,74.73 L758.17,73.45 M838.56,64.69 L836.23,64.8 L834.76,66.78 L834.86,64.95 L834.34,66.99 L836.62,67.22 M830.65,84.24 L833.05,84.39 L831.26,83.42 L830.13,84.6 L831.24,85.9 M786.35,65.93 L785.37,64.08 L784.39,63.77 L782.88,65.62 L784.65,63.18 L782.68,65.65 L781.92,65.56 M788.51,58.7 L788.75,59.42 L787.83,59.17 L790.1,60.42 L790.01,58.86 M834.25,93.64 L832.47,94.57 L834.92,94.4 L836.95,94.92 M814.43,73.3 L815.11,73.61 L813.42,71.85 L813.28,73.25 L814.34,71.48 L813.62,73.87 M799.24,53.31 L799.74,55.48 L799.04,53.83 M796.43,60.24 L797.57,61.47 L797.68,60.13 L796,58.27 L794.24,60.09 M761.73,71.43 L761.89,70.23 L762.62,71.12 M822.74,97.1 L824.01,94.98 L824.34,96.99 L825.78,94.63 M760.99,72.65 L760.31,74.64 L759.25,73.68 L758.11,73.1 M758.06,54.27 L759.23,54.89 L757.48,54.66 L758.88,57.04 L761.07,55.39 L762.4,56.69 L760.02,56.44 M800.07,90.23 L800.31,89.29 L799.88,91.34 L799.91,92.02 L798.91,90.61 L798.54,90.28 L799.52,90.3 M813.06,56.82 L810.69,57.53 L812.49,59.01 L811.09,59.57 L812.38,59.89 L810.82,60.43 M761.44,79.05 L762.27,79.69 L764.28,78.13 L763.6,78.62 L764.98,78.03 L764.85,79.9 L765.67,80.42 M779.74,64.84 L782,65.98 L781.18,67.81 L780.69,66.92 L782.1,69.05 L784.35,70.78 L783.46,69.22 M768.25,86.93 L768.14,88.43 L768.86,89.78 L767.98,89.6 L768.16,88.34 L768.16,89.71 L766.11,89.71 M778.23,50.84 L780.19,49.87 L779.26,48.07 L777.69,48.63 L775.7,46.52 L776.96,46.79 L777.15,45.89 M780.75,57.85 L778.76,57.36 L777.65,56.16 M827.92,49.53 L829.35,51.24 L827.69,49.24 L825.87,46.86 L824.63,47.03 M825.61,95.79 L826.77,93.69 L825.13,91.33 M775.67,98.96 L773.25,98.28 L774.03,99.51 L774.54,98.82 L776.52,100.14 M760.37,71.29 L762.43,70.04 L760.16,71.79 L762.53,70.48 M823.13,92.26 L825.3,90.04 L824.35,88.71 L822.57,91.18 L823.07,89.85 L821.57,87.88 M824.73,89.06 L824.2,87.89 L824.64,87.69 L822.85,89.15 M784.15,76.81 L783.71,76.15 L785.72,76.33 L787.49,77.87 M767.14,98.97 L767.32,96.62 L768.2,99.02 L766.57,97.77 L767.09,100.05 L768.07,99.92 L767.42,100.06 M801.56,56.34 L803.17,55.11 L804.26,57.52 M813.16,78.38 L811.83,77.23 L810.27,77.23 L811.19,78.1 L809.35,78.32 L810.39,77.76 L810.6,80.12 M808.46,51.06 L807.92,51.5 L808.13,49.74 M785.39,58.32 L787.56,59.56 L788.95,60.55 L787.64,59.51 L787.42,61.22 L787.73,62.9 M815.26,78.14 L813.66,76.88 L811.66,77.65 L813.14,75.91 M795.17,99.71 L794.06,97.92 L792.51,99.4 L794.55,100.39 L796.48,100.02 L794.51,100.64 L793.6,100.73 M793.89,86.65 L792.41,89.11 L794.29,89.1 L792.99,90.25 L793.24,89.93 L793.51,91.55 L792.04,93.44 M815.71,96.7 L817.1,97.31 L818.88,99.18 L820.4,99.35 M774.41,60.61 L772.68,62.38 L772.38,61.97 L773.11,61.58 L773.54,61.41 M830.46,68.87 L829.08,71.05 L828.68,73.29 L827.44,71.61 L828.84,71.86 L830.82,73.52 M778.22,70.57 L780.68,69.89 L781.98,69.17 L782.27,71.46 M824.96,87.2 L825.1,87.88 L825.86,86.22 L825.2,84.69 M798.78,80.28 L796.96,82.38 L794.84,81.09 L795.68,82.91 L797.41,81.89 M824.09,73.81 L823.68,72.51 L825.04,71.97 L823.37,73.88 L824.73,72.89 L823.48,73.23 L824.94,71.23 M838.05,88.07 L839.3,87.9 L840.33,88.09 L840.27,87.43 M785.05,73.92 L782.82,73.52 L783.28,73.91 L785.14,74.91 L784.45,74.66 L783.6,76.5 L784.87,75.38 M800.96,51.52 L800.8,50.17 L802.94,51.26 L805.28,50.39 M814.61,77.33 L815.18,75.93 L816.26,75.61 L816.93,73.71 L818.36,71.46 L816.76,69.14 M806.54,53.67 L804.04,53.25 L803.17,52.94 L804.33,55.37 L805.15,53.96 L807.18,52.83 L804.79,50.44 M827.61,62.34 L830.07,64.48 L828.94,66.45 L829.23,66.75 M839.26,79.36 L837.44,78.36 L836.17,77.55 M833.18,53.69 L835,51.93 L834.93,54.2 M799.64,97.3 L799.8,98.87 L799.54,100.58 L800.54,100.8 M820.33,70.39 L819.36,70.08 L816.89,71.9 M790.99,73.92 L791.14,71.71 L791.49,69.46 M801.73,68.54 L800.53,66.11 L802.68,66.99 M838.27,93.45 L836.08,94.59 L835.49,94.78 L834.34,95.6 L834.48,94.67 L835.58,94.4 L833.75,92.77 M836.16,81.13 L837.14,82.88 L837,81.1 L836.17,83.01 L838.23,82.81 M772.6,75.79 L773.99,75.64 L774.03,75.65 L773.28,73.67 L770.9,71.59 M822.16,58.27 L823.45,56.24 L824.33,55.67 L824.17,57.73 L825.91,56.21 M806.39,79.47 L807.53,78.52 L807.8,80.47 L809.9,79.23 L807.84,79.94 L810.34,78.61 L812.1,79.51 M832,52.4 L833.14,53.96 L832.14,52.5 L829.98,50.97 L829.87,49.18 M795.23,94.72 L795.57,93.36 L798.04,94.99 L799.18,94.62 M839.01,76.78 L837.43,74.6 L838.62,74.19 L838.15,75.98 L839.71,74.22 L839.73,72.63 M759.97,64.2 L758.04,63.83 L757.52,64.1 L756.13,65.49 L758.33,67.7 L756.28,65.84 M837.89,52.67 L835.77,54.79 L837.84,56.52 L838.69,54.5 M827.38,88.74 L825.98,90.25 L824.58,88.01 L822.79,89.66 L821.84,89.46 L822.01,90.26 M788.65,53.58 L787.63,55.48 L789.82,54.8 L787.41,52.79 L788.28,50.82 L785.93,49.65 M826.74,84.58 L827.08,83.17 L828.64,81.33 M782.69,80.92 L782.45,82.64 L784.56,81.33 L785.25,80.27 L787.59,80.14 L786.59,82.31 L787.82,82.03 M791.13,62.76 L792.66,64.08 L790.69,63.77 L791.97,62.99 M815.33,52.03 L815.45,51.01 L816.72,50.5 M793.14,62.3 L795.28,62.42 L796.85,60.15 L795.31,60.6 L795.6,58.22 L794.21,58.39 M763.97,74.22 L763.96,73.5 L762.51,73.88 M774.52,99.66 L774.17,101.04 L776.35,99.98 L773.98,101.09 L773.3,100.54 M761.91,49.41 L762.77,51.12 L763.12,53.51 L763.13,54 M791.73,84.51 L793.97,83.29 L792.6,83.44 M794.07,90.89 L793.1,91.26 L793.64,93.29 L794.71,91.13 M776.76,71.4 L778.5,69.22 L776.81,69.31 M808.07,72.37 L810.28,71.89 L807.86,72.54 M823.14,82.65 L825.55,81.9 L824.92,81.67 L824.48,80.01 L823.8,79.56 L824.18,80.47 M758.02,56.66 L758.95,57.45 L758.56,57.19 L760.02,55.51 L762.42,54.47 L763.06,55.26 M840.05,101.18 L838.66,102.39 L836.78,100.98 L839.28,98.75 M834.25,94.36 L834.99,96.06 L836.72,93.73 L834.73,93.23 L835.37,94.85 L835.15,94.68 L837.13,96 M831.45,48.54 L830.15,47.31 L828.51,45.32 L826.48,47.61 L828.8,45.68 M779.94,99.93 L779.31,102.27 L781.7,101.47 M811.66,69.06 L810.82,69.02 L809.65,69.92 M831.47,82.26 L832.01,83.76 L829.63,86.21 L832.1,88.6 L832.74,87.61 L832.66,88.82 L832.62,88.36 M781.78,86.33 L782.77,83.86 L784.26,82.64 M787.91,52.14 L790.38,54.54 L792.02,56.72 M778.67,51.21 L776.41,53.11 L776.37,54.67 L774.31,55.77 M797.95,78.78 L797.09,80.07 L796.84,77.67 M773.95,92.77 L772.25,90.99 L771.45,92.24 L769.13,93.34 L767.67,95.41 M784.67,71.61 L786.73,72.01 L787.32,69.52 L786.28,70.15 L788.48,70.43 L790.65,71.01 M786.78,83.82 L785.77,84.07 L786.52,84.24 M785.24,94.98 L784.38,93.51 L782.13,95.13 L780.1,94.56 L782.48,95.94 L784.12,93.64 M825.87,90.79 L824,89.73 L822.82,89.44 L821.73,90.87 L821.36,90.38 L821.64,88.43 L822.96,86.72 M813.63,55.17 L815.33,54.88 L815.61,56.41 M793.08,66.92 L794.42,68.42 L794.1,69.28 M777.05,89.55 L776.33,89.75 L776.77,92.24 L778.9,94.33 M839.29,94.45 L841.25,96.59 L838.98,94.48 L841.18,96.86 L842.4,97.14 L840.77,98.04 M787.55,76.99 L786.84,76.49 L787.88,78.51 " fill="none" stroke="#4a3c60" stroke-width="0.7" stroke-opacity="0.7" stroke-linejoin="round" clip-path="url(#bl13)"/>
<path d="M1036.77,69.75 L1038.97,68.46 L1039.14,66.76 L1040.38,65.28 L1038.62,63.19 L1038.9,61.51 L1040.65,60.37 L1041.24,58.85 L1041.05,56.89 L1042.91,56.09 L1042.91,54.24 L1044.49,53.74 L1044.82,50.98 L1046.51,50.26 L1049.21,51.07 L1049.93,48.55 L1051.87,47.91 L1054.16,49.29 L1056.19,48.38 L1057.5,46 L1060.04,46.16 L1062.14,45.96 L1064.77,44.15 L1064.99,46.61 L1067.53,46.79 L1068.33,48.59 L1070.08,48.96 L1071.09,50.26 L1070.79,53.19 L1073.24,52.81 L1072.77,55.23 L1075.15,55.38 L1075.73,56.96 L1075.83,58.22 L1076.71,59.71 L1078.82,60.97 L1077.62,62.85 L1077.78,64.48 L1079.52,65.94 L1079.9,67.73 L1077.5,69.67 L1078.76,71.4 L1079.88,73.15 L1079.15,74.97 L1080.28,76.6 L1078.87,78.81 L1080.2,80.4 L1081.84,81.92 L1080.09,84.46 L1083.17,85.41 L1083.44,88.55 L1082.69,90.18 L1080.02,89.4 L1080.02,91.96 L1077.97,91.92 L1076.86,93.82 L1074.82,93.26 L1072.99,93.24 L1071.56,94.3 L1070.04,95.14 L1068.35,95.55 L1066.72,96.19 L1064.91,96.21 L1063.71,98.24 L1061.69,97.58 L1059.92,98.84 L1058.45,96.67 L1056.81,96.27 L1054.86,98.88 L1053.22,98.47 L1051.73,96.52 L1050.09,96.79 L1047.64,97.66 L1046.76,94.9 L1045.31,93.44 L1042.78,94.11 L1041.76,92.62 L1041.6,90.7 L1041.86,88.57 L1039.12,87.94 L1038.37,86.04 L1037.91,84.46 L1039.21,82.77 L1038.6,81.21 L1037.82,79.65 L1038.14,78.02 L1036.91,76.49 L1037.7,74.84 L1039.74,73.1 L1038.37,71.58Z" fill="#c9b9e6" stroke="#6f5f8f" stroke-width="0.7" stroke-linejoin="round"/>
<clipPath id="bl14"><path d="M1036.77,69.75 L1038.97,68.46 L1039.14,66.76 L1040.38,65.28 L1038.62,63.19 L1038.9,61.51 L1040.65,60.37 L1041.24,58.85 L1041.05,56.89 L1042.91,56.09 L1042.91,54.24 L1044.49,53.74 L1044.82,50.98 L1046.51,50.26 L1049.21,51.07 L1049.93,48.55 L1051.87,47.91 L1054.16,49.29 L1056.19,48.38 L1057.5,46 L1060.04,46.16 L1062.14,45.96 L1064.77,44.15 L1064.99,46.61 L1067.53,46.79 L1068.33,48.59 L1070.08,48.96 L1071.09,50.26 L1070.79,53.19 L1073.24,52.81 L1072.77,55.23 L1075.15,55.38 L1075.73,56.96 L1075.83,58.22 L1076.71,59.71 L1078.82,60.97 L1077.62,62.85 L1077.78,64.48 L1079.52,65.94 L1079.9,67.73 L1077.5,69.67 L1078.76,71.4 L1079.88,73.15 L1079.15,74.97 L1080.28,76.6 L1078.87,78.81 L1080.2,80.4 L1081.84,81.92 L1080.09,84.46 L1083.17,85.41 L1083.44,88.55 L1082.69,90.18 L1080.02,89.4 L1080.02,91.96 L1077.97,91.92 L1076.86,93.82 L1074.82,93.26 L1072.99,93.24 L1071.56,94.3 L1070.04,95.14 L1068.35,95.55 L1066.72,96.19 L1064.91,96.21 L1063.71,98.24 L1061.69,97.58 L1059.92,98.84 L1058.45,96.67 L1056.81,96.27 L1054.86,98.88 L1053.22,98.47 L1051.73,96.52 L1050.09,96.79 L1047.64,97.66 L1046.76,94.9 L1045.31,93.44 L1042.78,94.11 L1041.76,92.62 L1041.6,90.7 L1041.86,88.57 L1039.12,87.94 L1038.37,86.04 L1037.91,84.46 L1039.21,82.77 L1038.6,81.21 L1037.82,79.65 L1038.14,78.02 L1036.91,76.49 L1037.7,74.84 L1039.74,73.1 L1038.37,71.58Z"/></clipPath>
<g fill="#4a3c60" fill-opacity="0.13" clip-path="url(#bl14)"><circle cx="1050.72" cy="94.61" r="1.92"/><circle cx="1049.32" cy="46.77" r="1.49"/><circle cx="1046.96" cy="57.11" r="2.95"/><circle cx="1049.9" cy="58.1" r="2.41"/><circle cx="1079.27" cy="60.37" r="2.72"/><circle cx="1054.59" cy="74.7" r="2.39"/><circle cx="1080.4" cy="85.11" r="2.22"/><circle cx="1075.86" cy="64.36" r="1.97"/><circle cx="1081.2" cy="73.89" r="2.75"/><circle cx="1052.15" cy="93.5" r="2.43"/><circle cx="1049.13" cy="94.48" r="2.14"/><circle cx="1053.27" cy="58.85" r="1.41"/><circle cx="1047.03" cy="81.66" r="1.48"/><circle cx="1049.64" cy="68.66" r="2.29"/><circle cx="1055.12" cy="86.59" r="1.71"/><circle cx="1054.59" cy="67.47" r="1.46"/><circle cx="1048" cy="52.68" r="2.65"/><circle cx="1044.6" cy="80.37" r="1.64"/><circle cx="1067.11" cy="79.76" r="1.91"/><circle cx="1079.99" cy="79.78" r="2.31"/><circle cx="1040.08" cy="66.49" r="1.73"/><circle cx="1059.14" cy="94.46" r="2.93"/><circle cx="1040.79" cy="81.01" r="3.07"/><circle cx="1062.41" cy="50.04" r="2.93"/><circle cx="1057.19" cy="96.97" r="2.95"/><circle cx="1075.3" cy="94.35" r="1.34"/><circle cx="1073.72" cy="61.11" r="1.47"/><circle cx="1055.06" cy="76.17" r="1.21"/><circle cx="1058.23" cy="86.54" r="2.19"/><circle cx="1061.77" cy="60.63" r="3.14"/><circle cx="1049.17" cy="81.07" r="2.49"/><circle cx="1038.03" cy="97.81" r="1.67"/><circle cx="1082.5" cy="94.19" r="3"/><circle cx="1076.49" cy="66.02" r="2.09"/><circle cx="1053.56" cy="94.6" r="1.26"/><circle cx="1044.16" cy="95.69" r="2.81"/><circle cx="1069.77" cy="96.3" r="2.25"/><circle cx="1075.59" cy="68.42" r="3"/><circle cx="1041.13" cy="68.17" r="2.35"/><circle cx="1073.75" cy="67.34" r="2.56"/><circle cx="1081.55" cy="67.14" r="1.6"/><circle cx="1039.36" cy="90.66" r="2.15"/><circle cx="1055.46" cy="72.49" r="1.44"/><circle cx="1047.99" cy="57.42" r="1.71"/><circle cx="1076.68" cy="58" r="1.38"/><circle cx="1077" cy="74.54" r="1.26"/><circle cx="1068.38" cy="81.34" r="2.5"/><circle cx="1072.86" cy="67.41" r="1.65"/><circle cx="1071.49" cy="78.09" r="2.61"/><circle cx="1046.26" cy="64.69" r="2.58"/><circle cx="1055.31" cy="76.89" r="2.15"/><circle cx="1071.96" cy="63.4" r="2.2"/><circle cx="1075.28" cy="61.39" r="1.55"/><circle cx="1066.65" cy="51.97" r="2.91"/><circle cx="1050.37" cy="92.91" r="2.27"/><circle cx="1044.94" cy="72.57" r="2.57"/><circle cx="1059.88" cy="78.63" r="1.94"/><circle cx="1081.16" cy="54.16" r="2.8"/><circle cx="1039.07" cy="71.83" r="1.33"/><circle cx="1043.93" cy="76.15" r="3.01"/><circle cx="1051.92" cy="66.29" r="2.15"/><circle cx="1065.23" cy="63.5" r="1.9"/><circle cx="1076.41" cy="74.4" r="1.9"/><circle cx="1074.81" cy="97.95" r="2.06"/><circle cx="1038.68" cy="61.11" r="3"/><circle cx="1045.73" cy="55.45" r="2.78"/><circle cx="1043.14" cy="90.01" r="1.65"/><circle cx="1055.46" cy="76.46" r="1.42"/><circle cx="1072.87" cy="68.18" r="2.74"/><circle cx="1072.38" cy="48.98" r="2.85"/><circle cx="1074.94" cy="57.74" r="2.38"/><circle cx="1047.25" cy="73.5" r="2.7"/><circle cx="1054.96" cy="73.2" r="1.46"/><circle cx="1076.84" cy="78.16" r="2.86"/><circle cx="1041.63" cy="84.48" r="1.38"/></g>
<path d="M1063.04,57.15 L1061.21,57.43 L1060.29,57.49 M1066.94,92.05 L1065.05,92.08 L1066.79,90.4 L1066.71,91.49 L1064.7,90.76 M1062.11,61.79 L1062.28,60.3 L1062.48,59.57 M1069.62,94.5 L1071.7,94.13 L1070.09,96.45 L1069.71,95.67 M1075.09,74.53 L1073.35,76.75 L1073.56,77.73 L1072.57,76.45 L1071.55,74.8 L1073.85,72.9 M1048.92,78.54 L1047.14,78 L1045.2,76.65 L1043.69,77.51 M1072.78,46.73 L1073.08,45.33 L1075.41,43.98 L1076.95,45.56 L1074.47,47.3 M1056.93,71.57 L1056.69,70.28 L1054.44,72.2 L1054.21,73.26 L1054.92,75.66 L1057.1,77.84 M1060.7,93.24 L1062.81,93.21 L1062.34,93.1 L1062.5,95.53 L1061.6,95.74 M1075.64,48.59 L1078.07,46.4 L1076.38,44.85 M1049.31,71.19 L1050.62,68.7 L1050.97,70.46 L1048.86,68.43 L1049.37,66.97 L1050.16,67.07 M1080.8,87.56 L1081.87,87.33 L1081.17,89.14 L1081.03,90.38 L1080.47,89.7 L1078.06,90.85 M1051.04,71.13 L1051.86,69.8 L1054,67.57 L1053.57,69.7 L1055.29,70.17 L1057.14,68.55 M1039.77,60.66 L1038.91,58.48 L1041.24,60.59 M1038.83,83.48 L1041.31,81.04 L1039.93,80.58 L1041.83,79.76 L1042.18,81.28 L1042.77,82.94 L1040.35,83.14 M1038.94,90.17 L1041.26,91.24 L1039.72,91.72 M1074.25,51.57 L1073.37,49.28 L1074.5,50.93 L1075.85,50.04 L1074.6,52.36 M1074.75,96.33 L1073.22,96.26 L1074.46,94.84 L1072.89,95.44 L1071.56,97.87 L1069.86,95.78 M1055.53,71.18 L1056.99,71.31 L1056.07,73.42 L1058.26,73.05 M1062.61,44.91 L1060.3,45.07 L1061.74,43.81 L1061.98,45.89 L1061.13,46.04 M1073.86,53.54 L1074.38,52.95 L1073.79,51.1 L1073.28,49.21 L1074.83,49.4 M1054.99,90.13 L1053.11,92.15 L1052.38,89.99 L1051.43,90 L1050.27,90.85 M1050.88,68.59 L1053.01,70.51 L1053.7,68.56 M1077.95,65.01 L1076.04,64.18 L1075.01,65.42 L1074.06,67.04 L1075.72,66.14 M1069.7,93.83 L1068.6,92.79 L1067.57,93.04 M1043.93,74.69 L1042.71,74.59 L1040.68,74.45 L1041.98,71.95 L1042.72,74.06 M1050.58,61.82 L1048.86,60.66 L1049.45,60.75 L1047.78,59.25 M1060.1,90.96 L1061.15,92.51 L1060.66,91.95 L1059.72,89.95 M1080.1,71.47 L1078.15,71.04 L1076.51,70.56 L1074.16,70.9 L1075.68,72.76 M1079.98,58.27 L1080.53,57.33 L1080.17,59.63 L1079.05,58.45 L1080.69,57.92 M1051.3,85.74 L1050.85,85.14 L1051.67,85.52 L1050.55,87.69 L1048.25,87.57 L1046.4,85.62 M1047.85,95.07 L1050.17,93.43 L1052.39,95.55 M1076.75,76.28 L1078.34,76.52 L1078.26,75.07 L1076.6,76.92 M1039.73,91.2 L1042.04,91.54 L1043.04,91.28 L1041.12,89.27 M1048.14,84.01 L1047.21,85.28 L1045.52,87.26 L1044.34,86.08 M1060.98,56.74 L1062.29,55.5 L1062.38,56.3 L1062.4,53.99 L1062.1,55.73 M1050.76,76.67 L1053.18,77.48 L1055.23,79 L1055.17,79.74 L1056.9,80.84 L1055.38,80.2 L1057.37,82.38 M1038.56,62.01 L1037.52,64.24 L1039,65.61 L1036.73,63.4 L1034.39,63.11 L1032.06,61.33 M1040.6,97.68 L1038.84,95.8 L1039.7,96.06 L1038.81,94.73 L1037.79,96.83 L1036.09,96.4 M1072.92,73.82 L1070.48,73.91 L1071.69,73.56 L1069.7,75.91 L1071.25,74.83 L1072.4,73.17 M1065.71,82.69 L1063.47,80.73 L1064.69,82.3 L1064.89,82.73 L1066.86,82.3 L1067.28,83.95 L1068.06,81.68 M1078.41,80.43 L1078.72,79.09 L1076.89,76.97 L1078.82,75.58 L1077.34,73.96 M1050.8,95.12 L1051.14,92.86 L1053.5,92.3 L1053,94.39 M1077.97,83.67 L1079.49,83.61 L1078.57,85.69 M1082.96,57.52 L1084.12,55.69 L1086.59,54.79 M1056.84,72.45 L1056.86,73.82 L1055.02,71.61 M1048.86,50.2 L1047.49,51.53 L1045.57,52.16 L1044.23,52.77 L1045.44,53.74 L1045.86,55.8 L1045.55,55.63 M1067.27,51.09 L1065.32,49.13 L1062.87,50.92 L1060.5,50.77 L1060.95,50.69 M1082.75,76.64 L1084.31,77.8 L1083.75,79.16 M1049.41,53.83 L1048.7,56.14 L1050.23,58.25 L1048.32,58.12 L1050.3,59.31 L1050.46,59.53 M1040.78,89.8 L1040.87,90.02 L1040.93,89.45 L1041.35,89.65 L1042.83,88.87 L1042.61,86.42 M1071.58,47.98 L1069.62,47.33 L1070.56,49.69 L1068.5,51.21 L1069.47,49.12 L1070.41,50.74 L1071.93,48.7 M1049.04,79.84 L1048.86,81.71 L1048.81,80.28 L1046.57,79.71 M1072.35,76.14 L1074.16,77.04 L1073.13,76.93 L1071.28,75.66 M1040.96,96.14 L1043.08,97.62 L1044.26,97.1 L1042.7,98.37 L1040.97,98.31 L1040.25,97.7 M1066.44,76.14 L1067.71,78.56 L1068.86,80.17 M1070.64,65.56 L1072.05,63.94 L1073.71,62.25 L1075.97,60.08 L1077.16,60.64 L1075.83,61.58 L1075.17,62.7 M1056.49,94.21 L1057.49,92.51 L1058.87,94.69 L1060.7,96.77 L1060.36,97.56 L1060.91,95.77 L1061.85,95.12 M1059.89,86.21 L1061.61,84.28 L1061.05,82.28 L1060.28,81.77 L1058.57,81.58 M1075.53,80.07 L1076.51,81.75 L1074.17,83.75 L1072.39,82.94 L1069.92,81.98 M1079.58,68.93 L1079.63,67.47 L1080.55,69.77 L1079.1,67.63 L1077.99,66.83 L1079.81,64.5 M1039.93,73.21 L1040.91,74.64 L1039.93,74.78 L1041.36,76.62 L1039.78,78.98 L1041.06,79.17 M1049.61,59.07 L1050.46,57.7 L1048.88,56.28 L1047.72,55.77 M1060.62,59.21 L1059.62,57.97 L1061.68,59.02 L1063.69,61.01 L1063.71,59.85 M1063.81,86.09 L1064.92,86.02 L1066.18,87.16 L1066.71,85.6 L1064.42,84.79 M1078.55,65.95 L1080.39,68.39 L1080.46,68.65 M1060.75,82.26 L1060.07,84.61 L1058.88,85.12 L1059.14,86.1 L1059.95,83.74 L1058.49,81.98 L1060.05,83.23 M1080.04,88.99 L1079.42,88.57 L1079.31,90.67 M1072.63,71.03 L1072.33,70.84 L1070.79,70.57 L1068.56,71.2 L1070.23,70.32 M1058.24,96.29 L1058.63,98.62 L1058.5,99.21 L1060.42,98.5 L1060.07,99.31 L1061.14,100.31 M1056.32,59.73 L1056.42,58.51 L1054.28,58.6 L1056.32,60.44 M1071.56,67.38 L1073.46,66.41 L1073.64,65.73 M1046.71,70.9 L1046.05,72.14 L1044.96,71.61 L1045.15,72.37 M1041.99,94.01 L1044.47,93.23 L1046.19,91.26 L1043.91,92.13 L1042.96,90.78 L1042.99,92.25 L1042.7,92.5 M1072.13,49.81 L1070.23,49.71 L1070.42,48.35 L1071.83,46 L1070.13,44.23 L1070.42,46.15 L1071.05,44.4 M1075.24,52.28 L1072.77,50.83 L1073.66,53.29 M1046.65,65.92 L1047.01,67.08 L1044.75,65.8 M1068.39,84.32 L1069.91,81.82 L1068.93,79.68 L1067.05,80.8 L1066.48,82.71 M1039.22,69.03 L1041.24,69.32 L1043.43,70.53 L1044.01,68.12 L1043.47,66.08 M1061.74,56.35 L1062.72,55.62 L1063.35,56.9 L1065.3,58.42 L1065.31,58.82 L1066.25,60.09 L1068.36,57.67 M1039.02,95.89 L1036.68,95.85 L1036.75,95.77 M1073.51,88.2 L1073.29,85.98 L1072.76,84.78 L1072.96,83.6 M1047.74,63.58 L1050.2,61.88 L1051.4,59.66 L1050.46,61.06 L1051.6,62.04 L1051.56,61.76 M1040.31,79.91 L1039.67,78.14 L1038.47,79.67 L1036.41,80.16 L1037.76,81.41 M1054.72,81.35 L1054.62,83.52 L1056.78,82.5 L1054.6,82.32 M1079.82,85.15 L1082.16,83.21 L1083.87,83.54 L1084.14,81.94 L1083.46,80.39 L1081.06,81.4 M1042.4,49.56 L1044.04,47.56 L1043.75,45.82 M1053.42,69.22 L1055.58,71.63 L1055.63,70.98 L1056.93,72.82 L1058.94,71.25 M1078.18,68.38 L1079.7,66.46 L1080.47,66.17 L1078.29,64.05 L1080.79,62.08 L1080.88,63.09 M1071.76,82.51 L1073.33,81.97 L1074.74,82.27 M1072.63,93.2 L1071.37,92.54 L1069.81,91.68 L1068.07,89.25 L1067.55,90.89 M1066.29,80.03 L1064.74,81.4 L1062.82,78.95 L1060.94,79.79 L1059.26,78.53 L1059.34,76.05 M1081.74,84.48 L1083.17,85.26 L1082.96,85.43 L1084.28,86.19 L1083.92,86.47 L1083.61,87.13 M1074.4,85.8 L1073.59,84.3 L1075.15,82.04 M1061.24,62.19 L1061.08,63.04 L1061.7,61.59 L1061.64,63.33 M1058.53,69.33 L1058.23,67.96 L1057.14,65.51 L1058.7,64.45 L1057.29,64.1 M1053.68,74.1 L1055.52,75.36 L1054.25,76.02 L1053.12,75.33 L1051.12,75.38 M1066.82,58.53 L1065.26,59.36 L1065.7,59.01 L1063.89,57.42 L1064.45,57.16 M1081.8,56.62 L1080.75,54.96 L1080.6,57.35 L1079.12,55.86 L1078.44,56.7 M1046.38,90.56 L1045.67,88.67 L1043.52,90.76 M1056.52,58.1 L1055.27,55.7 L1056.53,54.11 L1057.58,51.69 M1069.66,56.36 L1070.95,54.62 L1068.72,52.62 L1067.58,52.54 M1048.67,54.07 L1047.41,55.87 L1047.9,53.42 L1049.3,52.46 M1061.18,73.06 L1059.87,72.57 L1059.96,70.4 M1051.31,50.41 L1049.99,48.69 L1048.91,49.27 L1049.9,48.6 M1055.08,46.75 L1055.37,45.32 L1053.53,47.28 L1053.04,45.53 L1054.3,43.66 L1055.06,45.54 M1075.67,47.94 L1074.08,47.63 L1074.08,49.69 L1072.86,47.47 L1072.36,47.63 L1071.63,46.37 M1056.44,73.99 L1058.81,74.86 L1056.81,76.25 L1056.62,78.18 M1044.46,70.19 L1046.14,72.25 L1047.96,73.09 M1040.6,84 L1038.68,86.03 L1039.52,84.78 L1039.01,84.7 L1038.72,85.33 L1036.88,86.35 M1044.74,96.25 L1044.53,96.57 L1042.65,98.18 L1042.14,97.5 L1040.59,95.97 M1064.46,93.62 L1063.07,93.13 L1061.65,93.42 L1061.77,92.73 M1042.96,50.65 L1040.77,52.46 L1043.27,51.21 M1064.59,84.72 L1062.92,86.44 L1061.89,85.97 L1063.81,86.85 L1065.66,84.87 M1059.74,56.53 L1057.41,56.19 L1058.44,56.96 L1058.84,59.46 L1057.23,59.69 L1055.66,58.58 M1066.77,76.26 L1066.46,74.11 L1065.07,73.17 L1064.37,74.22 L1063.53,76.55 L1061.34,76.81 M1078.13,93.13 L1080.42,95.62 L1077.98,95.16 L1075.94,96.27 L1076.37,97.38 M1070.37,45.55 L1072.63,46.12 L1071.49,48.37 L1071.7,50.38 L1072.27,52.79 L1072.46,51.53 L1070.04,49.59 M1049.26,60.95 L1047.43,59.84 L1047.78,59.7 L1047.52,57.34 L1045.68,56.31 L1047.47,56.99 M1073.19,53.21 L1074.84,52.89 L1077.15,52.77 M1052.63,83.45 L1054.6,82.29 L1054.32,81.44 L1054.91,79.02 M1070.14,85.92 L1068.76,87.25 L1070.32,87 L1067.95,85.92 L1068.41,86.68 M1076.48,45.49 L1075.35,44.44 L1076.57,44.05 L1076.35,44.85 L1078.09,47.18 L1077.24,47.02 L1075.41,45.94 M1064.85,69.71 L1064.3,67.63 L1065.08,69.64 L1067.38,70.04 L1067.92,71.99 M1070.56,88.05 L1070.01,88.33 L1069.54,87.32 L1067.98,85.9 L1068,83.99 L1066.62,85.81 L1064.99,87.6 M1063.09,61.55 L1062.44,63.58 L1062.87,62.72 L1061.39,62.05 L1063.75,60.84 L1064.83,60.78 M1039.73,52.62 L1037.98,54.03 L1038.43,52.31 L1036.7,53.83 L1038.88,53.32 M1038.53,96.41 L1037.92,94.84 L1035.43,92.95 M1038.24,76.79 L1040.68,74.95 L1041.78,72.91 L1043.82,75.25 L1043.62,75.22 L1042.95,75.48 M1051.87,61.64 L1050.2,60.64 L1052.5,62.12 L1051.18,60.71 M1054.71,95.79 L1056.15,97.27 L1057.99,97.5 L1058.62,95.76 L1056.29,97.37 L1056.18,98.3 L1057.55,97.21 M1071.29,53.74 L1072.65,51.8 L1070.83,52.49 L1070.02,53.99 M1068.36,94.7 L1069.48,93.43 L1071.65,93.91 L1069.26,94.31 M1071.74,69.24 L1070.64,69.47 L1071.42,69.3 L1070.71,71.17 L1071.29,72.47 L1072.37,70.25 M1076.21,58.15 L1076.07,59.91 L1074.05,59.02 L1071.74,60.79 L1074.23,58.8 L1072.89,60.19 L1070.81,60.75 M1082.45,47.49 L1081.89,48.01 L1082.66,49.13 L1083.07,47.55 L1083.43,46.48 L1081.71,47.96 M1054.27,94.62 L1055.32,92.87 L1053.89,90.45 M1081.83,79.1 L1082.49,80.86 L1084.94,80.84 L1084.06,82.68 L1083.59,80.19 M1063.82,94.48 L1064.23,95.79 L1062.81,95.53 L1064.52,93.71 L1064.08,95.09 L1061.81,94.92 L1059.63,95.23 M1040.15,69.19 L1041.09,71.35 L1039.38,69.83 M1046.85,57.32 L1049.2,57.26 L1050.06,54.82 L1049.39,53.95 M1078.51,69.27 L1080.66,67.7 L1079.1,66.3 L1076.99,67.2 M1059.86,96.01 L1058.95,97.71 L1060.88,97.76 L1058.77,95.66 M1071.96,63.87 L1070.57,61.8 L1069.69,60.6 L1071.62,60.86 M1080.09,56.83 L1082.09,55.54 L1080.39,55.57 M1047.01,58.4 L1048.28,56.14 L1049.25,58.06 L1048.34,60.4 M1080.31,89.26 L1078.69,91.37 L1077.59,91.36 L1076.56,89.97 M1056.64,57.49 L1058.18,58.6 L1056.08,57.51 L1057.86,59.75 M1078.41,81.3 L1079.71,79.98 L1077.74,78.79 L1078.63,78.45 L1076.95,80.21 L1075.86,80.18 M1074.02,72.82 L1073.79,71.84 L1075.34,70.94 L1073.72,72.98 L1076.03,74.71 L1074.41,73.48 L1072.29,72.57 " fill="none" stroke="#4a3c60" stroke-width="0.7" stroke-opacity="0.7" stroke-linejoin="round" clip-path="url(#bl14)"/>
<path d="M1088.48,72.16 L1085.65,70.03 L1088.15,68.48 L1086.51,66.48 L1089.35,64.97 L1086.58,62.39 L1089.87,61.73 L1090.03,59.73 L1091.3,58.2 L1091.93,57.3 L1091.92,54.32 L1093.5,53.58 L1095.59,53.54 L1096.19,51.43 L1097.79,50.27 L1099.51,49.66 L1101.81,51.1 L1103.58,50.65 L1104.87,49.94 L1106.88,48.37 L1108.31,50.85 L1110.24,49.79 L1112.55,49.34 L1113.59,51.14 L1114.85,52.29 L1115.19,50.67 L1117.19,51.08 L1117.08,49.58 L1118.01,48.72 L1119.74,49.79 L1121.36,48.8 L1122.98,47.95 L1124.72,49.33 L1126.41,49.67 L1128,47.97 L1129.89,49.3 L1131.5,46.22 L1133.32,46.49 L1135.13,46.47 L1136.83,48.79 L1138.73,48.23 L1140.51,48.54 L1142.48,47.38 L1144.2,48.26 L1145.8,49.72 L1148.01,47.54 L1149.8,47.89 L1151.64,47.97 L1153.22,49.6 L1154.74,51.06 L1156.56,50.57 L1158.28,50.49 L1159.8,51.21 L1161.65,50.6 L1161.99,53.01 L1164.58,52.92 L1166.1,53.9 L1167.18,55.32 L1167.01,57.33 L1169.15,58.62 L1167.97,61.01 L1170.3,62.23 L1170.58,64.14 L1172.36,65.9 L1169.83,67.81 L1170.31,69.5 L1171.47,71.14 L1172.74,72.77 L1171.67,74.57 L1172.17,76.26 L1170.82,77.92 L1170.41,79.61 L1170.87,81.37 L1172.19,83.19 L1172.85,84.97 L1170,86.48 L1169.71,88.18 L1171.84,90.7 L1169.75,91.5 L1168.55,93.04 L1166.08,93.52 L1166.59,97.34 L1165.07,97.95 L1162.55,96.33 L1161.41,97.8 L1160.05,98.78 L1158.14,98.52 L1156.96,99.7 L1155.09,99.62 L1153.43,101.24 L1151.67,102.02 L1149.87,102.49 L1147.9,101.7 L1146.36,101.09 L1144.21,99.95 L1143.27,98.41 L1141.29,98.68 L1140.09,99.35 L1138.29,99.45 L1136.41,100.1 L1134.9,98.23 L1132.85,98.05 L1131.18,98.01 L1129.56,98.26 L1128.36,101.28 L1126.42,99.46 L1124.95,100.73 L1123.3,100.85 L1121.62,100.69 L1119.91,102.14 L1118.22,101.66 L1116.7,99.16 L1114.81,101.11 L1113.25,99.11 L1111.48,99.7 L1109.67,100.73 L1107.85,100.56 L1106.52,99.25 L1105.03,98.52 L1103.15,99.21 L1101.34,99.65 L1099.87,98.87 L1098.88,96.32 L1097.47,96.44 L1094.7,96.71 L1094.69,93.68 L1092.66,93.06 L1090.52,92.21 L1091.45,89.89 L1088.51,89.28 L1087.72,87.72 L1087.74,85.8 L1088.26,83.97 L1087.58,82.28 L1087.31,80.57 L1088.59,78.8 L1086.88,77.16 L1088.06,75.39 L1085.49,73.78Z" fill="#c9b9e6" stroke="#6f5f8f" stroke-width="0.7" stroke-linejoin="round"/>
<clipPath id="bl15"><path d="M1088.48,72.16 L1085.65,70.03 L1088.15,68.48 L1086.51,66.48 L1089.35,64.97 L1086.58,62.39 L1089.87,61.73 L1090.03,59.73 L1091.3,58.2 L1091.93,57.3 L1091.92,54.32 L1093.5,53.58 L1095.59,53.54 L1096.19,51.43 L1097.79,50.27 L1099.51,49.66 L1101.81,51.1 L1103.58,50.65 L1104.87,49.94 L1106.88,48.37 L1108.31,50.85 L1110.24,49.79 L1112.55,49.34 L1113.59,51.14 L1114.85,52.29 L1115.19,50.67 L1117.19,51.08 L1117.08,49.58 L1118.01,48.72 L1119.74,49.79 L1121.36,48.8 L1122.98,47.95 L1124.72,49.33 L1126.41,49.67 L1128,47.97 L1129.89,49.3 L1131.5,46.22 L1133.32,46.49 L1135.13,46.47 L1136.83,48.79 L1138.73,48.23 L1140.51,48.54 L1142.48,47.38 L1144.2,48.26 L1145.8,49.72 L1148.01,47.54 L1149.8,47.89 L1151.64,47.97 L1153.22,49.6 L1154.74,51.06 L1156.56,50.57 L1158.28,50.49 L1159.8,51.21 L1161.65,50.6 L1161.99,53.01 L1164.58,52.92 L1166.1,53.9 L1167.18,55.32 L1167.01,57.33 L1169.15,58.62 L1167.97,61.01 L1170.3,62.23 L1170.58,64.14 L1172.36,65.9 L1169.83,67.81 L1170.31,69.5 L1171.47,71.14 L1172.74,72.77 L1171.67,74.57 L1172.17,76.26 L1170.82,77.92 L1170.41,79.61 L1170.87,81.37 L1172.19,83.19 L1172.85,84.97 L1170,86.48 L1169.71,88.18 L1171.84,90.7 L1169.75,91.5 L1168.55,93.04 L1166.08,93.52 L1166.59,97.34 L1165.07,97.95 L1162.55,96.33 L1161.41,97.8 L1160.05,98.78 L1158.14,98.52 L1156.96,99.7 L1155.09,99.62 L1153.43,101.24 L1151.67,102.02 L1149.87,102.49 L1147.9,101.7 L1146.36,101.09 L1144.21,99.95 L1143.27,98.41 L1141.29,98.68 L1140.09,99.35 L1138.29,99.45 L1136.41,100.1 L1134.9,98.23 L1132.85,98.05 L1131.18,98.01 L1129.56,98.26 L1128.36,101.28 L1126.42,99.46 L1124.95,100.73 L1123.3,100.85 L1121.62,100.69 L1119.91,102.14 L1118.22,101.66 L1116.7,99.16 L1114.81,101.11 L1113.25,99.11 L1111.48,99.7 L1109.67,100.73 L1107.85,100.56 L1106.52,99.25 L1105.03,98.52 L1103.15,99.21 L1101.34,99.65 L1099.87,98.87 L1098.88,96.32 L1097.47,96.44 L1094.7,96.71 L1094.69,93.68 L1092.66,93.06 L1090.52,92.21 L1091.45,89.89 L1088.51,89.28 L1087.72,87.72 L1087.74,85.8 L1088.26,83.97 L1087.58,82.28 L1087.31,80.57 L1088.59,78.8 L1086.88,77.16 L1088.06,75.39 L1085.49,73.78Z"/></clipPath>
<g fill="#4a3c60" fill-opacity="0.13" clip-path="url(#bl15)"><circle cx="1153.47" cy="55.8" r="2.51"/><circle cx="1158.19" cy="82.81" r="2.36"/><circle cx="1133.7" cy="87.98" r="1.94"/><circle cx="1106.83" cy="77.48" r="2.24"/><circle cx="1096.87" cy="76.02" r="2.13"/><circle cx="1100.28" cy="85.61" r="2.76"/><circle cx="1115.76" cy="94.13" r="3.17"/><circle cx="1143.22" cy="69.42" r="1.74"/><circle cx="1098.03" cy="62.14" r="3.2"/><circle cx="1092.13" cy="96.88" r="2.59"/><circle cx="1153.55" cy="52.76" r="2.49"/><circle cx="1104.42" cy="83.96" r="2.79"/><circle cx="1148.25" cy="76.31" r="2.97"/><circle cx="1106.47" cy="55.88" r="2.93"/><circle cx="1091.73" cy="69.97" r="2.04"/><circle cx="1161.48" cy="67.5" r="2.34"/><circle cx="1129.56" cy="73.26" r="2.15"/><circle cx="1126.76" cy="79.6" r="2.06"/><circle cx="1122.92" cy="97.34" r="3.15"/><circle cx="1107.98" cy="98.55" r="1.25"/><circle cx="1115.23" cy="95.95" r="1.54"/><circle cx="1143.8" cy="101.08" r="2.42"/><circle cx="1126.01" cy="49.05" r="2.1"/><circle cx="1126.38" cy="89.99" r="1.98"/><circle cx="1155.41" cy="69.28" r="2.47"/><circle cx="1151.42" cy="56.37" r="3.11"/><circle cx="1125.21" cy="73.29" r="3.15"/><circle cx="1135.49" cy="75.47" r="1.63"/><circle cx="1105.68" cy="88.47" r="2.21"/><circle cx="1142.92" cy="84.95" r="2.56"/><circle cx="1114.46" cy="94" r="2.1"/><circle cx="1101.94" cy="94.23" r="3"/><circle cx="1097.23" cy="95.2" r="2.58"/><circle cx="1109.92" cy="78.46" r="3.04"/><circle cx="1099.89" cy="83.04" r="1.68"/><circle cx="1099.68" cy="98.72" r="3.19"/><circle cx="1142.62" cy="90.19" r="1.99"/><circle cx="1123.37" cy="80.61" r="2.83"/><circle cx="1146.5" cy="72.77" r="2.46"/><circle cx="1121.19" cy="91.15" r="2.94"/><circle cx="1152.69" cy="64.77" r="1.96"/><circle cx="1170.19" cy="67.82" r="2.53"/><circle cx="1095.19" cy="54.51" r="1.65"/><circle cx="1144.13" cy="59.7" r="2.51"/><circle cx="1093.18" cy="84.74" r="2.6"/><circle cx="1108.79" cy="60.3" r="1.7"/><circle cx="1128.93" cy="57.39" r="1.67"/><circle cx="1155.29" cy="97.97" r="1.52"/><circle cx="1131.1" cy="82.98" r="3.1"/><circle cx="1134.51" cy="76.09" r="2.74"/><circle cx="1153.96" cy="85.86" r="2.45"/><circle cx="1155.88" cy="49.67" r="2.73"/><circle cx="1105.88" cy="66.49" r="1.99"/><circle cx="1131.14" cy="79.26" r="2.37"/><circle cx="1113.88" cy="66.9" r="2.51"/><circle cx="1166.07" cy="67.98" r="1.22"/><circle cx="1159.48" cy="95.31" r="2.88"/><circle cx="1141" cy="69.93" r="1.33"/><circle cx="1165.17" cy="70.97" r="1.45"/><circle cx="1140.05" cy="49.79" r="1.98"/><circle cx="1138.22" cy="90.75" r="1.92"/><circle cx="1103.64" cy="65.97" r="2.84"/><circle cx="1094.71" cy="54.91" r="1.9"/><circle cx="1167.83" cy="95.1" r="3.13"/><circle cx="1091.09" cy="74.46" r="1.49"/><circle cx="1136.7" cy="90.22" r="2.16"/><circle cx="1145.59" cy="84.19" r="2.21"/><circle cx="1120.1" cy="60.34" r="2.64"/><circle cx="1170.33" cy="99.67" r="3.05"/><circle cx="1158.99" cy="82.82" r="2.19"/><circle cx="1097.25" cy="90.53" r="1.57"/><circle cx="1166" cy="93.7" r="1.77"/><circle cx="1163.97" cy="88.23" r="2.82"/><circle cx="1096.21" cy="62.08" r="1.51"/><circle cx="1166.92" cy="60.57" r="2.09"/><circle cx="1150.87" cy="68.84" r="2.46"/><circle cx="1140.04" cy="67.9" r="3.05"/><circle cx="1143.77" cy="87.35" r="2.66"/><circle cx="1139.62" cy="56.55" r="3.03"/><circle cx="1167.02" cy="52.92" r="1.94"/><circle cx="1102.9" cy="54.53" r="2.36"/><circle cx="1123.79" cy="54.6" r="2.16"/><circle cx="1146.06" cy="54.74" r="2.49"/><circle cx="1142.96" cy="92.34" r="3.2"/><circle cx="1161.77" cy="67.59" r="1.37"/><circle cx="1115.31" cy="56.53" r="2.91"/><circle cx="1118.08" cy="77.67" r="2.65"/><circle cx="1126.11" cy="101.29" r="2.52"/><circle cx="1137.64" cy="56.37" r="1.68"/><circle cx="1145.46" cy="71.14" r="2.36"/><circle cx="1161.65" cy="83.96" r="2.88"/><circle cx="1118.15" cy="51.06" r="1.75"/><circle cx="1163.84" cy="60.36" r="1.45"/><circle cx="1092.83" cy="101.39" r="1.62"/><circle cx="1093.49" cy="66.76" r="1.29"/><circle cx="1148.99" cy="84.58" r="2.05"/><circle cx="1148.59" cy="48.37" r="2.79"/><circle cx="1141.52" cy="88.04" r="1.48"/><circle cx="1167.84" cy="100.63" r="2.16"/><circle cx="1114.15" cy="75.31" r="2.62"/><circle cx="1126.18" cy="76.76" r="3.11"/><circle cx="1147.16" cy="68.34" r="3.02"/><circle cx="1153.88" cy="48.54" r="2.19"/><circle cx="1112.58" cy="63.87" r="1.94"/><circle cx="1157.98" cy="80.35" r="1.69"/><circle cx="1092.71" cy="55.51" r="1.95"/><circle cx="1133" cy="74.29" r="2.05"/><circle cx="1131.84" cy="64.12" r="3.1"/><circle cx="1105.65" cy="67.33" r="2.52"/><circle cx="1158.18" cy="69.21" r="2.47"/><circle cx="1108.56" cy="48" r="3.14"/><circle cx="1092.74" cy="88.55" r="1.26"/><circle cx="1112.39" cy="75.23" r="3"/><circle cx="1155.24" cy="63.56" r="1.22"/><circle cx="1150.95" cy="87.67" r="3.07"/><circle cx="1098.31" cy="83.52" r="2.43"/><circle cx="1161.49" cy="93.17" r="2.74"/><circle cx="1159.16" cy="51.81" r="3.17"/><circle cx="1138.25" cy="95.77" r="1.5"/><circle cx="1130.84" cy="95.31" r="3.13"/><circle cx="1138.92" cy="95.65" r="1.25"/><circle cx="1095.87" cy="61.19" r="2.95"/><circle cx="1147.56" cy="70.42" r="3.03"/><circle cx="1130.75" cy="55.25" r="3.08"/><circle cx="1149.72" cy="101.11" r="2.76"/><circle cx="1129.8" cy="95.72" r="1.46"/><circle cx="1087.65" cy="61.65" r="3.1"/><circle cx="1094.48" cy="88.3" r="2.28"/><circle cx="1098.19" cy="58.67" r="2.64"/><circle cx="1120.01" cy="94.9" r="1.3"/><circle cx="1135.83" cy="93.38" r="1.68"/><circle cx="1110.54" cy="78.68" r="1.55"/><circle cx="1141.93" cy="97.22" r="1.84"/><circle cx="1101.44" cy="94.87" r="1.31"/><circle cx="1159.34" cy="70.11" r="2.8"/><circle cx="1118.9" cy="99.18" r="2.51"/><circle cx="1137.63" cy="51.36" r="2.36"/><circle cx="1107.08" cy="85.77" r="1.84"/><circle cx="1106.44" cy="54.99" r="1.71"/><circle cx="1097.61" cy="62.49" r="2.27"/></g>
<path d="M1159.78,89.33 L1159.74,91.82 L1161.88,93.4 L1161.76,93.19 L1163.94,92.93 M1152.19,74.45 L1151.89,73.22 L1152.23,71.09 L1151.85,70.88 L1152.37,69.09 L1153.15,68.9 L1155.27,67.09 M1121.04,89.68 L1122.99,89.37 L1121.62,88.16 M1140.96,83.18 L1142.6,85.31 L1142.39,83.91 L1143.9,81.81 L1142.11,83.02 L1140.67,82.09 M1115.65,49.68 L1117.8,47.72 L1119.16,46.8 L1120.41,48.8 L1121.83,46.42 L1123.69,45.07 L1122.52,47.5 M1158.52,56.03 L1157.31,56.67 L1158.89,54.52 L1157.31,52.66 L1155.52,54.68 L1153.18,53.77 L1154.92,51.37 M1125.97,92.38 L1128.08,92.04 L1128.12,90.17 M1116.87,78.01 L1118.42,79.99 L1118.48,78.82 L1116.36,77.59 L1114.25,79.99 M1106.99,76.94 L1109.1,78.96 L1110.13,76.49 M1124.59,57.5 L1126.32,58.14 L1125.15,59.31 L1123.49,59.67 M1162.61,96.51 L1162.64,95.17 L1163.33,93.94 L1162.83,94.39 L1163.95,95.58 L1161.95,95.08 M1130.39,64.17 L1129.7,62.15 L1131.11,61.83 M1102.55,69.06 L1101.1,67.22 L1100.01,66.84 L1101.74,65.89 M1167.48,89.62 L1169.68,88.26 L1170.65,89.37 L1170.69,89.59 L1171.22,91.35 L1170.99,90.93 M1092.93,60.81 L1091.3,59.03 L1091.13,61.33 M1096.85,76.15 L1094.47,77.69 L1092.94,79.34 L1093.44,77.1 L1091.99,76.72 M1091.78,87.24 L1089.95,89.28 L1092,90.83 L1093.66,92.09 L1093.97,93.33 L1094.54,93.36 M1093.86,68.2 L1096.21,65.89 L1098.17,64.86 M1132.44,75.18 L1132.41,73.38 L1134.63,75.83 M1164.7,74.65 L1162.79,75.66 L1163.24,74.09 M1125.77,74.59 L1123.66,72.82 L1123.41,71.51 L1121.92,73.68 L1123.29,71.85 L1121.68,74.34 M1131.14,52.69 L1133.37,54.01 L1134.79,53.81 L1133.43,53.2 L1133.54,53.09 L1133.53,50.65 M1170.26,67.93 L1169.46,67.39 L1170.71,68.34 L1170.86,66.12 L1172.57,63.64 M1112.23,90.59 L1111.78,88.99 L1112.83,90.85 L1115.02,93.27 L1116.9,92.57 L1118.17,94.03 L1117.91,96 M1097.96,87.65 L1096.84,86.88 L1098.57,86.02 L1097.11,87.97 M1103.8,56.01 L1101.43,58.29 L1099.1,59.38 L1096.94,60.06 L1096.29,62.22 M1095.58,70.76 L1094.61,72.04 L1093,70.61 L1094.12,71.5 L1095.81,72.28 L1093.9,71.06 L1092.51,71.16 M1138.06,70.23 L1137.06,72.64 L1134.74,74.55 M1094.99,81.93 L1094.12,80.33 L1093.44,78.5 L1094.45,77.37 L1095.33,75.55 L1097.11,73.62 L1098.53,71.88 M1123.97,80.03 L1123.9,81.86 L1125.57,81.74 M1133.24,49.86 L1135.61,48.09 L1133.94,48.51 L1134.61,48.27 M1102.11,73.99 L1102.14,73.23 L1104.49,75.61 L1102.57,77.68 L1103.74,79.73 M1106.52,90.74 L1104.26,92.06 L1105.3,94.46 L1106.56,96.16 M1114.72,100.6 L1113.74,98.86 L1111.38,100.26 L1112.07,99.18 M1100.86,54.38 L1098.8,55.91 L1100.06,55.61 L1097.78,53.82 M1156.15,82.78 L1155.2,81.39 L1154.29,79.84 L1155.19,79.65 L1153.39,81.28 M1119.03,78.97 L1120.4,78.13 L1118.62,80.5 L1118.72,78.01 L1118.43,79.61 M1095.71,52.35 L1094.82,51.07 L1093.68,49.85 M1134.51,81.11 L1133.97,81.34 L1131.73,79.65 L1130.55,80.29 L1131.77,82.59 L1131.62,81.01 L1130.89,80.41 M1164.02,83.74 L1164.46,85.46 L1164.07,83.45 L1163.94,81.97 L1164.01,80.06 L1161.57,79.91 M1152.74,84.28 L1154.5,85.77 L1155.67,88.27 M1136.52,61.52 L1136.01,62.69 L1134.88,61.17 L1133.83,63.46 L1132.45,63.94 L1134.09,64.18 L1136.41,64.33 M1104.76,61.89 L1103.64,62.42 L1105.66,63.44 L1106.82,61.43 M1142.21,96.41 L1140.72,95.23 L1142.64,95.51 L1144.13,93.95 L1143.23,91.88 L1145.64,93.89 L1144.94,93.22 M1147.87,62.5 L1147.97,62.76 L1146.39,64.5 M1137.9,63.78 L1138.48,62.89 L1138.03,62.15 L1136.72,60.4 L1134.67,58.25 L1135.61,57.54 M1118.38,68.33 L1120.49,67.14 L1121.42,69.47 L1123.2,69.38 L1124.76,67.95 M1148.28,61.29 L1147.34,63.28 L1145.46,62.39 L1143.98,62.35 M1092.02,56.06 L1089.63,55.69 L1089.36,56.78 L1089.92,58.43 M1091.2,72.53 L1088.75,71.99 L1090.2,70.77 L1089.09,69.99 L1090.67,69.26 L1089.78,67.95 M1100.31,94.66 L1100.63,93.71 L1101.25,93.99 L1100.04,94.91 L1101.92,95.75 M1115.65,98.89 L1116.36,97.9 L1114.93,99.84 M1110.66,52 L1112.61,54.29 L1111.02,54.01 L1112.07,55.09 L1111.57,57.45 M1125.54,89.57 L1123.25,90.85 L1123.4,92.87 L1123.21,93.32 L1121.47,92.97 L1119.82,90.53 M1095.82,85.16 L1093.62,86.74 L1093.82,86.53 L1091.52,89 L1092.25,87.23 L1092.26,86.44 M1116.39,51.67 L1116.16,49.8 L1114.75,49.03 M1171.59,78.54 L1173.3,77.6 L1175.02,76.88 L1175.22,77.76 L1174.33,79.05 L1171.85,78.54 M1171.12,66.03 L1168.66,64.13 L1168.18,62.4 L1167.14,60.16 L1166.12,58.72 M1101.6,96.18 L1101.12,94.53 L1099.5,95.3 M1107.07,53.67 L1107.91,55.68 L1109.07,57.38 L1106.65,57.38 L1108.95,57.66 L1111.04,59.75 M1125.01,54.11 L1124.56,56.09 L1122.56,56.33 L1123.79,54.11 L1124.79,52.11 M1110.21,71.68 L1107.95,72.26 L1109.37,73.13 L1111.37,72.85 L1112.96,74.17 M1159.96,70.5 L1159.93,69.58 L1157.8,69.18 L1155.85,67.51 M1110.75,72.93 L1111.66,74.96 L1114.13,76.03 L1114.61,77.82 L1115.09,77.39 L1117.15,76.31 M1114.52,73.41 L1114.29,73.62 L1111.83,71.94 L1112.5,73.84 M1143.46,51.83 L1141.9,52.38 L1143.42,54.84 L1143.76,54.09 L1142.46,53.53 M1095.64,98.94 L1095.26,98.5 L1095.82,98.31 L1095.84,97.09 M1164.25,91.81 L1164.49,91.26 L1162.73,89.86 L1164.49,90.17 L1164.46,88.52 L1165.43,88.45 M1142.03,84.04 L1142.67,83.08 L1140.93,85.36 L1139.95,87.33 M1150.97,52.84 L1149.56,52.23 L1147.93,51.69 L1149.11,51.37 L1150.51,52.84 L1149.48,54.01 L1149.31,56.37 M1153.77,53.15 L1151.61,54.15 L1149.44,52.46 L1151.36,52.67 M1161.15,47.83 L1159.66,47.76 L1161.85,49.41 L1161.32,47.44 L1163.02,46.86 L1163.73,47.53 L1161.95,47.78 M1106.35,84.11 L1108.23,82.77 L1109.67,83.45 L1107.44,82.99 M1141.99,100.87 L1144.49,103.24 L1143.09,105.29 L1143.19,106.55 L1143.46,106.49 L1141.98,108.68 L1143.81,108.09 M1124.77,93.38 L1125.25,92.35 L1126.27,94.18 L1128.34,91.81 L1127.76,90.87 L1128.21,91.95 M1124.28,97.8 L1126.25,97.17 L1128.54,97.56 L1126.39,99.69 L1123.98,100.93 L1125.67,100.87 L1123.4,98.43 M1135.64,82.05 L1137.82,81.84 L1139.62,81.7 M1118.45,73.69 L1119.94,73.27 L1117.67,71.24 L1117.74,69.46 M1115.03,65.43 L1115.91,66.86 L1117.23,67.29 L1117.44,67.13 M1151.05,63.51 L1152.91,64.79 L1152.28,65.16 M1114.33,74.57 L1112.05,76.61 L1113.88,77.39 M1167.11,90.61 L1167.4,88.7 L1166.02,86.7 M1113.89,58.15 L1114.38,60 L1112.5,61.76 L1114.38,60.92 L1114.11,59.08 M1094.58,54.53 L1094.41,55.78 L1092.73,53.93 L1094.42,54.01 L1095.84,54.82 L1094.68,56.56 M1137.18,88.06 L1139.35,90.09 L1138.14,91.88 L1138.1,89.67 L1135.98,87.94 L1136.45,85.95 M1133.25,77.38 L1132.11,75.8 L1132.36,74.02 L1133.45,72.7 L1135.63,71.03 L1137.42,69.56 M1101.81,82.05 L1104.25,83.26 L1105.55,83.27 M1130.43,64.65 L1132.34,63.87 L1133.82,61.51 L1135.88,60.07 L1136.81,61.46 L1137.18,63.24 M1123.77,58.49 L1122.89,58.31 L1123.99,57.98 L1121.78,58.53 L1119.49,59.43 M1129.43,83.53 L1131.25,81.69 L1130.74,79.8 L1130.2,79.87 M1165.9,58.55 L1164.45,58.22 L1162.49,59.55 L1160.07,61.85 L1158.52,62.82 L1160.65,61.54 L1161.23,60.86 M1100.63,87.47 L1098.95,86.65 L1097.15,85.21 L1094.93,86.58 L1096.6,86.97 L1097.7,87.36 M1134.43,94.75 L1133.37,94.93 L1134.12,96.52 L1136.43,95 L1135.58,96.61 L1135.6,99.09 L1134.44,98.43 M1104.71,72.27 L1106.63,72.21 L1106.98,70.44 L1106.95,68.11 L1106.5,67.9 L1107.62,69.92 L1108.82,71.71 M1090.44,71.43 L1087.95,69.03 L1090.43,66.54 L1089.62,65.17 M1118.07,78.11 L1117.19,78.03 L1118.61,79.54 M1124.99,80.22 L1125.71,80.81 L1126.68,80.19 L1125.75,78.69 L1127.07,79.32 L1126.92,77.43 L1126.97,75.58 M1104.2,55.04 L1102.09,56.56 L1101.74,59.01 L1104.02,59.41 L1102.36,61.77 L1104.3,60.28 L1102.66,59.26 M1157.78,62.8 L1155.96,64.27 L1155.79,63.72 L1154.97,65.49 M1146.62,47.74 L1147.68,46.91 L1149.81,46.76 L1148.35,45.01 L1149.32,43.41 L1151.43,43.47 L1153.42,43.41 M1158.34,101.25 L1159.31,100.19 L1161.52,99.73 L1162.83,99.2 M1091.68,93.17 L1089.48,91.64 L1090.76,93.32 M1160.56,77.53 L1158.65,77.01 L1158.19,77.55 M1118,63.7 L1115.58,61.75 L1113.96,60.59 L1115.44,62.93 L1114.17,64.87 L1114.89,62.75 M1107.29,65.68 L1107.78,67.97 L1108.53,65.82 L1106.21,65.36 L1104.53,64.29 M1157.69,81.04 L1156.89,82.97 L1157.23,84.26 L1155.59,82.05 L1157.96,79.74 M1157.88,68.25 L1156.42,68.3 L1157.65,68.69 L1158.6,67.25 M1169.61,62.34 L1169.63,64.03 L1168.43,63.1 L1170.89,61.95 M1168.62,70.97 L1167.69,71.55 L1170.16,69.06 L1169.15,70.97 L1166.86,73.22 L1164.63,71.6 M1125.62,60.68 L1126.79,58.49 L1129.22,60.46 L1127.99,61.6 M1120.2,62.61 L1122.49,61.99 L1122.94,63.79 M1156.74,59.55 L1157.61,58.61 L1158.8,59.75 L1159.17,61.58 L1158.98,59.97 M1169.25,99.54 L1168.85,100.71 L1168.26,99.5 L1168.13,99.42 L1170.14,97.75 L1171.01,100.17 M1139.14,73.66 L1138.41,73.05 L1136.43,73.26 L1137.47,71.27 L1137.29,70.51 L1136.62,71.89 L1135.71,72.19 M1125.27,66.87 L1124.17,66.49 L1125.15,66.69 L1123.84,69.18 M1089.96,95.15 L1091.97,96.64 L1092.51,98.72 M1136.44,52.18 L1136.34,52.19 L1134.74,50.35 L1133.91,52.76 M1125.51,53.07 L1126.35,52.18 L1124.41,50.94 L1126.41,52.37 M1143.2,56.5 L1142,54.84 L1139.56,55.24 L1138.97,54.4 M1129.07,87.86 L1129.15,88.49 L1127.91,87.55 M1092.19,68.89 L1090.48,67.58 L1092.58,65.56 L1090.67,63.47 L1090.16,64.96 L1088.69,63.67 L1088.73,64.06 M1119.69,97.26 L1120.29,95.95 L1120.26,95.02 L1122.67,93.25 M1087.74,52.31 L1088.13,51.52 L1087.43,52.64 L1089.03,51.62 L1090.66,50.5 M1165.24,61.3 L1163.68,60.75 L1163.29,60.71 L1164.67,58.47 L1163.71,57.93 L1163.38,58.39 M1093.65,96.3 L1093.28,97.2 L1093.7,94.71 L1092.23,96.14 L1093.07,95.77 M1111.1,81.62 L1110.4,79.82 L1108.52,82.01 L1109.48,79.73 L1111.4,79.2 L1109.78,79.99 M1117.22,55.42 L1115.62,53.88 L1115.4,53.99 L1114.91,56.11 L1112.65,58.23 M1123.69,68.55 L1121.66,66.72 L1122.96,69.09 L1122.46,71.35 L1120.31,71.96 L1119.8,70.09 L1122.08,70.95 M1115.32,57.08 L1114.36,59.48 L1114.57,61.22 L1115.6,62.54 L1115.12,64.43 M1137.77,67.84 L1139.19,67.17 L1139.45,65.55 L1140.9,67 L1140.4,65.53 L1139.75,63.99 M1105.15,89.97 L1106.24,88.44 L1106.33,86.13 L1105.96,86.51 L1104.18,87.9 L1104.93,90.02 M1103.02,75.98 L1101.73,77.46 L1100.88,79.24 L1102.11,81.08 L1103.44,80.87 L1101.33,79.45 L1102.76,81.63 M1134.85,61.06 L1133.66,58.86 L1132.17,60.89 L1129.85,62.25 L1130.7,62.56 L1130.09,64.57 L1130.13,64.56 M1165.29,84.84 L1167,86.16 L1166.25,87.86 L1166.31,87.29 L1167.78,87.92 L1170.04,89.96 M1168.92,48.85 L1166.6,48.59 L1165.46,47.64 L1164.85,47.06 L1163.46,47 L1162.44,48.33 M1162.25,56.09 L1161.21,56.43 L1159.2,58.18 L1157.25,56.13 M1150.82,53.26 L1149.66,54.69 L1148.15,53.88 L1146.9,56.34 L1148.82,54.52 L1148.34,53.33 M1106.46,85.36 L1108.63,85.41 L1106.9,84.38 M1167.81,59.88 L1169.76,60.54 L1169.15,59.92 L1168.17,61.23 L1169.24,63.45 L1167.27,64.11 M1117.42,48.23 L1118.81,45.78 L1116.33,47.26 L1117.61,45.16 L1117.14,45.64 L1115.34,43.69 L1115.24,43.22 M1157.51,96.8 L1158.7,98.43 L1158.45,98.17 L1156.43,100.46 L1155.72,101.36 M1146.19,76.21 L1143.77,74.04 L1143.56,76.23 M1110.25,83.38 L1111.19,84.67 L1110.28,85.04 L1108.86,83.4 L1107.13,81.17 L1108.85,82.32 M1162.41,69.06 L1164.28,71.38 L1162.84,69.95 L1161.07,67.57 M1158.04,84.94 L1158.54,85.3 L1158.22,83.56 L1155.9,82.23 L1153.56,79.87 L1153.73,78.28 M1166.69,77.54 L1165.42,79.81 L1165.23,79.77 L1165.27,79.04 L1164.86,80.48 L1164.32,79.19 M1170.58,100.56 L1172.59,100.11 L1171.62,97.84 L1171.59,98.11 L1169.14,98.03 L1171.21,97.53 L1170.62,95.74 M1096.5,97.3 L1094.36,95.37 L1092.37,97.01 L1094.22,94.92 L1096.6,96.36 L1095.62,97.43 L1095.25,95.03 M1098.17,69.15 L1098.76,70.56 L1098.94,72.36 M1123.78,77.71 L1125.7,79.16 L1124.74,76.96 M1124.06,82.15 L1122.02,79.69 L1122.51,77.39 L1124.79,75.6 L1125.98,75.17 L1126.46,74.01 M1095.03,71.32 L1094.17,72.06 L1094.17,72.54 M1103.41,64.59 L1102.06,65.83 L1101.99,66.55 L1100.55,67.4 L1098.55,65.11 L1097.37,67.31 L1099.11,66.84 M1140.81,91.59 L1139.2,92.78 L1139.81,93.59 L1137.47,95.24 L1139.33,97.03 M1127.84,54.63 L1128.12,55.31 L1130.04,55.92 M1156.57,81.59 L1154.09,80.86 L1153.89,78.92 M1102.37,95.26 L1100.54,94.14 L1099.76,92.63 L1101.24,91.61 M1106.21,62.57 L1108.7,64.03 L1109.72,66.14 L1109.09,63.81 L1106.63,62.32 L1107.65,60.4 L1109.91,62.56 M1161.87,80.44 L1163.35,81.53 L1165.75,80.45 L1165.14,81.12 L1165.08,78.87 M1090.56,83.02 L1090.08,82.09 L1088.79,82.06 L1089.69,83.08 L1088.73,83.72 M1135.71,57.13 L1133.65,58.4 L1132,56.81 L1134.15,56.23 L1133.88,55.21 L1133.42,55.89 L1131.56,55.02 M1125.26,84.39 L1125.22,86.34 L1122.97,85.46 L1121.44,83.05 L1119.04,81.12 M1132.8,74.14 L1130.87,73.46 L1130.11,72.35 L1130.98,73.05 M1098.4,99.91 L1097.25,99.83 L1097.75,101.27 L1099.31,102.08 L1097.16,103.25 L1099.52,104.22 L1099.43,103.34 M1099.09,92.32 L1098.51,91.37 L1100.92,92.57 L1102.35,93.65 M1145.73,50.25 L1144.89,51.88 L1146.01,51.06 M1099.15,56.43 L1099.67,58.23 L1098.82,60.34 L1099.71,62.31 M1088.01,55.98 L1086.87,53.85 L1088.92,51.85 L1089.03,51.93 L1090.92,53.48 M1108.57,89.17 L1107.67,90.07 L1110.13,89.12 L1112.57,88.84 L1113.35,87.9 L1114.21,86.37 M1119.87,79.7 L1119.06,81.01 L1117.86,83.02 L1119.2,81.56 M1093.39,57.2 L1091.89,57.55 L1094.23,57.27 L1093.91,55.17 M1114.65,92.66 L1113,91.8 L1113.47,90.63 L1115.13,92.41 L1117.13,92.83 M1101.5,64.25 L1101.27,66.3 L1102.16,65.31 L1101.31,67.36 M1171.9,86.09 L1174.26,85.05 L1172.99,83.14 L1171.25,81.3 M1101.86,85.28 L1101.54,83.36 L1101.58,82.02 L1102.19,83.02 L1104.2,81.71 L1103.08,81.55 L1104.53,83.38 M1168.7,95.58 L1171.16,97.7 L1171.72,99.2 L1170.83,101.08 M1126.31,82.3 L1127.27,82.61 L1129.73,83.46 L1130.46,85.85 L1131.12,86.06 M1091.84,63.95 L1089.98,65.41 L1091.12,64.15 L1092.92,65.84 M1094.39,62.47 L1096.01,63.75 L1096.21,64.76 L1098.35,66.35 L1096.22,67.45 M1163.41,69.11 L1162.16,68.4 L1160.93,66.74 M1149.31,96.67 L1148.08,98.34 L1147.47,98 M1114.28,96.04 L1114.99,94.81 L1114.64,92.9 L1114.68,93.74 L1114.5,93.81 L1112.85,95.29 M1107.55,59.36 L1108.8,61.21 L1106.74,61.04 M1111.58,77.57 L1114.06,76.96 L1116.48,77.28 L1117.36,75.19 L1119.69,76.69 L1118.53,79.08 M1130.15,81.93 L1129.93,82.75 L1131.6,83.23 L1134.03,83.75 L1135.2,82.96 M1146.49,55.77 L1145.88,58.05 L1148.32,56.47 L1147.44,54.82 L1145.05,55.6 M1116.63,93.98 L1116.07,95.05 L1117.55,94.9 L1115.52,95.41 L1114.61,93.42 L1115.27,92.82 M1100.58,76.04 L1099.68,77.35 L1098.28,76.16 L1096.26,76.95 L1094.25,74.88 L1094.65,74.57 M1159.38,93.15 L1161.72,95.52 L1161.15,93.97 L1163.63,95.18 M1116.18,94.08 L1116.29,92.18 L1114.36,90.44 L1116.64,91.64 L1114.75,89.51 L1114.49,91.52 M1091.82,86.26 L1092.36,84.39 L1093,82.92 L1094.24,80.49 L1094.51,78 L1094.36,76.84 L1095.24,75.37 M1164.9,49.11 L1165.94,49.71 L1164.02,50.69 M1147.19,66.49 L1146.3,66.65 L1144.74,65.32 L1143.23,64.78 L1142.35,66.93 M1114.15,69.43 L1112.07,68.15 L1112.02,68.46 L1111.37,70.01 L1110.95,68.65 M1163.13,90.75 L1162.05,91.84 L1160.47,89.43 L1159.64,89 L1159.26,90.15 L1157.49,91.67 M1107.16,57.06 L1106.88,56.72 L1108.24,55.9 M1113.18,62.98 L1112.54,62.46 L1112.24,61 L1114.07,63.5 L1113.17,61.82 L1115.02,59.52 L1116.76,59.66 M1152.87,100.57 L1151.16,99.03 L1151.74,100.57 L1149.37,101.4 L1147.15,103.43 L1148.44,102.96 M1120.01,63.95 L1118.64,62.16 L1116.35,60.41 L1117.71,59.8 M1148.51,80.01 L1146.95,78.02 L1148.53,76.59 M1171.33,80.94 L1171.68,82.13 L1171.02,81.09 M1126.54,88.75 L1124.08,90.19 L1126.38,88.72 L1125.66,88.36 L1124.26,86.2 L1122.98,83.81 M1159.38,64.33 L1159.48,62.88 L1158.03,62.15 L1159.14,61.26 M1149.36,60.81 L1147.6,59.76 L1146.02,57.26 L1145.38,58.36 L1145.14,56.64 L1143.37,57.83 M1169.38,93.38 L1168.79,93.65 L1167.49,94.07 L1168.66,93.25 L1170.87,93.93 M1100.65,97.9 L1100.03,98.77 L1100.63,100.74 L1103.07,98.71 L1103.08,99.52 M1131.09,74.47 L1128.96,75.53 L1127.76,75.43 M1105.82,53.67 L1108.13,52.04 L1106.57,54.09 L1104.95,54.97 L1102.89,53.95 L1103.73,54.96 M1134.55,67.74 L1134.78,70.11 L1133.69,72.57 L1134.17,74.48 L1136.35,74.97 M1158.55,64.83 L1159.07,63.2 L1158.17,63.07 L1158.62,62.81 M1148.41,58.74 L1147.94,57.92 L1148.17,58.83 L1145.87,59.18 M1168.43,99.85 L1170.9,98.35 L1168.76,99.05 L1166.54,97.24 M1141.48,99.78 L1141.41,99.57 L1140.51,99.55 L1141.45,101.3 L1141.8,102.75 M1098.56,57.2 L1097.46,55.04 L1098.49,53.97 M1131.89,84.36 L1134.2,85.97 L1132.26,86.8 L1133.46,87.73 L1134.75,87.52 L1137.15,87.72 L1137.98,87.26 M1114.18,67.19 L1115.46,65.95 L1114.4,66.64 M1165.81,69.15 L1165.14,68.47 L1166.57,68.55 L1164.28,69.08 L1163.34,70.95 M1166.35,82.52 L1165.12,84.29 L1166.85,83.02 L1167.05,83.82 L1165.08,85.92 L1163.7,87.03 M1133.15,97.65 L1135.64,98.23 L1134.08,99.21 L1131.87,100.9 L1132,102.33 L1132.99,101.51 M1105.41,77.1 L1105.86,77.15 L1107.81,78.54 L1110.13,76.42 L1107.97,76.97 M1125.93,56.53 L1128.36,58.9 L1128.23,58.77 L1130.46,60.88 L1130.61,60.88 M1150.7,59.35 L1152.41,58.23 L1153.28,56.8 L1152.78,57.72 M1166.35,82.26 L1163.97,81.91 L1163.57,81.89 L1163.04,79.74 L1163.2,77.75 M1139.63,71.18 L1141.83,73.24 L1140.7,71.12 L1142.77,70.3 M1137.17,57.4 L1138.46,56.83 L1139.38,59.23 M1149.24,62.34 L1149.05,61.06 L1147.25,62.59 L1149.23,62.69 L1151.7,62.04 L1150.67,60.94 L1151.9,63.06 M1136.59,56.8 L1134.65,56.29 L1133.35,54.83 L1135.48,52.62 M1120.89,64.16 L1118.88,64.59 L1117.88,62.51 M1087.02,86.18 L1088.67,86.53 L1089.24,85.49 L1087.36,87.68 M1110.86,89.17 L1108.36,86.91 L1107.55,86.69 M1169.82,64.29 L1168.92,62.51 L1170.4,64.98 L1170.84,62.88 L1170.93,61.75 L1169.31,59.38 M1107.82,52.57 L1107.86,53.58 L1108.97,53.57 L1109.29,51.14 L1108.25,50.63 L1109.3,49.12 L1110.18,51.03 M1103.73,52.32 L1106.1,51.6 L1106.98,49.18 L1108.86,49.23 L1108.95,49.71 L1108.39,51.34 L1107.46,52.11 M1095.75,65.13 L1094.19,63.42 L1095.66,64.42 L1097.04,63.26 L1094.63,63.2 L1094.93,64.56 L1093.86,64.52 M1140.86,77.63 L1138.48,79.16 L1140.31,81.01 L1138.51,80.55 L1136.67,81.31 M1099.95,81.1 L1097.98,82.6 L1097.07,81.92 L1094.64,80.15 L1093.11,79.91 L1093.14,80.42 L1093.05,80.07 M1091.18,59.97 L1093.34,59.64 L1094.15,61.05 M1163.87,52.68 L1161.79,52.43 L1160.11,51.04 L1161.26,53.45 L1161.07,55.02 L1163.01,55.32 L1165.12,53.12 M1093.11,56.16 L1092.11,56.67 L1092.34,58.01 M1151.87,101.09 L1153.11,99.46 L1153.85,100.37 L1155.44,100.85 L1154.2,99.1 L1153,98.42 M1087.04,93.3 L1085.48,94.21 L1087.12,92.65 L1086.74,92.82 M1131.08,56.07 L1130.85,56.07 L1131.33,57.38 L1133.07,59.35 L1133.41,58.95 L1133.82,58.99 M1133.36,57.33 L1131.24,55.81 L1130.35,58.3 L1128.79,59.96 L1130.01,57.77 M1125.72,72.46 L1126.79,71.59 L1126.67,73.53 L1127.91,72.46 L1127.84,74.66 L1127.19,73.47 M1095.37,97.85 L1093.92,97.89 L1093.78,98.06 L1093.76,96.66 L1093.3,97.67 L1092.59,99.78 L1091.91,101.75 M1151.75,54.31 L1152.4,56.7 L1152.18,54.64 M1157.41,99.4 L1159.51,99.72 L1159.98,101.67 L1161.41,102.51 M1105.46,48.87 L1104.33,47.71 L1105.4,49.67 L1106.15,52.14 L1106.27,51.76 L1105.27,53.47 L1103.04,51.38 M1148.93,99.28 L1149.68,99.29 L1148.48,101.27 L1147.8,102.64 L1148.21,103.09 M1155.08,80 L1153.76,79.26 L1152.63,78.77 L1152.69,81.18 M1165.88,53.94 L1164.02,51.81 L1162.4,51.06 M1096.03,57.8 L1094.78,58.66 L1093.18,59.22 L1093.91,61.54 L1092.27,63.13 M1116.37,62.44 L1118.22,60.33 L1117.09,62.59 L1115.16,60.32 M1136.24,100.45 L1137.14,99.81 L1135.05,100.86 L1134.73,99.47 L1133.16,99.16 M1115.13,87.8 L1114.72,89.21 L1116.24,88.81 M1131.57,73.71 L1131.01,71.57 L1130.34,73.01 L1130.27,73.84 L1132.07,73.8 M1162.76,97.63 L1163.61,97.47 L1165.58,99.87 M1100.83,92.03 L1102.74,89.7 L1102.07,91.13 M1139.33,87.4 L1140.88,87.58 L1140.98,85.43 L1142.99,84.05 L1144.43,83.2 M1106.8,87.43 L1108.55,88.64 L1107.34,90.58 L1107.33,90.36 M1120.66,74.26 L1120.78,73.35 L1121.19,71.78 L1120.86,71.1 L1121.86,69.63 L1121.35,71.73 L1122.12,72.4 M1157.64,74.17 L1156.72,75.86 L1154.82,75.52 L1152.55,77.18 L1151.66,77.67 L1149.25,76.34 L1149.85,78.22 M1125.52,48.57 L1125.23,48.16 L1125.54,46.03 M1159.93,90.13 L1161.7,90.24 L1163.14,91.6 L1161.09,91.25 M1096.33,76.47 L1096.64,75.32 L1098.59,76.88 L1097.76,74.81 M1095.47,76.61 L1097.65,76.39 L1098.37,75.46 L1098.74,77.21 L1099.29,75.56 L1098.83,73.09 M1136.86,69.15 L1135.29,69.44 L1134.47,71.67 L1134.02,70.32 L1131.73,68.28 M1136.64,72.24 L1138.45,69.77 L1137.59,69.62 L1139.04,67.45 L1136.73,67.2 L1137.74,65.26 L1139.58,65.18 M1089.67,98.39 L1090.54,97.89 L1092.29,98.19 M1132.35,60.91 L1133.91,62.66 L1135.04,62.91 L1133.2,65.12 L1135.34,64.69 L1134.65,62.42 L1132.88,61.1 M1121.15,61.87 L1118.78,62.16 L1118.2,63.66 L1120.17,65.67 M1146.54,100.01 L1148.91,102.06 L1147.89,102.15 L1145.55,100.29 L1147.77,99.85 L1148.39,97.38 L1147.31,99.4 M1115.08,62.19 L1115.87,61.8 L1116.06,61.35 L1118.24,59.7 L1116.95,59.23 M1105.91,93.04 L1104.05,91.73 L1103.21,92.29 L1102.67,89.87 M1127.2,64.64 L1124.83,63.71 L1124.03,61.93 L1125.47,59.52 L1127.68,59.99 M1121.2,98.75 L1123.15,100.37 L1120.93,102.68 L1119.02,102.47 L1120.78,101.94 M1140.13,63.6 L1138.93,61.27 L1140.24,60.3 L1139.44,62.29 L1137.82,62.79 M1145.23,94.8 L1146.15,97.17 L1146.59,96.09 M1112.68,78.11 L1114.81,78.1 L1115.65,77.25 L1116.05,76.67 L1118.54,75.2 L1117.46,74.57 L1115.45,74.2 M1147.17,96.13 L1145.43,94.53 L1146.38,92.92 L1146.82,90.77 L1146.73,92.08 " fill="none" stroke="#4a3c60" stroke-width="0.7" stroke-opacity="0.7" stroke-linejoin="round" clip-path="url(#bl15)"/>
<text x="687.2" y="43.7" font-size="21.5" >ORC</text>
<text x="715.3" y="123.1" font-size="21.5" >SH</text>
<text x="801.9" y="123.8" font-size="21.5" >DH</text>
<text x="907.5" y="65.3" font-size="21.5" >HSW</text>
<line x1="903.7" y1="77.7" x2="951" y2="77.7" stroke="#000" stroke-width="1.8" />
<path d="M959,77.7 L945,71.2 L949,77.7 L945,84.2 Z" fill="#000"/>
<text x="1043" y="123" font-size="21.5" >SH?</text>
<text x="1129.5" y="123" font-size="21.5" >DH</text>
</svg></body></html>
